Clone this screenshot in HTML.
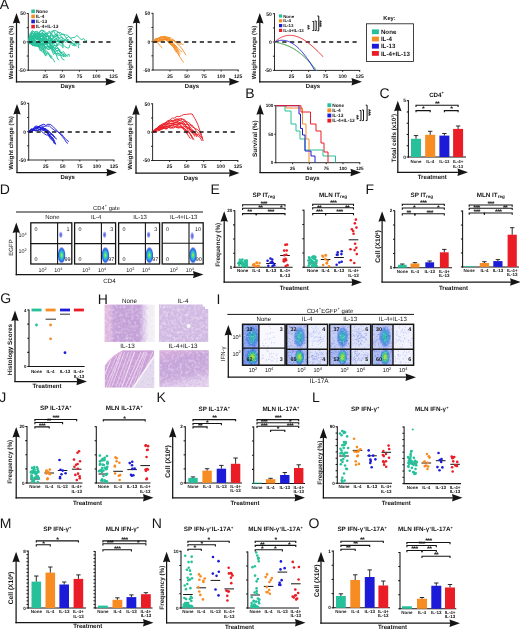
<!DOCTYPE html>
<html><head><meta charset="utf-8"><style>
html,body{margin:0;padding:0;background:#fff;width:520px;height:631px;overflow:hidden}
svg{display:block;will-change:transform}
text{font-family:"Liberation Sans",sans-serif;text-rendering:geometricPrecision}
</style></head><body>
<svg width="520" height="631" viewBox="0 0 520 631">
<defs><radialGradient id="gd0" cx="50%" cy="50%" r="50%"><stop offset="0" stop-color="#b0f040" stop-opacity="1"/><stop offset="0.28" stop-color="#40d890" stop-opacity="1"/><stop offset="0.5" stop-color="#28a8e8" stop-opacity="1"/><stop offset="0.75" stop-color="#2456e0" stop-opacity="0.95"/><stop offset="1" stop-color="#6a7af0" stop-opacity="0"/></radialGradient>
<radialGradient id="gu0" cx="50%" cy="50%" r="50%"><stop offset="0" stop-color="#4a54e0" stop-opacity="1"/><stop offset="0.55" stop-color="#7a84ec" stop-opacity="0.85"/><stop offset="1" stop-color="#b0b8f8" stop-opacity="0"/></radialGradient>
<radialGradient id="gd1" cx="50%" cy="50%" r="50%"><stop offset="0" stop-color="#b0f040" stop-opacity="1"/><stop offset="0.28" stop-color="#40d890" stop-opacity="1"/><stop offset="0.5" stop-color="#28a8e8" stop-opacity="1"/><stop offset="0.75" stop-color="#2456e0" stop-opacity="0.95"/><stop offset="1" stop-color="#6a7af0" stop-opacity="0"/></radialGradient>
<radialGradient id="gu1" cx="50%" cy="50%" r="50%"><stop offset="0" stop-color="#4a54e0" stop-opacity="1"/><stop offset="0.55" stop-color="#7a84ec" stop-opacity="0.85"/><stop offset="1" stop-color="#b0b8f8" stop-opacity="0"/></radialGradient>
<radialGradient id="gd2" cx="50%" cy="50%" r="50%"><stop offset="0" stop-color="#b0f040" stop-opacity="1"/><stop offset="0.28" stop-color="#40d890" stop-opacity="1"/><stop offset="0.5" stop-color="#28a8e8" stop-opacity="1"/><stop offset="0.75" stop-color="#2456e0" stop-opacity="0.95"/><stop offset="1" stop-color="#6a7af0" stop-opacity="0"/></radialGradient>
<radialGradient id="gu2" cx="50%" cy="50%" r="50%"><stop offset="0" stop-color="#4a54e0" stop-opacity="1"/><stop offset="0.55" stop-color="#7a84ec" stop-opacity="0.85"/><stop offset="1" stop-color="#b0b8f8" stop-opacity="0"/></radialGradient>
<radialGradient id="gd3" cx="50%" cy="50%" r="50%"><stop offset="0" stop-color="#b0f040" stop-opacity="1"/><stop offset="0.28" stop-color="#40d890" stop-opacity="1"/><stop offset="0.5" stop-color="#28a8e8" stop-opacity="1"/><stop offset="0.75" stop-color="#2456e0" stop-opacity="0.95"/><stop offset="1" stop-color="#6a7af0" stop-opacity="0"/></radialGradient>
<radialGradient id="gu3" cx="50%" cy="50%" r="50%"><stop offset="0" stop-color="#4a54e0" stop-opacity="1"/><stop offset="0.55" stop-color="#7a84ec" stop-opacity="0.85"/><stop offset="1" stop-color="#b0b8f8" stop-opacity="0"/></radialGradient>
<filter id="tex" x="0" y="0" width="100%" height="100%"><feTurbulence type="fractalNoise" baseFrequency="0.35" numOctaves="2" seed="3"/><feColorMatrix type="matrix" values="0 0 0 0 1  0 0 0 0 1  0 0 0 0 1  0 0 0 -2.2 1.25"/><feComposite in2="SourceGraphic" operator="in"/></filter>
<filter id="tex2" x="0" y="0" width="100%" height="100%"><feTurbulence type="fractalNoise" baseFrequency="0.5" numOctaves="2" seed="8"/><feColorMatrix type="matrix" values="0 0 0 0 0.45  0 0 0 0 0.25  0 0 0 0 0.6  0 0 0 -2.4 1.2"/><feComposite in2="SourceGraphic" operator="in"/></filter>
<linearGradient id="hTL" x1="0" y1="0" x2="1" y2="0"><stop offset="0" stop-color="#e4bce0"/><stop offset="0.12" stop-color="#dcb6e0"/><stop offset="0.18" stop-color="#c6a2d8"/><stop offset="0.7" stop-color="#c4a2d8"/><stop offset="0.78" stop-color="#dccaea"/><stop offset="0.86" stop-color="#f0eaf4"/><stop offset="1" stop-color="#f4f0f6"/></linearGradient>
<clipPath id="cBL"><path d="M104.6,366 Q110,358 118,353 L123,350.2 L154.2,350.2 L154.2,387.7 L104.6,387.7 Z"/></clipPath>
<linearGradient id="hBR" x1="0" y1="0" x2="0.3" y2="1"><stop offset="0" stop-color="#dcb0dc"/><stop offset="0.35" stop-color="#c6a4da"/><stop offset="0.75" stop-color="#caaadc"/><stop offset="1" stop-color="#e0cceb"/></linearGradient>
<radialGradient id="it0" cx="50%" cy="50%" r="50%"><stop offset="0" stop-color="#38c49a" stop-opacity="1"/><stop offset="0.35" stop-color="#36b0c8" stop-opacity="0.95"/><stop offset="0.7" stop-color="#4a7ee0" stop-opacity="0.75"/><stop offset="1" stop-color="#7a90ec" stop-opacity="0"/></radialGradient>
<radialGradient id="ib0" cx="50%" cy="50%" r="50%"><stop offset="0" stop-color="#c8e030" stop-opacity="1"/><stop offset="0.25" stop-color="#88dc48" stop-opacity="1"/><stop offset="0.5" stop-color="#38c890" stop-opacity="0.95"/><stop offset="0.78" stop-color="#3a88e0" stop-opacity="0.85"/><stop offset="1" stop-color="#4a70e0" stop-opacity="0"/></radialGradient>
<radialGradient id="it1" cx="50%" cy="50%" r="50%"><stop offset="0" stop-color="#38c49a" stop-opacity="1"/><stop offset="0.35" stop-color="#36b0c8" stop-opacity="0.95"/><stop offset="0.7" stop-color="#4a7ee0" stop-opacity="0.75"/><stop offset="1" stop-color="#7a90ec" stop-opacity="0"/></radialGradient>
<radialGradient id="ib1" cx="50%" cy="50%" r="50%"><stop offset="0" stop-color="#c8e030" stop-opacity="1"/><stop offset="0.25" stop-color="#88dc48" stop-opacity="1"/><stop offset="0.5" stop-color="#38c890" stop-opacity="0.95"/><stop offset="0.78" stop-color="#3a88e0" stop-opacity="0.85"/><stop offset="1" stop-color="#4a70e0" stop-opacity="0"/></radialGradient>
<radialGradient id="it2" cx="50%" cy="50%" r="50%"><stop offset="0" stop-color="#38c49a" stop-opacity="1"/><stop offset="0.35" stop-color="#36b0c8" stop-opacity="0.95"/><stop offset="0.7" stop-color="#4a7ee0" stop-opacity="0.75"/><stop offset="1" stop-color="#7a90ec" stop-opacity="0"/></radialGradient>
<radialGradient id="ib2" cx="50%" cy="50%" r="50%"><stop offset="0" stop-color="#c8e030" stop-opacity="1"/><stop offset="0.25" stop-color="#88dc48" stop-opacity="1"/><stop offset="0.5" stop-color="#38c890" stop-opacity="0.95"/><stop offset="0.78" stop-color="#3a88e0" stop-opacity="0.85"/><stop offset="1" stop-color="#4a70e0" stop-opacity="0"/></radialGradient>
<radialGradient id="it3" cx="50%" cy="50%" r="50%"><stop offset="0" stop-color="#38c49a" stop-opacity="1"/><stop offset="0.35" stop-color="#36b0c8" stop-opacity="0.95"/><stop offset="0.7" stop-color="#4a7ee0" stop-opacity="0.75"/><stop offset="1" stop-color="#7a90ec" stop-opacity="0"/></radialGradient>
<radialGradient id="ib3" cx="50%" cy="50%" r="50%"><stop offset="0" stop-color="#c8e030" stop-opacity="1"/><stop offset="0.25" stop-color="#88dc48" stop-opacity="1"/><stop offset="0.5" stop-color="#38c890" stop-opacity="0.95"/><stop offset="0.78" stop-color="#3a88e0" stop-opacity="0.85"/><stop offset="1" stop-color="#4a70e0" stop-opacity="0"/></radialGradient></defs>
<rect width="520" height="631" fill="#fff"/>
<text x="-0.20" y="8.90" font-size="14.0" text-anchor="start" font-weight="normal" fill="#151515">A</text>
<line x1="16.50" y1="82.42" x2="16.50" y2="21.40" stroke="#151515" stroke-width="1.25"/>
<line x1="15.88" y1="81.80" x2="107.60" y2="81.80" stroke="#151515" stroke-width="1.25"/>
<path d="M16.50,13.00 L20.20,23.50 Q16.50,22.03 12.80,23.50 Z" fill="#151515"/>
<path d="M116.00,81.80 L105.50,78.10 Q106.97,81.80 105.50,85.50 Z" fill="#151515"/>
<line x1="28.30" y1="13.10" x2="28.30" y2="70.60" stroke="#151515" stroke-width="0.9"/>
<line x1="26.70" y1="13.50" x2="28.30" y2="13.50" stroke="#151515" stroke-width="0.9"/>
<line x1="26.70" y1="27.68" x2="28.30" y2="27.68" stroke="#151515" stroke-width="0.9"/>
<line x1="26.70" y1="41.85" x2="28.30" y2="41.85" stroke="#151515" stroke-width="0.9"/>
<line x1="26.70" y1="56.03" x2="28.30" y2="56.03" stroke="#151515" stroke-width="0.9"/>
<line x1="26.70" y1="70.20" x2="28.30" y2="70.20" stroke="#151515" stroke-width="0.9"/>
<line x1="27.90" y1="70.20" x2="114.00" y2="70.20" stroke="#151515" stroke-width="0.9"/>
<line x1="45.34" y1="70.20" x2="45.34" y2="71.70" stroke="#151515" stroke-width="0.9"/>
<text x="45.34" y="77.80" font-size="5.0" text-anchor="middle" font-weight="bold" fill="#151515">25</text>
<line x1="62.38" y1="70.20" x2="62.38" y2="71.70" stroke="#151515" stroke-width="0.9"/>
<text x="62.38" y="77.80" font-size="5.0" text-anchor="middle" font-weight="bold" fill="#151515">50</text>
<line x1="79.42" y1="70.20" x2="79.42" y2="71.70" stroke="#151515" stroke-width="0.9"/>
<text x="79.42" y="77.80" font-size="5.0" text-anchor="middle" font-weight="bold" fill="#151515">75</text>
<line x1="96.46" y1="70.20" x2="96.46" y2="71.70" stroke="#151515" stroke-width="0.9"/>
<text x="96.46" y="77.80" font-size="5.0" text-anchor="middle" font-weight="bold" fill="#151515">100</text>
<line x1="113.50" y1="70.20" x2="113.50" y2="71.70" stroke="#151515" stroke-width="0.9"/>
<text x="113.50" y="77.80" font-size="5.0" text-anchor="middle" font-weight="bold" fill="#151515">125</text>
<text x="25.70" y="15.30" font-size="5.0" text-anchor="end" font-weight="bold" fill="#151515">50</text>
<text x="25.70" y="43.80" font-size="5.0" text-anchor="end" font-weight="bold" fill="#151515">0</text>
<text x="25.70" y="72.00" font-size="5.0" text-anchor="end" font-weight="bold" fill="#151515">-50</text>
<path d="M28.30,42.00 L30.70,39.62 L32.65,39.07 L35.21,36.97 L37.05,39.85 L38.87,37.25 L41.52,41.99 L44.57,37.39 L47.16,39.88 L49.08,43.67 L51.51,43.97 L53.47,43.42 L55.21,42.61 L55.63,40.60" stroke="#26c19a" stroke-width="0.95" fill="none" stroke-linejoin="round"/>
<path d="M28.30,42.00 L30.63,41.29 L33.69,35.52 L36.54,36.33 L38.67,39.09 L40.77,40.90 L43.52,40.61 L46.38,42.60 L49.39,42.25 L51.09,47.17 L54.04,48.16 L57.08,51.24 L57.45,50.28" stroke="#26c19a" stroke-width="0.95" fill="none" stroke-linejoin="round"/>
<path d="M28.30,42.00 L31.32,41.15 L33.18,44.24 L35.02,45.40 L37.82,45.17 L40.28,44.58 L42.25,43.87 L44.13,45.29 L45.99,47.52 L47.99,49.48 L51.01,48.29 L53.13,49.17 L55.12,53.21 L57.99,53.77 L59.83,53.11 L61.83,58.63 L64.52,60.21" stroke="#26c19a" stroke-width="0.95" fill="none" stroke-linejoin="round"/>
<path d="M28.30,42.00 L30.34,43.37 L32.55,45.55 L35.56,46.05 L38.04,45.18 L40.00,50.52 L42.94,49.17 L44.98,54.51 L47.70,52.92 L49.67,54.87 L51.37,58.62" stroke="#26c19a" stroke-width="0.95" fill="none" stroke-linejoin="round"/>
<path d="M28.30,42.00 L30.33,41.96 L32.38,42.19 L34.90,45.96 L36.84,43.97 L38.64,46.92 L41.11,44.05 L43.65,49.15 L46.60,52.36 L48.33,53.81 L50.64,57.59 L52.59,58.19 L54.79,62.29" stroke="#26c19a" stroke-width="0.95" fill="none" stroke-linejoin="round"/>
<path d="M28.30,42.00 L30.95,37.00 L32.84,37.91 L34.57,31.80 L37.23,31.18 L38.96,33.52 L41.32,33.89 L43.46,33.33 L45.27,36.74 L47.98,36.17 L50.69,38.78 L53.17,39.07" stroke="#26c19a" stroke-width="0.95" fill="none" stroke-linejoin="round"/>
<path d="M28.30,42.00 L30.57,38.24 L33.45,37.54 L36.01,37.65 L38.51,36.15 L40.32,36.43 L43.38,36.20 L46.08,40.12 L48.78,40.35 L51.09,40.11 L52.89,41.58" stroke="#26c19a" stroke-width="0.95" fill="none" stroke-linejoin="round"/>
<path d="M28.30,42.00 L30.96,38.02 L33.50,37.08 L35.55,44.01 L37.66,42.46 L39.64,47.57 L42.58,48.47 L44.11,49.19" stroke="#26c19a" stroke-width="0.95" fill="none" stroke-linejoin="round"/>
<path d="M28.30,42.00 L31.10,36.11 L34.01,37.67 L36.51,39.36 L38.40,39.97 L41.24,40.90 L43.91,43.41 L46.00,50.37 L48.31,52.82 L50.31,54.80 L52.21,57.06" stroke="#26c19a" stroke-width="0.95" fill="none" stroke-linejoin="round"/>
<path d="M28.30,42.00 L30.11,40.79 L33.00,37.38 L35.67,34.25 L37.79,33.61 L39.52,37.86 L41.85,39.37 L44.68,39.37 L46.58,41.29 L49.14,40.27 L51.70,40.39 L51.89,38.79" stroke="#26c19a" stroke-width="0.95" fill="none" stroke-linejoin="round"/>
<path d="M28.30,42.00 L30.02,43.22 L32.70,45.73 L34.77,44.97 L37.43,44.42 L39.97,43.62 L42.21,43.94 L45.15,48.62 L48.12,45.88 L50.00,47.92 L52.56,46.13 L54.78,48.73 L57.68,48.39 L60.67,51.26 L61.96,53.15" stroke="#26c19a" stroke-width="0.95" fill="none" stroke-linejoin="round"/>
<path d="M28.30,42.00 L30.29,37.57 L33.34,34.55 L35.77,34.18 L37.91,32.75 L40.78,35.62 L42.60,35.68 L45.05,34.92 L47.42,40.28 L50.23,41.70 L53.02,42.85 L55.18,40.85 L57.08,45.75 L59.49,44.27 L62.34,46.61 L62.98,48.21" stroke="#26c19a" stroke-width="0.95" fill="none" stroke-linejoin="round"/>
<path d="M28.30,42.00 L30.40,41.94 L32.97,44.26 L35.83,44.91 L37.96,46.27 L40.81,43.58 L42.80,44.28 L45.83,46.93 L48.31,49.53 L50.75,48.67 L53.27,52.27 L56.30,50.73 L58.55,50.07 L61.02,52.86 L63.67,56.42 L66.11,55.60 L69.11,54.17 L69.17,56.72" stroke="#26c19a" stroke-width="0.95" fill="none" stroke-linejoin="round"/>
<path d="M28.30,42.00 L30.65,42.24 L32.62,40.12 L35.58,42.57 L38.35,43.76 L40.32,43.31 L42.96,43.88 L45.15,43.22 L46.76,43.39" stroke="#26c19a" stroke-width="0.95" fill="none" stroke-linejoin="round"/>
<path d="M28.30,42.00 L30.73,39.82 L32.94,40.67 L35.37,44.14 L37.35,43.51 L39.93,47.00 L42.79,50.11 L45.66,56.11 L46.64,54.25" stroke="#26c19a" stroke-width="0.95" fill="none" stroke-linejoin="round"/>
<path d="M28.30,42.00 L30.30,39.27 L33.22,44.18 L35.25,40.90 L37.30,44.46 L40.14,42.68 L42.92,44.35 L45.18,41.24 L46.90,44.41 L49.54,41.46 L52.56,47.34 L54.96,45.01 L57.34,46.78 L59.31,51.40 L61.16,52.74 L63.61,51.67 L66.09,55.41 L67.91,56.36" stroke="#26c19a" stroke-width="0.95" fill="none" stroke-linejoin="round"/>
<path d="M28.30,42.00 L30.09,33.73 L32.42,31.00 L34.57,32.47 L36.98,33.12 L39.50,36.04 L42.16,32.08 L44.11,34.82 L46.82,35.91 L48.79,37.89 L51.20,39.53 L54.12,36.14 L56.78,36.77 L59.35,40.29 L61.87,40.70 L64.91,40.23 L66.20,40.16" stroke="#26c19a" stroke-width="0.95" fill="none" stroke-linejoin="round"/>
<path d="M28.30,42.00 L31.23,36.09 L33.88,34.64 L36.62,35.86 L39.31,38.16 L41.48,36.47 L43.20,37.59 L45.78,36.89 L47.80,35.78 L50.41,40.12 L53.01,39.81 L55.44,41.80 L58.51,41.66 L61.17,42.15 L63.59,47.38" stroke="#26c19a" stroke-width="0.95" fill="none" stroke-linejoin="round"/>
<path d="M28.30,42.00 L30.07,41.21 L32.29,39.56 L34.33,33.92 L36.79,36.13 L39.81,37.38 L42.87,39.08 L45.68,44.42 L48.20,42.73 L49.96,43.36 L51.89,47.72 L53.82,49.45 L56.36,54.44 L59.35,55.54 L60.07,55.32" stroke="#26c19a" stroke-width="0.95" fill="none" stroke-linejoin="round"/>
<path d="M28.30,42.00 L30.39,41.13 L32.50,45.30 L34.54,45.26 L36.45,41.38 L38.69,41.01 L41.41,46.44 L44.47,42.33 L46.27,43.12 L48.56,46.30 L51.59,48.70 L53.26,45.45" stroke="#26c19a" stroke-width="0.95" fill="none" stroke-linejoin="round"/>
<path d="M28.30,42.00 L30.83,43.46 L33.38,41.00 L35.36,42.94 L37.79,42.25 L40.10,39.06 L42.42,41.32 L44.92,40.55 L47.68,40.08 L50.75,37.92 L53.45,42.11 L55.31,38.59 L58.08,40.31 L60.28,42.47 L62.92,41.05 L63.00,40.68" stroke="#26c19a" stroke-width="0.95" fill="none" stroke-linejoin="round"/>
<path d="M28.30,42.00 L31.25,40.61 L33.01,45.56 L35.08,43.87 L37.64,46.02 L40.08,46.41 L41.90,43.13 L44.36,43.47 L46.57,45.09 L48.56,46.77 L51.28,45.47 L53.08,50.57 L55.89,49.55 L58.64,53.75 L60.93,55.16 L63.73,56.68 L63.83,53.28" stroke="#26c19a" stroke-width="0.95" fill="none" stroke-linejoin="round"/>
<path d="M28.30,42.00 L30.59,41.43 L32.42,37.80 L34.23,41.65 L36.71,38.94 L39.35,40.13 L42.11,42.48 L44.10,40.19 L45.92,43.20 L48.61,42.64 L50.70,47.08 L52.17,44.81" stroke="#26c19a" stroke-width="0.95" fill="none" stroke-linejoin="round"/>
<path d="M28.30,42.00 L31.26,41.59 L34.21,45.44 L37.00,46.38 L39.14,45.99 L42.12,43.45 L44.16,46.62 L46.36,46.82 L48.61,46.92 L50.58,46.15 L53.28,46.59" stroke="#26c19a" stroke-width="0.95" fill="none" stroke-linejoin="round"/>
<path d="M28.30,42.00 L31.20,41.93 L32.94,39.99 L35.38,39.00 L38.41,37.96 L41.21,41.01 L43.66,37.48 L45.47,42.37 L48.18,39.49 L50.00,42.26 L51.90,43.08 L54.49,47.98 L56.50,46.80 L58.91,48.98 L61.15,53.47 L64.18,54.56 L66.10,57.26" stroke="#26c19a" stroke-width="0.95" fill="none" stroke-linejoin="round"/>
<path d="M28.30,42.00 L31.13,37.93 L34.00,35.26 L36.84,34.21 L39.85,35.99 L42.27,36.04 L45.06,38.24 L47.34,40.31 L50.06,36.25 L52.27,41.44 L54.25,40.54 L56.36,38.08 L58.14,42.31 L60.00,40.96 L62.76,44.44 L62.95,42.93" stroke="#26c19a" stroke-width="0.95" fill="none" stroke-linejoin="round"/>
<path d="M28.30,42.00 L30.26,37.48 L32.28,32.18 L34.80,35.97 L36.75,37.01 L38.69,35.90 L40.82,38.95 L43.64,42.06 L45.70,41.91 L48.65,48.20 L51.10,47.58 L53.46,54.53 L55.23,52.65 L58.03,59.36 L59.22,60.18" stroke="#26c19a" stroke-width="0.95" fill="none" stroke-linejoin="round"/>
<path d="M28.30,42.00 L30.02,35.64 L32.23,30.50 L34.91,32.72 L36.82,36.52 L38.97,37.60 L41.86,38.67 L44.43,38.43 L46.50,43.07 L48.40,43.75 L50.11,45.31 L50.78,46.05" stroke="#26c19a" stroke-width="0.95" fill="none" stroke-linejoin="round"/>
<path d="M28.30,42.00 L30.66,43.13 L33.67,42.94 L36.54,45.17 L39.32,45.26 L42.27,47.94 L45.10,48.16 L45.54,46.53" stroke="#26c19a" stroke-width="0.95" fill="none" stroke-linejoin="round"/>
<path d="M28.30,42.00 L30.11,37.88 L32.45,33.35 L34.64,35.22 L36.49,38.85 L38.82,38.58 L41.66,44.34 L43.38,48.52 L46.05,53.63 L47.59,55.01" stroke="#26c19a" stroke-width="0.95" fill="none" stroke-linejoin="round"/>
<path d="M28.30,42.00 L30.84,33.31 L33.06,33.17 L35.17,36.15 L37.41,36.59 L39.46,41.53 L42.16,44.12 L43.58,44.66" stroke="#26c19a" stroke-width="0.95" fill="none" stroke-linejoin="round"/>
<path d="M28.30,42.00 L30.20,44.29 L32.82,40.86 L34.77,42.64 L37.62,41.72 L39.44,43.89 L41.36,44.60 L43.62,45.05 L46.58,43.31 L48.98,42.28 L51.73,41.55 L53.96,44.50 L56.23,46.49 L58.48,42.88 L61.52,42.68 L63.03,43.85" stroke="#26c19a" stroke-width="0.95" fill="none" stroke-linejoin="round"/>
<path d="M28.30,42.00 L30.15,42.71 L32.55,40.42 L35.38,42.82 L37.30,43.94 L40.23,48.79 L42.42,52.10 L43.80,52.96" stroke="#26c19a" stroke-width="0.95" fill="none" stroke-linejoin="round"/>
<path d="M28.30,42.00 L30.27,38.89 L32.83,42.39 L34.65,41.72 L37.14,38.74 L39.29,37.16 L41.49,39.57 L43.36,36.63 L45.25,37.04 L47.69,39.37 L50.16,41.57 L53.11,38.25 L55.92,41.24 L57.80,40.56 L59.89,40.82 L61.93,43.31 L64.76,46.46 L67.21,47.95 L68.96,48.02 L70.20,44.23" stroke="#26c19a" stroke-width="0.95" fill="none" stroke-linejoin="round"/>
<path d="M28.30,42.00 L30.02,40.36 L32.10,35.54 L34.74,34.40 L37.21,32.65 L39.11,33.27 L41.03,30.47 L42.82,31.21 L44.62,32.30 L46.79,34.38 L49.64,37.29 L51.43,32.78 L53.82,38.12 L56.87,34.32 L58.73,37.88 L60.62,39.16 L63.17,40.91 L65.82,42.54 L67.76,39.00 L70.01,42.11 L72.53,42.80 L74.76,46.22 L77.45,42.11 L80.40,45.09" stroke="#26c19a" stroke-width="0.95" fill="none" stroke-linejoin="round"/>
<path d="M28.30,42.00 L30.16,42.27 L32.36,39.44 L35.17,38.11 L36.91,35.57 L39.20,36.46 L41.21,36.41 L43.44,34.01 L45.28,34.99 L47.23,34.03 L48.98,36.39 L51.16,34.77 L52.93,36.18 L54.92,37.71 L57.27,34.63 L59.63,35.41 L61.57,36.25 L63.77,41.16 L66.49,38.14 L68.20,42.42 L70.96,43.13 L72.99,45.85 L74.75,43.19 L77.80,42.41 L78.63,48.24" stroke="#26c19a" stroke-width="0.95" fill="none" stroke-linejoin="round"/>
<path d="M28.30,42.00 L30.32,39.83 L32.67,37.19 L34.73,33.83 L37.66,36.38 L39.76,31.37 L41.84,30.18 L44.25,30.95 L46.91,33.32 L49.00,33.24 L51.64,31.38 L53.52,30.83 L55.80,35.15 L58.10,31.79 L60.57,34.68 L63.52,33.93 L66.26,38.10 L68.77,36.46 L71.55,39.49 L73.73,41.68 L76.44,41.86 L78.12,41.85" stroke="#26c19a" stroke-width="0.95" fill="none" stroke-linejoin="round"/>
<path d="M28.30,42.00 L30.73,38.64 L32.95,41.05 L35.14,38.56 L38.12,34.89 L40.56,34.16 L42.43,33.92 L45.09,33.82 L47.13,33.20 L49.28,31.19 L51.17,34.23 L53.30,30.62 L56.04,30.73 L59.02,32.87 L60.77,32.59 L63.08,34.92 L65.69,34.78 L67.72,35.49 L70.71,38.28 L72.90,37.53 L74.88,37.40 L76.89,35.44 L79.27,37.60 L81.20,39.68 L83.73,38.61 L85.77,41.62 L86.84,39.99" stroke="#26c19a" stroke-width="0.95" fill="none" stroke-linejoin="round"/>
<path d="M28.30,42.00 L30.92,38.50 L33.95,36.73 L36.58,36.31 L39.29,35.38 L41.67,34.62 L43.79,35.74 L45.81,33.74 L47.85,36.95 L50.65,36.29 L53.63,35.36 L55.87,34.50 L58.79,38.53 L60.67,37.37 L63.52,38.55 L66.30,40.66 L68.84,42.46 L71.10,42.69 L73.33,43.47 L76.13,45.91 L76.70,45.67" stroke="#26c19a" stroke-width="0.95" fill="none" stroke-linejoin="round"/>
<line x1="28.30" y1="41.90" x2="111.80" y2="41.90" stroke="#151515" stroke-width="1.5" stroke-dasharray="4.2,3.6"/>
<rect x="31.30" y="9.50" width="3.60" height="3.60" fill="#26c19a"/>
<text x="35.90" y="13.03" font-size="4.8" text-anchor="start" font-weight="bold" fill="#151515">None</text>
<rect x="31.30" y="14.60" width="3.60" height="3.60" fill="#f68c22"/>
<text x="35.90" y="18.13" font-size="4.8" text-anchor="start" font-weight="bold" fill="#151515">IL-4</text>
<rect x="31.30" y="19.70" width="3.60" height="3.60" fill="#1c1cd8"/>
<text x="35.90" y="23.23" font-size="4.8" text-anchor="start" font-weight="bold" fill="#151515">IL-13</text>
<rect x="31.30" y="24.80" width="3.60" height="3.60" fill="#ea1d26"/>
<text x="35.90" y="28.33" font-size="4.8" text-anchor="start" font-weight="bold" fill="#151515">IL-4+IL-13</text>
<text x="13.00" y="52.50" font-size="6.0" text-anchor="middle" font-weight="bold" fill="#151515" transform="rotate(-90 13.00 52.50)">Weight change (%)</text>
<text x="67.70" y="88.20" font-size="6.0" text-anchor="middle" font-weight="bold" fill="#151515">Days</text>
<line x1="136.50" y1="82.42" x2="136.50" y2="21.40" stroke="#151515" stroke-width="1.25"/>
<line x1="135.88" y1="81.80" x2="231.10" y2="81.80" stroke="#151515" stroke-width="1.25"/>
<path d="M136.50,13.00 L140.20,23.50 Q136.50,22.03 132.80,23.50 Z" fill="#151515"/>
<path d="M239.50,81.80 L229.00,78.10 Q230.47,81.80 229.00,85.50 Z" fill="#151515"/>
<line x1="153.00" y1="12.90" x2="153.00" y2="70.40" stroke="#151515" stroke-width="0.9"/>
<line x1="151.40" y1="13.30" x2="153.00" y2="13.30" stroke="#151515" stroke-width="0.9"/>
<line x1="151.40" y1="27.47" x2="153.00" y2="27.47" stroke="#151515" stroke-width="0.9"/>
<line x1="151.40" y1="41.65" x2="153.00" y2="41.65" stroke="#151515" stroke-width="0.9"/>
<line x1="151.40" y1="55.83" x2="153.00" y2="55.83" stroke="#151515" stroke-width="0.9"/>
<line x1="151.40" y1="70.00" x2="153.00" y2="70.00" stroke="#151515" stroke-width="0.9"/>
<line x1="152.60" y1="70.00" x2="238.70" y2="70.00" stroke="#151515" stroke-width="0.9"/>
<line x1="170.04" y1="70.00" x2="170.04" y2="71.50" stroke="#151515" stroke-width="0.9"/>
<text x="170.04" y="77.60" font-size="5.0" text-anchor="middle" font-weight="bold" fill="#151515">25</text>
<line x1="187.08" y1="70.00" x2="187.08" y2="71.50" stroke="#151515" stroke-width="0.9"/>
<text x="187.08" y="77.60" font-size="5.0" text-anchor="middle" font-weight="bold" fill="#151515">50</text>
<line x1="204.12" y1="70.00" x2="204.12" y2="71.50" stroke="#151515" stroke-width="0.9"/>
<text x="204.12" y="77.60" font-size="5.0" text-anchor="middle" font-weight="bold" fill="#151515">75</text>
<line x1="221.16" y1="70.00" x2="221.16" y2="71.50" stroke="#151515" stroke-width="0.9"/>
<text x="221.16" y="77.60" font-size="5.0" text-anchor="middle" font-weight="bold" fill="#151515">100</text>
<line x1="238.20" y1="70.00" x2="238.20" y2="71.50" stroke="#151515" stroke-width="0.9"/>
<text x="238.20" y="77.60" font-size="5.0" text-anchor="middle" font-weight="bold" fill="#151515">125</text>
<text x="150.40" y="15.10" font-size="5.0" text-anchor="end" font-weight="bold" fill="#151515">50</text>
<text x="150.40" y="43.60" font-size="5.0" text-anchor="end" font-weight="bold" fill="#151515">0</text>
<text x="150.40" y="71.80" font-size="5.0" text-anchor="end" font-weight="bold" fill="#151515">-50</text>
<path d="M153.00,41.80 L154.96,42.26 L157.55,41.19 L160.46,40.96 L163.48,40.35 L166.00,38.63 L168.64,38.47 L171.31,40.48 L174.21,40.02 L176.34,42.99 L179.20,45.42 L182.18,48.99 L185.20,53.99 L186.07,55.25" stroke="#f68c22" stroke-width="0.9" fill="none" stroke-linejoin="round"/>
<path d="M153.00,41.80 L156.01,39.60 L157.90,38.25 L160.52,38.78 L162.29,37.45 L164.04,36.16 L166.43,36.91 L168.69,37.48 L171.65,41.49 L173.86,43.71 L175.97,46.72 L178.41,50.93 L179.20,51.98" stroke="#f68c22" stroke-width="0.9" fill="none" stroke-linejoin="round"/>
<path d="M153.00,41.80 L155.25,38.90 L158.26,38.08 L160.51,38.23 L163.43,37.60 L165.88,38.62 L168.03,40.73 L170.00,43.77 L172.43,45.07 L175.02,50.11 L176.46,52.61" stroke="#f68c22" stroke-width="0.9" fill="none" stroke-linejoin="round"/>
<path d="M153.00,41.80 L155.86,40.05 L158.28,38.70 L161.33,37.32 L163.68,36.92 L166.26,37.70 L169.03,37.46 L171.57,38.28 L173.30,40.21 L175.87,41.99 L177.80,42.27 L180.10,44.70 L181.04,43.63" stroke="#f68c22" stroke-width="0.9" fill="none" stroke-linejoin="round"/>
<path d="M153.00,41.80 L155.88,41.52 L157.97,41.15 L160.31,40.44 L162.48,38.94 L165.45,39.08 L167.20,41.21 L170.07,44.18 L172.05,44.79 L174.27,46.23 L176.96,49.61 L179.00,52.34 L180.37,54.25" stroke="#f68c22" stroke-width="0.9" fill="none" stroke-linejoin="round"/>
<path d="M153.00,41.80 L154.78,41.27 L157.31,41.72 L159.68,41.27 L162.42,40.91 L164.99,38.30 L167.85,39.97 L170.28,40.52 L172.45,39.43 L175.27,42.52 L177.49,41.92 L179.43,42.40 L182.36,44.39 L183.59,44.29" stroke="#f68c22" stroke-width="0.9" fill="none" stroke-linejoin="round"/>
<path d="M153.00,41.80 L155.85,40.65 L158.50,39.15 L161.53,40.14 L163.79,38.34 L166.53,40.37 L169.13,42.37 L171.05,44.04 L173.28,45.27 L175.69,45.48 L177.60,48.13 L180.48,50.66 L182.12,51.82" stroke="#f68c22" stroke-width="0.9" fill="none" stroke-linejoin="round"/>
<path d="M153.00,41.80 L155.83,40.75 L157.62,39.56 L160.02,36.74 L162.96,37.31 L165.51,36.61 L167.67,37.79 L170.66,41.63 L173.59,45.23 L174.75,47.99" stroke="#f68c22" stroke-width="0.9" fill="none" stroke-linejoin="round"/>
<path d="M153.00,41.80 L155.11,42.25 L157.25,41.46 L159.56,40.38 L161.50,39.69 L163.77,39.68 L166.58,39.59 L169.02,38.55 L172.04,43.13 L173.79,44.27 L176.20,49.89 L178.08,53.12 L179.50,55.98" stroke="#f68c22" stroke-width="0.9" fill="none" stroke-linejoin="round"/>
<path d="M153.00,41.80 L155.36,38.70 L157.75,38.83 L159.92,37.28 L162.87,37.05 L165.20,38.10 L166.97,39.03 L169.77,40.98 L171.97,43.55 L173.69,45.40 L175.57,46.07" stroke="#f68c22" stroke-width="0.9" fill="none" stroke-linejoin="round"/>
<path d="M153.00,41.80 L155.51,40.88 L157.94,40.66 L159.90,39.54 L161.91,39.17 L163.65,39.74 L166.32,39.52 L168.72,41.03 L170.91,44.84 L173.69,47.33 L176.29,50.94 L179.31,56.08 L182.05,60.52 L183.62,62.59" stroke="#f68c22" stroke-width="0.9" fill="none" stroke-linejoin="round"/>
<path d="M153.00,41.80 L154.97,41.22 L156.80,42.07 L158.71,43.97 L161.40,47.11 L162.35,48.25" stroke="#f68c22" stroke-width="0.9" fill="none" stroke-linejoin="round"/>
<line x1="153.00" y1="41.90" x2="238.00" y2="41.90" stroke="#151515" stroke-width="1.5" stroke-dasharray="4.2,3.6"/>
<text x="132.40" y="52.50" font-size="6.0" text-anchor="middle" font-weight="bold" fill="#151515" transform="rotate(-90 132.40 52.50)">Weight change (%)</text>
<text x="192.00" y="88.20" font-size="6.0" text-anchor="middle" font-weight="bold" fill="#151515">Days</text>
<line x1="259.80" y1="82.42" x2="259.80" y2="21.40" stroke="#151515" stroke-width="1.25"/>
<line x1="259.18" y1="81.80" x2="353.60" y2="81.80" stroke="#151515" stroke-width="1.25"/>
<path d="M259.80,13.00 L263.50,23.50 Q259.80,22.03 256.10,23.50 Z" fill="#151515"/>
<path d="M362.00,81.80 L351.50,78.10 Q352.97,81.80 351.50,85.50 Z" fill="#151515"/>
<line x1="274.50" y1="13.30" x2="274.50" y2="70.80" stroke="#151515" stroke-width="0.9"/>
<line x1="272.90" y1="13.70" x2="274.50" y2="13.70" stroke="#151515" stroke-width="0.9"/>
<line x1="272.90" y1="27.88" x2="274.50" y2="27.88" stroke="#151515" stroke-width="0.9"/>
<line x1="272.90" y1="42.05" x2="274.50" y2="42.05" stroke="#151515" stroke-width="0.9"/>
<line x1="272.90" y1="56.23" x2="274.50" y2="56.23" stroke="#151515" stroke-width="0.9"/>
<line x1="272.90" y1="70.40" x2="274.50" y2="70.40" stroke="#151515" stroke-width="0.9"/>
<line x1="274.10" y1="70.40" x2="360.20" y2="70.40" stroke="#151515" stroke-width="0.9"/>
<line x1="291.54" y1="70.40" x2="291.54" y2="71.90" stroke="#151515" stroke-width="0.9"/>
<text x="291.54" y="78.00" font-size="5.0" text-anchor="middle" font-weight="bold" fill="#151515">25</text>
<line x1="308.58" y1="70.40" x2="308.58" y2="71.90" stroke="#151515" stroke-width="0.9"/>
<text x="308.58" y="78.00" font-size="5.0" text-anchor="middle" font-weight="bold" fill="#151515">50</text>
<line x1="325.62" y1="70.40" x2="325.62" y2="71.90" stroke="#151515" stroke-width="0.9"/>
<text x="325.62" y="78.00" font-size="5.0" text-anchor="middle" font-weight="bold" fill="#151515">75</text>
<line x1="342.66" y1="70.40" x2="342.66" y2="71.90" stroke="#151515" stroke-width="0.9"/>
<text x="342.66" y="78.00" font-size="5.0" text-anchor="middle" font-weight="bold" fill="#151515">100</text>
<line x1="359.70" y1="70.40" x2="359.70" y2="71.90" stroke="#151515" stroke-width="0.9"/>
<text x="359.70" y="78.00" font-size="5.0" text-anchor="middle" font-weight="bold" fill="#151515">125</text>
<text x="271.90" y="15.50" font-size="5.0" text-anchor="end" font-weight="bold" fill="#151515">50</text>
<text x="271.90" y="44.00" font-size="5.0" text-anchor="end" font-weight="bold" fill="#151515">0</text>
<text x="271.90" y="72.20" font-size="5.0" text-anchor="end" font-weight="bold" fill="#151515">-50</text>
<line x1="274.50" y1="41.90" x2="358.00" y2="41.90" stroke="#151515" stroke-width="1.5" stroke-dasharray="4.2,3.6"/>
<path d="M274.50,42.20 L275.37,42.32 L276.23,42.45 L277.10,42.60 L277.96,42.76 L278.83,42.94 L279.70,43.13 L280.56,43.35 L281.43,43.58 L282.30,43.82 L283.16,44.09 L284.03,44.37 L284.89,44.67 L285.76,44.99 L286.63,45.33 L287.49,45.69 L288.36,46.07 L289.23,46.46 L290.09,46.88 L290.96,47.32 L291.82,47.77 L292.69,48.25 L293.56,48.75 L294.42,49.27 L295.29,49.81 L296.15,50.38 L297.02,50.96 L297.89,51.57 L298.75,52.20 L299.62,52.86 L300.49,53.54 L301.35,54.24 L302.22,54.97 L303.08,55.72 L303.95,56.49 L304.82,57.29 L305.68,58.12 L306.55,58.97 L307.42,59.84 L308.28,60.74 L309.15,61.67 L310.01,62.63 L310.88,63.61 L311.75,64.62 L312.61,65.65 L313.48,66.72 L314.35,67.81 L315.21,68.93 L316.08,70.08" stroke="#f68c22" stroke-width="0.9" fill="none"/>
<path d="M274.50,42.20 L275.38,42.32 L276.25,42.45 L277.13,42.60 L278.00,42.77 L278.88,42.95 L279.76,43.15 L280.63,43.37 L281.51,43.60 L282.39,43.85 L283.26,44.12 L284.14,44.41 L285.01,44.72 L285.89,45.04 L286.77,45.39 L287.64,45.75 L288.52,46.14 L289.39,46.54 L290.27,46.97 L291.15,47.41 L292.02,47.88 L292.90,48.37 L293.78,48.88 L294.65,49.41 L295.53,49.97 L296.40,50.54 L297.28,51.14 L298.16,51.77 L299.03,52.41 L299.91,53.08 L300.78,53.78 L301.66,54.49 L302.54,55.24 L303.41,56.01 L304.29,56.80 L305.16,57.62 L306.04,58.46 L306.92,59.33 L307.79,60.23 L308.67,61.16 L309.55,62.11 L310.42,63.09 L311.30,64.09 L312.17,65.13 L313.05,66.19 L313.93,67.28 L314.80,68.40 L315.68,69.55 L316.55,70.72" stroke="#26c19a" stroke-width="0.9" fill="none"/>
<path d="M274.50,42.20 L275.34,41.80 L276.18,41.45 L277.02,41.15 L277.86,40.89 L278.70,40.68 L279.54,40.51 L280.38,40.39 L281.23,40.31 L282.07,40.28 L282.91,40.29 L283.75,40.35 L284.59,40.45 L285.43,40.59 L286.27,40.78 L287.11,41.00 L287.95,41.28 L288.79,41.59 L289.63,41.94 L290.47,42.34 L291.31,42.78 L292.15,43.26 L292.99,43.78 L293.83,44.34 L294.68,44.94 L295.52,45.58 L296.36,46.26 L297.20,46.98 L298.04,47.74 L298.88,48.54 L299.72,49.38 L300.56,50.25 L301.40,51.16 L302.24,52.11 L303.08,53.10 L303.92,54.12 L304.76,55.18 L305.60,56.28 L306.44,57.42 L307.28,58.59 L308.13,59.79 L308.97,61.03 L309.81,62.31 L310.65,63.62 L311.49,64.96 L312.33,66.34 L313.17,67.76 L314.01,69.20 L314.85,70.68" stroke="#1c1cd8" stroke-width="0.9" fill="none"/>
<path d="M274.50,42.20 L275.51,41.28 L276.52,40.44 L277.53,39.66 L278.54,38.96 L279.56,38.32 L280.57,37.74 L281.58,37.23 L282.59,36.79 L283.60,36.40 L284.61,36.08 L285.62,35.82 L286.63,35.61 L287.64,35.46 L288.65,35.37 L289.67,35.33 L290.68,35.35 L291.69,35.42 L292.70,35.54 L293.71,35.71 L294.72,35.92 L295.73,36.19 L296.74,36.50 L297.75,36.86 L298.76,37.26 L299.78,37.70 L300.79,38.18 L301.80,38.71 L302.81,39.27 L303.82,39.87 L304.83,40.51 L305.84,41.18 L306.85,41.88 L307.86,42.62 L308.88,43.39 L309.89,44.19 L310.90,45.02 L311.91,45.88 L312.92,46.76 L313.93,47.67 L314.94,48.60 L315.95,49.56 L316.96,50.54 L317.97,51.53 L318.99,52.55 L320.00,53.59 L321.01,54.64 L322.02,55.70 L323.03,56.79" stroke="#ea1d26" stroke-width="0.9" fill="none"/>
<rect x="279.00" y="14.40" width="3.20" height="3.20" fill="#26c19a"/>
<text x="283.20" y="17.58" font-size="4.4" text-anchor="start" font-weight="bold" fill="#151515">None</text>
<rect x="279.00" y="19.20" width="3.20" height="3.20" fill="#f68c22"/>
<text x="283.20" y="22.38" font-size="4.4" text-anchor="start" font-weight="bold" fill="#151515">IL-4</text>
<rect x="279.00" y="24.00" width="3.20" height="3.20" fill="#1c1cd8"/>
<text x="283.20" y="27.18" font-size="4.4" text-anchor="start" font-weight="bold" fill="#151515">IL-13</text>
<rect x="279.00" y="28.80" width="3.20" height="3.20" fill="#ea1d26"/>
<text x="283.20" y="31.98" font-size="4.4" text-anchor="start" font-weight="bold" fill="#151515">IL-4+IL-13</text>
<path d="M312.40,21.50 L313.80,21.50 L313.80,30.50 L312.40,30.50" stroke="#151515" stroke-width="1.0" fill="none"/>
<path d="M314.80,21.00 L316.20,21.00 L316.20,30.50 L314.80,30.50" stroke="#151515" stroke-width="1.0" fill="none"/>
<path d="M317.35,16.00 L318.75,16.00 L318.75,30.80 L317.35,30.80" stroke="#151515" stroke-width="1.0" fill="none"/>
<text x="304.65" y="27.00" font-size="7.0" text-anchor="middle" font-weight="bold" fill="#151515" transform="rotate(90 304.65 27.00)" letter-spacing="-0.6">**</text>
<text x="317.25" y="23.50" font-size="7.0" text-anchor="middle" font-weight="bold" fill="#151515" transform="rotate(90 317.25 23.50)" letter-spacing="-0.6">***</text>
<text x="255.60" y="52.50" font-size="6.0" text-anchor="middle" font-weight="bold" fill="#151515" transform="rotate(-90 255.60 52.50)">Weight change (%)</text>
<text x="313.00" y="88.20" font-size="6.0" text-anchor="middle" font-weight="bold" fill="#151515">Days</text>
<rect x="366.50" y="23.80" width="47.00" height="37.70" fill="none" stroke="#151515" stroke-width="0.8"/>
<text x="389.50" y="19.50" font-size="5.7" text-anchor="middle" font-weight="bold" fill="#151515">Key:</text>
<rect x="371.90" y="29.40" width="7.00" height="4.80" fill="#26c19a"/>
<text x="380.90" y="34.03" font-size="6.2" text-anchor="start" font-weight="bold" fill="#151515">None</text>
<rect x="371.90" y="36.60" width="7.00" height="4.80" fill="#f68c22"/>
<text x="380.90" y="41.23" font-size="6.2" text-anchor="start" font-weight="bold" fill="#151515">IL-4</text>
<rect x="371.90" y="43.80" width="7.00" height="4.80" fill="#1c1cd8"/>
<text x="380.90" y="48.43" font-size="6.2" text-anchor="start" font-weight="bold" fill="#151515">IL-13</text>
<rect x="371.90" y="51.00" width="7.00" height="4.80" fill="#ea1d26"/>
<text x="380.90" y="55.63" font-size="6.2" text-anchor="start" font-weight="bold" fill="#151515">IL-4+IL-13</text>
<line x1="17.00" y1="173.12" x2="17.00" y2="112.40" stroke="#151515" stroke-width="1.25"/>
<line x1="16.38" y1="172.50" x2="108.60" y2="172.50" stroke="#151515" stroke-width="1.25"/>
<path d="M17.00,104.00 L20.70,114.50 Q17.00,113.03 13.30,114.50 Z" fill="#151515"/>
<path d="M117.00,172.50 L106.50,168.80 Q107.97,172.50 106.50,176.20 Z" fill="#151515"/>
<line x1="28.70" y1="102.90" x2="28.70" y2="160.40" stroke="#151515" stroke-width="0.9"/>
<line x1="27.10" y1="103.30" x2="28.70" y2="103.30" stroke="#151515" stroke-width="0.9"/>
<line x1="27.10" y1="117.48" x2="28.70" y2="117.48" stroke="#151515" stroke-width="0.9"/>
<line x1="27.10" y1="131.65" x2="28.70" y2="131.65" stroke="#151515" stroke-width="0.9"/>
<line x1="27.10" y1="145.82" x2="28.70" y2="145.82" stroke="#151515" stroke-width="0.9"/>
<line x1="27.10" y1="160.00" x2="28.70" y2="160.00" stroke="#151515" stroke-width="0.9"/>
<line x1="28.30" y1="160.00" x2="114.40" y2="160.00" stroke="#151515" stroke-width="0.9"/>
<line x1="45.74" y1="160.00" x2="45.74" y2="161.50" stroke="#151515" stroke-width="0.9"/>
<text x="45.74" y="167.60" font-size="5.0" text-anchor="middle" font-weight="bold" fill="#151515">25</text>
<line x1="62.78" y1="160.00" x2="62.78" y2="161.50" stroke="#151515" stroke-width="0.9"/>
<text x="62.78" y="167.60" font-size="5.0" text-anchor="middle" font-weight="bold" fill="#151515">50</text>
<line x1="79.82" y1="160.00" x2="79.82" y2="161.50" stroke="#151515" stroke-width="0.9"/>
<text x="79.82" y="167.60" font-size="5.0" text-anchor="middle" font-weight="bold" fill="#151515">75</text>
<line x1="96.86" y1="160.00" x2="96.86" y2="161.50" stroke="#151515" stroke-width="0.9"/>
<text x="96.86" y="167.60" font-size="5.0" text-anchor="middle" font-weight="bold" fill="#151515">100</text>
<line x1="113.90" y1="160.00" x2="113.90" y2="161.50" stroke="#151515" stroke-width="0.9"/>
<text x="113.90" y="167.60" font-size="5.0" text-anchor="middle" font-weight="bold" fill="#151515">125</text>
<text x="26.10" y="105.10" font-size="5.0" text-anchor="end" font-weight="bold" fill="#151515">50</text>
<text x="26.10" y="133.60" font-size="5.0" text-anchor="end" font-weight="bold" fill="#151515">0</text>
<text x="26.10" y="161.80" font-size="5.0" text-anchor="end" font-weight="bold" fill="#151515">-50</text>
<path d="M28.70,131.80 L31.29,128.75 L34.24,129.40 L36.83,127.40 L39.22,126.27 L41.64,128.83 L44.63,129.95 L46.75,132.31 L49.13,134.78 L51.66,134.67 L53.94,136.19 L55.18,138.10" stroke="#1c1cd8" stroke-width="0.9" fill="none" stroke-linejoin="round"/>
<path d="M28.70,131.80 L30.79,132.08 L33.72,129.79 L35.59,130.73 L37.62,130.56 L39.34,129.60 L41.46,129.82 L43.41,130.58 L45.16,128.35 L47.88,131.84 L49.76,135.45 L51.62,137.62 L53.41,140.52 L55.39,144.07 L56.08,144.48" stroke="#1c1cd8" stroke-width="0.9" fill="none" stroke-linejoin="round"/>
<path d="M28.70,131.80 L30.82,132.16 L33.18,130.39 L35.95,130.44 L38.85,130.23 L41.29,128.74 L43.42,127.84 L46.08,132.10 L48.46,133.10 L50.21,136.61 L52.74,137.70 L54.38,140.72" stroke="#1c1cd8" stroke-width="0.9" fill="none" stroke-linejoin="round"/>
<path d="M28.70,131.80 L31.06,132.41 L33.31,129.40 L35.45,130.98 L37.41,128.79 L39.96,129.73 L42.52,128.13 L45.54,128.62 L47.83,130.33 L50.80,132.75 L53.52,136.32 L54.66,136.74" stroke="#1c1cd8" stroke-width="0.9" fill="none" stroke-linejoin="round"/>
<path d="M28.70,131.80 L30.77,129.67 L33.26,129.24 L35.22,126.23 L37.02,126.01 L39.78,128.10 L42.84,129.93 L44.55,130.55 L46.82,132.63 L49.63,137.67 L51.39,139.82 L54.16,140.47 L55.62,144.14" stroke="#1c1cd8" stroke-width="0.9" fill="none" stroke-linejoin="round"/>
<path d="M28.70,131.80 L31.72,129.18 L34.57,130.05 L36.28,126.91 L38.83,127.87 L40.71,127.59 L42.87,127.11 L45.19,129.73 L47.01,131.55 L48.88,134.00 L51.15,136.77 L53.51,138.74" stroke="#1c1cd8" stroke-width="0.9" fill="none" stroke-linejoin="round"/>
<path d="M28.70,131.80 L30.51,130.56 L32.71,129.32 L34.83,126.77 L36.55,127.72 L38.77,129.25 L41.46,131.29 L43.22,132.90 L46.26,135.05 L48.13,134.98 L50.71,137.66 L52.87,140.42 L54.27,143.71" stroke="#1c1cd8" stroke-width="0.9" fill="none" stroke-linejoin="round"/>
<path d="M28.70,131.80 L31.60,131.42 L34.15,130.02 L36.13,127.36 L38.42,127.17 L40.51,127.31 L43.45,128.74 L45.47,129.71 L48.47,131.17 L50.78,133.97 L52.62,134.22 L54.54,137.34 L56.29,138.90 L57.01,138.55" stroke="#1c1cd8" stroke-width="0.9" fill="none" stroke-linejoin="round"/>
<path d="M28.70,131.80 L31.61,130.09 L34.60,128.19 L36.73,127.94 L39.13,126.83 L41.20,125.08 L43.97,124.11 L45.79,125.52 L47.84,124.22 L50.69,124.61 L53.67,127.13 L56.24,129.90 L58.37,131.98 L60.80,133.31 L63.29,136.31 L65.57,139.05 L68.39,141.35 L69.03,141.52" stroke="#1c1cd8" stroke-width="0.9" fill="none" stroke-linejoin="round"/>
<path d="M28.70,131.80 L31.48,130.34 L34.25,129.08 L37.13,128.49 L39.84,125.48 L42.12,126.18 L44.00,126.32 L46.03,126.06 L47.82,125.99 L49.67,126.18 L51.93,128.38 L54.92,130.60 L57.35,131.41 L60.08,133.96 L62.62,136.88 L64.41,139.19 L66.57,142.67 L68.02,143.37" stroke="#1c1cd8" stroke-width="0.9" fill="none" stroke-linejoin="round"/>
<line x1="28.70" y1="131.90" x2="111.80" y2="131.90" stroke="#151515" stroke-width="1.5" stroke-dasharray="4.2,3.6"/>
<text x="12.90" y="143.00" font-size="6.0" text-anchor="middle" font-weight="bold" fill="#151515" transform="rotate(-90 12.90 143.00)">Weight change (%)</text>
<text x="67.70" y="179.00" font-size="6.0" text-anchor="middle" font-weight="bold" fill="#151515">Days</text>
<line x1="136.00" y1="173.62" x2="136.00" y2="112.90" stroke="#151515" stroke-width="1.25"/>
<line x1="135.38" y1="173.00" x2="231.10" y2="173.00" stroke="#151515" stroke-width="1.25"/>
<path d="M136.00,104.50 L139.70,115.00 Q136.00,113.53 132.30,115.00 Z" fill="#151515"/>
<path d="M239.50,173.00 L229.00,169.30 Q230.47,173.00 229.00,176.70 Z" fill="#151515"/>
<line x1="152.60" y1="103.40" x2="152.60" y2="160.90" stroke="#151515" stroke-width="0.9"/>
<line x1="151.00" y1="103.80" x2="152.60" y2="103.80" stroke="#151515" stroke-width="0.9"/>
<line x1="151.00" y1="117.98" x2="152.60" y2="117.98" stroke="#151515" stroke-width="0.9"/>
<line x1="151.00" y1="132.15" x2="152.60" y2="132.15" stroke="#151515" stroke-width="0.9"/>
<line x1="151.00" y1="146.32" x2="152.60" y2="146.32" stroke="#151515" stroke-width="0.9"/>
<line x1="151.00" y1="160.50" x2="152.60" y2="160.50" stroke="#151515" stroke-width="0.9"/>
<line x1="152.20" y1="160.50" x2="238.30" y2="160.50" stroke="#151515" stroke-width="0.9"/>
<line x1="169.64" y1="160.50" x2="169.64" y2="162.00" stroke="#151515" stroke-width="0.9"/>
<text x="169.64" y="168.10" font-size="5.0" text-anchor="middle" font-weight="bold" fill="#151515">25</text>
<line x1="186.68" y1="160.50" x2="186.68" y2="162.00" stroke="#151515" stroke-width="0.9"/>
<text x="186.68" y="168.10" font-size="5.0" text-anchor="middle" font-weight="bold" fill="#151515">50</text>
<line x1="203.72" y1="160.50" x2="203.72" y2="162.00" stroke="#151515" stroke-width="0.9"/>
<text x="203.72" y="168.10" font-size="5.0" text-anchor="middle" font-weight="bold" fill="#151515">75</text>
<line x1="220.76" y1="160.50" x2="220.76" y2="162.00" stroke="#151515" stroke-width="0.9"/>
<text x="220.76" y="168.10" font-size="5.0" text-anchor="middle" font-weight="bold" fill="#151515">100</text>
<line x1="237.80" y1="160.50" x2="237.80" y2="162.00" stroke="#151515" stroke-width="0.9"/>
<text x="237.80" y="168.10" font-size="5.0" text-anchor="middle" font-weight="bold" fill="#151515">125</text>
<text x="150.00" y="105.60" font-size="5.0" text-anchor="end" font-weight="bold" fill="#151515">50</text>
<text x="150.00" y="134.10" font-size="5.0" text-anchor="end" font-weight="bold" fill="#151515">0</text>
<text x="150.00" y="162.30" font-size="5.0" text-anchor="end" font-weight="bold" fill="#151515">-50</text>
<path d="M152.60,131.90 L154.61,131.33 L156.47,130.08 L158.39,127.86 L161.44,125.80 L163.66,125.33 L166.31,124.43 L168.11,122.81 L170.66,123.60 L172.46,123.28 L175.47,122.89 L178.03,121.12 L179.78,123.00 L182.13,123.30 L184.09,125.95 L186.14,127.90 L188.76,128.49 L191.06,132.06 L193.73,133.13 L195.34,135.48" stroke="#ea1d26" stroke-width="0.9" fill="none" stroke-linejoin="round"/>
<path d="M152.60,131.90 L154.62,130.73 L157.41,128.67 L159.58,127.25 L162.43,127.44 L164.35,126.25 L166.07,124.50 L168.66,124.00 L171.72,123.44 L173.70,123.43 L175.86,121.52 L178.39,122.65 L180.69,122.39 L183.24,122.05 L185.19,120.94 L188.03,122.19 L190.14,123.84 L192.21,127.09 L194.29,127.90 L196.85,131.80 L199.70,134.01 L201.78,136.44 L201.95,138.46" stroke="#ea1d26" stroke-width="0.9" fill="none" stroke-linejoin="round"/>
<path d="M152.60,131.90 L154.97,130.39 L157.08,128.56 L159.53,125.79 L161.33,126.04 L164.32,123.55 L166.13,123.09 L168.72,121.04 L170.54,120.38 L173.29,120.80 L175.73,119.14 L177.76,119.05 L180.23,120.05 L182.30,119.29 L184.20,119.25 L186.24,122.68 L188.76,125.10 L190.90,128.38 L193.28,130.69 L195.09,133.49 L197.06,137.14" stroke="#ea1d26" stroke-width="0.9" fill="none" stroke-linejoin="round"/>
<path d="M152.60,131.90 L155.24,130.79 L157.24,129.44 L159.95,129.74 L162.08,127.90 L164.07,128.04 L166.03,127.67 L167.90,126.38 L170.29,125.28 L172.41,125.83 L175.37,124.26 L178.00,123.74 L180.14,123.68 L182.28,123.37 L185.10,124.48 L187.89,124.23 L189.62,125.05 L192.09,125.08 L195.05,128.81 L197.34,129.26 L200.25,132.28 L201.54,134.69" stroke="#ea1d26" stroke-width="0.9" fill="none" stroke-linejoin="round"/>
<path d="M152.60,131.90 L155.20,131.24 L157.15,129.78 L160.07,128.53 L162.85,127.09 L165.75,126.59 L167.97,126.09 L170.77,125.86 L172.73,124.42 L175.09,124.52 L177.03,125.56 L179.04,124.69 L180.79,125.18 L183.78,128.17 L185.49,129.92 L187.61,134.62 L190.18,138.25 L190.54,138.84" stroke="#ea1d26" stroke-width="0.9" fill="none" stroke-linejoin="round"/>
<path d="M152.60,131.90 L155.11,130.92 L157.70,128.68 L159.87,127.88 L162.86,127.68 L165.65,126.12 L168.64,126.11 L170.87,125.44 L172.93,123.62 L175.35,124.37 L178.37,124.77 L180.10,123.31 L182.56,123.97 L184.94,124.90 L187.10,127.55 L190.01,128.77 L191.75,130.99 L193.48,130.78 L196.05,133.92 L198.84,134.77 L201.41,137.26 L202.61,138.04" stroke="#ea1d26" stroke-width="0.9" fill="none" stroke-linejoin="round"/>
<path d="M152.60,131.90 L155.57,128.42 L158.00,128.29 L160.42,125.00 L162.40,125.07 L164.48,123.93 L167.29,121.93 L169.11,121.21 L171.77,121.22 L173.74,120.67 L176.39,119.31 L178.11,119.35 L180.08,118.51 L182.37,118.72 L184.52,121.27 L186.67,122.87 L189.11,126.69 L191.03,131.05 L193.77,134.76 L195.00,136.66" stroke="#ea1d26" stroke-width="0.9" fill="none" stroke-linejoin="round"/>
<path d="M152.60,131.90 L155.54,129.70 L158.08,126.85 L160.45,126.86 L163.46,124.34 L165.61,124.12 L167.34,123.77 L170.38,121.77 L173.15,121.68 L176.00,120.23 L178.89,120.39 L181.85,120.98 L183.75,122.50 L185.86,125.50 L188.32,130.58 L190.73,135.01 L192.54,139.16 L193.56,139.50" stroke="#ea1d26" stroke-width="0.9" fill="none" stroke-linejoin="round"/>
<path d="M152.60,131.90 L155.17,130.19 L157.35,129.43 L159.07,130.52 L161.44,128.92 L163.72,128.11 L166.16,129.17 L168.40,127.49 L170.46,128.10 L173.04,127.23 L176.09,125.98 L178.21,127.70 L180.16,126.84 L182.44,127.19 L184.26,128.73 L186.52,129.85 L188.39,131.99 L190.61,134.19 L193.24,138.55 L194.31,139.55" stroke="#ea1d26" stroke-width="0.9" fill="none" stroke-linejoin="round"/>
<path d="M152.60,131.90 L154.70,131.48 L157.19,131.08 L160.07,130.25 L162.72,128.29 L164.56,128.07 L166.50,128.55 L168.36,127.28 L170.49,127.78 L173.52,128.12 L175.33,126.83 L177.10,127.81 L179.15,127.89 L181.32,127.69 L184.29,126.70 L186.04,126.32 L188.07,127.07 L189.82,129.74 L192.03,130.01 L195.01,132.26 L196.99,135.29 L199.86,137.24 L201.99,140.92" stroke="#ea1d26" stroke-width="0.9" fill="none" stroke-linejoin="round"/>
<path d="M152.60,131.90 L154.87,130.04 L157.18,128.37 L159.28,127.42 L161.19,126.83 L163.32,126.43 L165.39,126.29 L167.22,124.44 L169.83,123.81 L172.12,123.52 L174.91,122.42 L177.15,122.79 L179.96,124.30 L182.57,128.41 L185.39,131.42 L187.98,134.82" stroke="#ea1d26" stroke-width="0.9" fill="none" stroke-linejoin="round"/>
<path d="M152.60,131.90 L154.33,132.12 L156.61,130.07 L158.48,129.36 L160.65,128.78 L162.73,129.04 L164.63,127.67 L167.19,128.36 L169.04,126.50 L171.10,126.00 L174.14,125.90 L176.03,127.17 L178.87,126.43 L180.61,127.21 L182.71,128.13 L184.46,128.51 L186.24,130.88 L188.90,132.46 L191.68,136.37 L191.71,135.63" stroke="#ea1d26" stroke-width="0.9" fill="none" stroke-linejoin="round"/>
<path d="M152.60,131.90 L154.40,130.92 L156.49,129.06 L158.62,126.65 L160.37,125.50 L162.26,123.98 L164.97,122.94 L167.83,120.66 L169.64,120.08 L172.30,118.18 L174.23,118.16 L177.00,116.27 L178.83,116.72 L181.56,115.70 L183.79,114.54 L186.51,114.36 L189.39,113.98 L192.20,113.98 L194.72,118.23 L197.66,124.06 L199.84,130.36 L201.57,135.63 L203.22,141.07" stroke="#ea1d26" stroke-width="0.9" fill="none" stroke-linejoin="round"/>
<line x1="152.60" y1="131.90" x2="238.00" y2="131.90" stroke="#151515" stroke-width="1.5" stroke-dasharray="4.2,3.6"/>
<text x="131.90" y="143.00" font-size="6.0" text-anchor="middle" font-weight="bold" fill="#151515" transform="rotate(-90 131.90 143.00)">Weight change (%)</text>
<text x="191.00" y="179.50" font-size="6.0" text-anchor="middle" font-weight="bold" fill="#151515">Days</text>
<text x="245.20" y="97.80" font-size="14.0" text-anchor="start" font-weight="normal" fill="#151515">B</text>
<line x1="260.10" y1="173.12" x2="260.10" y2="112.60" stroke="#151515" stroke-width="1.25"/>
<line x1="259.48" y1="172.50" x2="352.60" y2="172.50" stroke="#151515" stroke-width="1.25"/>
<path d="M260.10,104.20 L263.80,114.70 Q260.10,113.23 256.40,114.70 Z" fill="#151515"/>
<path d="M361.00,172.50 L350.50,168.80 Q351.97,172.50 350.50,176.20 Z" fill="#151515"/>
<line x1="275.80" y1="105.30" x2="275.80" y2="163.10" stroke="#151515" stroke-width="0.9"/>
<line x1="274.20" y1="105.70" x2="275.80" y2="105.70" stroke="#151515" stroke-width="0.9"/>
<line x1="274.20" y1="134.20" x2="275.80" y2="134.20" stroke="#151515" stroke-width="0.9"/>
<line x1="274.20" y1="162.70" x2="275.80" y2="162.70" stroke="#151515" stroke-width="0.9"/>
<text x="273.40" y="107.40" font-size="4.6" text-anchor="end" font-weight="bold" fill="#151515">100</text>
<text x="273.40" y="135.90" font-size="4.6" text-anchor="end" font-weight="bold" fill="#151515">50</text>
<text x="273.40" y="164.40" font-size="4.6" text-anchor="end" font-weight="bold" fill="#151515">0</text>
<line x1="275.40" y1="162.70" x2="360.20" y2="162.70" stroke="#151515" stroke-width="0.9"/>
<line x1="292.60" y1="162.70" x2="292.60" y2="164.20" stroke="#151515" stroke-width="0.9"/>
<text x="292.60" y="170.10" font-size="4.6" text-anchor="middle" font-weight="bold" fill="#151515">25</text>
<line x1="309.40" y1="162.70" x2="309.40" y2="164.20" stroke="#151515" stroke-width="0.9"/>
<text x="309.40" y="170.10" font-size="4.6" text-anchor="middle" font-weight="bold" fill="#151515">50</text>
<line x1="326.20" y1="162.70" x2="326.20" y2="164.20" stroke="#151515" stroke-width="0.9"/>
<text x="326.20" y="170.10" font-size="4.6" text-anchor="middle" font-weight="bold" fill="#151515">75</text>
<line x1="343.00" y1="162.70" x2="343.00" y2="164.20" stroke="#151515" stroke-width="0.9"/>
<text x="343.00" y="170.10" font-size="4.6" text-anchor="middle" font-weight="bold" fill="#151515">100</text>
<line x1="359.80" y1="162.70" x2="359.80" y2="164.20" stroke="#151515" stroke-width="0.9"/>
<text x="359.80" y="170.10" font-size="4.6" text-anchor="middle" font-weight="bold" fill="#151515">125</text>
<path d="M275.80,105.70 H285.00 V111.00 H291.00 V124.00 H296.00 V131.00 H300.00 V139.00 H305.00 V150.00 H323.00 V156.00 H335.50 V162.50" stroke="#26c19a" stroke-width="1.0" fill="none"/>
<path d="M275.80,105.70 H286.00 V108.00 H302.50 V124.00 H306.00 V139.00 H309.00 V162.50" stroke="#f68c22" stroke-width="1.0" fill="none"/>
<path d="M275.80,105.70 H299.00 V114.00 H300.50 V128.50 H302.50 V135.00 H305.00 V151.00 H311.00 V156.00 H315.00 V162.50" stroke="#1c1cd8" stroke-width="1.0" fill="none"/>
<path d="M275.80,105.70 H301.00 V112.00 H310.50 V124.00 H316.00 V131.00 H321.00 V143.00 H324.00 V152.00 H328.00 V162.50" stroke="#ea1d26" stroke-width="1.0" fill="none"/>
<rect x="327.40" y="103.30" width="3.80" height="3.80" fill="#26c19a"/>
<text x="332.20" y="106.93" font-size="4.8" text-anchor="start" font-weight="bold" fill="#151515">None</text>
<rect x="327.40" y="108.45" width="3.80" height="3.80" fill="#f68c22"/>
<text x="332.20" y="112.08" font-size="4.8" text-anchor="start" font-weight="bold" fill="#151515">IL-4</text>
<rect x="327.40" y="113.60" width="3.80" height="3.80" fill="#1c1cd8"/>
<text x="332.20" y="117.23" font-size="4.8" text-anchor="start" font-weight="bold" fill="#151515">IL-13</text>
<rect x="327.40" y="118.75" width="3.80" height="3.80" fill="#ea1d26"/>
<text x="332.20" y="122.38" font-size="4.8" text-anchor="start" font-weight="bold" fill="#151515">IL-4+IL-13</text>
<path d="M359.60,110.50 L361.00,110.50 L361.00,120.60 L359.60,120.60" stroke="#151515" stroke-width="1.0" fill="none"/>
<path d="M362.10,110.00 L363.50,110.00 L363.50,120.60 L362.10,120.60" stroke="#151515" stroke-width="1.0" fill="none"/>
<path d="M365.70,105.20 L367.10,105.20 L367.10,120.60 L365.70,120.60" stroke="#151515" stroke-width="1.0" fill="none"/>
<text x="354.15" y="117.00" font-size="7.0" text-anchor="middle" font-weight="bold" fill="#151515" transform="rotate(90 354.15 117.00)" letter-spacing="-0.6">**</text>
<text x="365.85" y="112.20" font-size="7.0" text-anchor="middle" font-weight="bold" fill="#151515" transform="rotate(90 365.85 112.20)" letter-spacing="-0.6">***</text>
<text x="257.20" y="138.60" font-size="6.4" text-anchor="middle" font-weight="bold" fill="#151515" transform="rotate(-90 257.20 138.60)">Survival (%)</text>
<text x="312.50" y="179.50" font-size="6.0" text-anchor="middle" font-weight="bold" fill="#151515">Days</text>
<text x="379.50" y="97.80" font-size="14.0" text-anchor="start" font-weight="normal" fill="#151515">C</text>
<line x1="397.80" y1="172.93" x2="397.80" y2="109.10" stroke="#151515" stroke-width="1.25"/>
<line x1="397.18" y1="172.30" x2="459.60" y2="172.30" stroke="#151515" stroke-width="1.25"/>
<path d="M397.80,100.70 L401.50,111.20 Q397.80,109.73 394.10,111.20 Z" fill="#151515"/>
<path d="M468.00,172.30 L457.50,168.60 Q458.97,172.30 457.50,176.00 Z" fill="#151515"/>
<line x1="408.40" y1="100.17" x2="408.40" y2="157.53" stroke="#151515" stroke-width="1.05"/>
<line x1="406.70" y1="100.70" x2="408.40" y2="100.70" stroke="#151515" stroke-width="1.05"/>
<line x1="406.70" y1="111.96" x2="408.40" y2="111.96" stroke="#151515" stroke-width="1.05"/>
<line x1="406.70" y1="123.22" x2="408.40" y2="123.22" stroke="#151515" stroke-width="1.05"/>
<line x1="406.70" y1="134.48" x2="408.40" y2="134.48" stroke="#151515" stroke-width="1.05"/>
<line x1="406.70" y1="145.74" x2="408.40" y2="145.74" stroke="#151515" stroke-width="1.05"/>
<line x1="406.70" y1="157.00" x2="408.40" y2="157.00" stroke="#151515" stroke-width="1.05"/>
<text x="405.90" y="102.43" font-size="4.8" text-anchor="end" font-weight="bold" fill="#151515">5</text>
<text x="405.90" y="158.73" font-size="4.8" text-anchor="end" font-weight="bold" fill="#151515">0</text>
<line x1="407.88" y1="157.00" x2="466.00" y2="157.00" stroke="#151515" stroke-width="1.05"/>
<rect x="411.00" y="138.80" width="10.00" height="18.20" fill="#26c19a"/>
<line x1="416.00" y1="138.80" x2="416.00" y2="135.60" stroke="#151515" stroke-width="0.9"/>
<line x1="413.80" y1="135.60" x2="418.20" y2="135.60" stroke="#151515" stroke-width="0.9"/>
<rect x="425.20" y="134.80" width="10.00" height="22.20" fill="#f68c22"/>
<line x1="430.20" y1="134.80" x2="430.20" y2="131.30" stroke="#151515" stroke-width="0.9"/>
<line x1="428.00" y1="131.30" x2="432.40" y2="131.30" stroke="#151515" stroke-width="0.9"/>
<rect x="439.40" y="135.60" width="10.00" height="21.40" fill="#1c1cd8"/>
<line x1="444.40" y1="135.60" x2="444.40" y2="133.50" stroke="#151515" stroke-width="0.9"/>
<line x1="442.20" y1="133.50" x2="446.60" y2="133.50" stroke="#151515" stroke-width="0.9"/>
<rect x="453.10" y="128.90" width="10.00" height="28.10" fill="#ea1d26"/>
<line x1="458.10" y1="128.90" x2="458.10" y2="126.00" stroke="#151515" stroke-width="0.9"/>
<line x1="455.90" y1="126.00" x2="460.30" y2="126.00" stroke="#151515" stroke-width="0.9"/>
<text x="416.00" y="163.30" font-size="4.4" text-anchor="middle" font-weight="bold" fill="#151515">None</text>
<text x="430.20" y="163.30" font-size="4.4" text-anchor="middle" font-weight="bold" fill="#151515">IL-4</text>
<text x="444.40" y="163.30" font-size="4.4" text-anchor="middle" font-weight="bold" fill="#151515">IL-13</text>
<text x="458.10" y="163.30" font-size="4.4" text-anchor="middle" font-weight="bold" fill="#151515">IL-4+</text>
<text x="458.10" y="167.70" font-size="4.4" text-anchor="middle" font-weight="bold" fill="#151515">IL-13</text>
<text x="436.50" y="96.60" font-size="6.2" text-anchor="middle" font-weight="bold" fill="#151515">CD4<tspan font-size="4.0" dy="-2.4">+</tspan></text>
<path d="M416.00,106.90 L416.00,105.20 L458.10,105.20 L458.10,106.90" stroke="#151515" stroke-width="1.1" fill="none"/>
<text x="437.05" y="106.09" font-size="7.0" text-anchor="middle" font-weight="bold" fill="#151515" letter-spacing="-0.6">**</text>
<path d="M416.00,112.30 L416.00,110.60 L430.20,110.60 L430.20,112.30" stroke="#151515" stroke-width="1.1" fill="none"/>
<text x="423.10" y="111.49" font-size="7.0" text-anchor="middle" font-weight="bold" fill="#151515" letter-spacing="-0.6">*</text>
<path d="M444.40,112.30 L444.40,110.60 L458.10,110.60 L458.10,112.30" stroke="#151515" stroke-width="1.1" fill="none"/>
<text x="451.25" y="111.49" font-size="7.0" text-anchor="middle" font-weight="bold" fill="#151515" letter-spacing="-0.6">*</text>
<text x="395.50" y="138.00" font-size="6.25" text-anchor="middle" font-weight="bold" fill="#151515" transform="rotate(-90 395.50 138.00)">Total cells (x10<tspan font-size="3.4" dy="-2">7</tspan><tspan dy="2">)</tspan></text>
<text x="432.30" y="178.50" font-size="6.1" text-anchor="middle" font-weight="bold" fill="#151515">Treatment</text>
<text x="-0.20" y="193.80" font-size="14.0" text-anchor="start" font-weight="normal" fill="#151515">D</text>
<line x1="16.00" y1="212.00" x2="203.00" y2="212.00" stroke="#151515" stroke-width="1.0"/>
<text x="106.50" y="209.60" font-size="5.8" text-anchor="middle" font-weight="normal" fill="#151515">CD4<tspan font-size="4.06" dy="-2.32">+</tspan><tspan dy="2.32"> gate</tspan></text>
<text x="52.30" y="219.20" font-size="6.0" text-anchor="middle" font-weight="normal" fill="#151515">None</text>
<ellipse cx="61.60" cy="255.20" rx="4.20" ry="8.80" fill="url(#gd0)"/>
<ellipse cx="60.80" cy="234.80" rx="2.20" ry="3.80" fill="url(#gu0)"/>
<rect x="30.80" y="222.80" width="41.00" height="41.20" fill="none" stroke="#151515" stroke-width="1.3"/>
<line x1="57.60" y1="222.80" x2="57.60" y2="264.00" stroke="#151515" stroke-width="1.1"/>
<line x1="30.80" y1="243.60" x2="71.80" y2="243.60" stroke="#151515" stroke-width="1.1"/>
<text x="36.10" y="230.60" font-size="5.4" text-anchor="middle" font-weight="normal" fill="#151515">0</text>
<text x="69.50" y="230.60" font-size="5.4" text-anchor="end" font-weight="normal" fill="#151515">1</text>
<text x="36.10" y="260.60" font-size="5.4" text-anchor="middle" font-weight="normal" fill="#151515">0</text>
<text x="70.40" y="260.60" font-size="5.4" text-anchor="end" font-weight="normal" fill="#151515">99</text>
<text x="42.50" y="271.80" font-size="5.4" text-anchor="middle" font-weight="normal" fill="#151515">10<tspan font-size="3.78" dy="-2.16">2</tspan><tspan dy="2.16"></tspan></text>
<text x="58.30" y="271.80" font-size="5.4" text-anchor="middle" font-weight="normal" fill="#151515">10<tspan font-size="3.78" dy="-2.16">4</tspan><tspan dy="2.16"></tspan></text>
<text x="96.10" y="219.20" font-size="6.0" text-anchor="middle" font-weight="normal" fill="#151515">IL-4</text>
<ellipse cx="105.40" cy="255.20" rx="4.20" ry="8.80" fill="url(#gd1)"/>
<ellipse cx="104.60" cy="234.80" rx="2.20" ry="3.80" fill="url(#gu1)"/>
<rect x="74.60" y="222.80" width="41.00" height="41.20" fill="none" stroke="#151515" stroke-width="1.3"/>
<line x1="101.40" y1="222.80" x2="101.40" y2="264.00" stroke="#151515" stroke-width="1.1"/>
<line x1="74.60" y1="243.60" x2="115.60" y2="243.60" stroke="#151515" stroke-width="1.1"/>
<text x="79.90" y="230.60" font-size="5.4" text-anchor="middle" font-weight="normal" fill="#151515">0</text>
<text x="113.30" y="230.60" font-size="5.4" text-anchor="end" font-weight="normal" fill="#151515">3</text>
<text x="79.90" y="260.60" font-size="5.4" text-anchor="middle" font-weight="normal" fill="#151515">0</text>
<text x="114.20" y="260.60" font-size="5.4" text-anchor="end" font-weight="normal" fill="#151515">97</text>
<text x="86.30" y="271.80" font-size="5.4" text-anchor="middle" font-weight="normal" fill="#151515">10<tspan font-size="3.78" dy="-2.16">2</tspan><tspan dy="2.16"></tspan></text>
<text x="102.10" y="271.80" font-size="5.4" text-anchor="middle" font-weight="normal" fill="#151515">10<tspan font-size="3.78" dy="-2.16">4</tspan><tspan dy="2.16"></tspan></text>
<text x="140.10" y="219.20" font-size="6.0" text-anchor="middle" font-weight="normal" fill="#151515">IL-13</text>
<ellipse cx="149.40" cy="255.20" rx="4.20" ry="8.80" fill="url(#gd2)"/>
<ellipse cx="148.60" cy="234.80" rx="2.20" ry="3.80" fill="url(#gu2)"/>
<rect x="118.60" y="222.80" width="41.00" height="41.20" fill="none" stroke="#151515" stroke-width="1.3"/>
<line x1="145.40" y1="222.80" x2="145.40" y2="264.00" stroke="#151515" stroke-width="1.1"/>
<line x1="118.60" y1="243.60" x2="159.60" y2="243.60" stroke="#151515" stroke-width="1.1"/>
<text x="123.90" y="230.60" font-size="5.4" text-anchor="middle" font-weight="normal" fill="#151515">0</text>
<text x="157.30" y="230.60" font-size="5.4" text-anchor="end" font-weight="normal" fill="#151515">3</text>
<text x="123.90" y="260.60" font-size="5.4" text-anchor="middle" font-weight="normal" fill="#151515">0</text>
<text x="158.20" y="260.60" font-size="5.4" text-anchor="end" font-weight="normal" fill="#151515">97</text>
<text x="130.30" y="271.80" font-size="5.4" text-anchor="middle" font-weight="normal" fill="#151515">10<tspan font-size="3.78" dy="-2.16">2</tspan><tspan dy="2.16"></tspan></text>
<text x="146.10" y="271.80" font-size="5.4" text-anchor="middle" font-weight="normal" fill="#151515">10<tspan font-size="3.78" dy="-2.16">4</tspan><tspan dy="2.16"></tspan></text>
<text x="183.70" y="219.20" font-size="6.0" text-anchor="middle" font-weight="normal" fill="#151515">IL-4+IL-13</text>
<ellipse cx="193.00" cy="255.20" rx="4.20" ry="8.80" fill="url(#gd3)"/>
<ellipse cx="192.20" cy="236.00" rx="2.20" ry="4.60" fill="url(#gu3)"/>
<rect x="162.20" y="222.80" width="41.00" height="41.20" fill="none" stroke="#151515" stroke-width="1.3"/>
<line x1="189.00" y1="222.80" x2="189.00" y2="264.00" stroke="#151515" stroke-width="1.1"/>
<line x1="162.20" y1="243.20" x2="203.20" y2="243.20" stroke="#151515" stroke-width="1.1"/>
<text x="167.50" y="230.60" font-size="5.4" text-anchor="middle" font-weight="normal" fill="#151515">0</text>
<text x="200.90" y="230.60" font-size="5.4" text-anchor="end" font-weight="normal" fill="#151515">10</text>
<text x="167.50" y="260.60" font-size="5.4" text-anchor="middle" font-weight="normal" fill="#151515">0</text>
<text x="201.80" y="260.60" font-size="5.4" text-anchor="end" font-weight="normal" fill="#151515">90</text>
<text x="173.90" y="271.80" font-size="5.4" text-anchor="middle" font-weight="normal" fill="#151515">10<tspan font-size="3.78" dy="-2.16">2</tspan><tspan dy="2.16"></tspan></text>
<text x="189.70" y="271.80" font-size="5.4" text-anchor="middle" font-weight="normal" fill="#151515">10<tspan font-size="3.78" dy="-2.16">4</tspan><tspan dy="2.16"></tspan></text>
<text x="26.50" y="237.00" font-size="5.4" text-anchor="end" font-weight="normal" fill="#151515">10<tspan font-size="3.78" dy="-2.16">4</tspan><tspan dy="2.16"></tspan></text>
<text x="26.50" y="253.00" font-size="5.4" text-anchor="end" font-weight="normal" fill="#151515">10<tspan font-size="3.78" dy="-2.16">2</tspan><tspan dy="2.16"></tspan></text>
<line x1="16.30" y1="275.23" x2="16.30" y2="230.90" stroke="#151515" stroke-width="1.25"/>
<line x1="15.68" y1="274.60" x2="195.10" y2="274.60" stroke="#151515" stroke-width="1.25"/>
<path d="M16.30,222.50 L20.00,233.00 Q16.30,231.53 12.60,233.00 Z" fill="#151515"/>
<path d="M203.50,274.60 L193.00,270.90 Q194.47,274.60 193.00,278.30 Z" fill="#151515"/>
<text x="13.20" y="247.50" font-size="6.0" text-anchor="middle" font-weight="normal" fill="#151515" transform="rotate(-90 13.20 247.50)">EGFP</text>
<text x="109.50" y="282.60" font-size="6.2" text-anchor="middle" font-weight="normal" fill="#151515">CD4</text>
<text x="210.60" y="194.40" font-size="14.0" text-anchor="start" font-weight="normal" fill="#151515">E</text>
<line x1="224.20" y1="282.82" x2="224.20" y2="219.70" stroke="#151515" stroke-width="1.25"/>
<line x1="223.57" y1="282.20" x2="353.60" y2="282.20" stroke="#151515" stroke-width="1.25"/>
<path d="M224.20,211.30 L227.90,221.80 Q224.20,220.33 220.50,221.80 Z" fill="#151515"/>
<path d="M362.00,282.20 L351.50,278.50 Q352.97,282.20 351.50,285.90 Z" fill="#151515"/>
<text x="220.50" y="244.80" font-size="6.4" text-anchor="middle" font-weight="bold" fill="#151515" transform="rotate(-90 220.50 244.80)">Frequency (%)</text>
<text x="294.20" y="289.60" font-size="6.1" text-anchor="middle" font-weight="bold" fill="#151515">Treatment</text>
<line x1="234.80" y1="210.17" x2="234.80" y2="267.82" stroke="#151515" stroke-width="1.05"/>
<line x1="233.10" y1="210.70" x2="234.80" y2="210.70" stroke="#151515" stroke-width="1.05"/>
<line x1="233.10" y1="224.85" x2="234.80" y2="224.85" stroke="#151515" stroke-width="1.05"/>
<line x1="233.10" y1="239.00" x2="234.80" y2="239.00" stroke="#151515" stroke-width="1.05"/>
<line x1="233.10" y1="253.15" x2="234.80" y2="253.15" stroke="#151515" stroke-width="1.05"/>
<line x1="233.10" y1="267.30" x2="234.80" y2="267.30" stroke="#151515" stroke-width="1.05"/>
<text x="232.30" y="212.36" font-size="4.6" text-anchor="end" font-weight="bold" fill="#151515">20</text>
<text x="232.30" y="268.96" font-size="4.6" text-anchor="end" font-weight="bold" fill="#151515">0</text>
<line x1="234.28" y1="267.30" x2="292.60" y2="267.30" stroke="#151515" stroke-width="1.05"/>
<text x="242.60" y="272.30" font-size="4.5" text-anchor="middle" font-weight="bold" fill="#151515">None</text>
<text x="256.20" y="272.30" font-size="4.5" text-anchor="middle" font-weight="bold" fill="#151515">IL-4</text>
<text x="271.00" y="272.30" font-size="4.5" text-anchor="middle" font-weight="bold" fill="#151515">IL-13</text>
<text x="285.00" y="272.30" font-size="4.5" text-anchor="middle" font-weight="bold" fill="#151515">IL-4+</text>
<text x="285.00" y="276.80" font-size="4.5" text-anchor="middle" font-weight="bold" fill="#151515">IL-13</text>
<text x="263.80" y="196.60" font-size="6.3" text-anchor="middle" font-weight="bold" fill="#151515">SP IT<tspan font-size="4.54" dy="1.8">reg</tspan></text>
<line x1="237.80" y1="263.50" x2="247.40" y2="263.50" stroke="#151515" stroke-width="1.0"/>
<circle cx="242.34" cy="259.50" r="1.30" fill="#26c19a"/>
<circle cx="246.10" cy="262.97" r="1.30" fill="#26c19a"/>
<circle cx="246.78" cy="260.62" r="1.30" fill="#26c19a"/>
<circle cx="245.39" cy="265.17" r="1.30" fill="#26c19a"/>
<circle cx="245.40" cy="261.10" r="1.30" fill="#26c19a"/>
<circle cx="245.34" cy="263.31" r="1.30" fill="#26c19a"/>
<circle cx="243.39" cy="265.89" r="1.30" fill="#26c19a"/>
<circle cx="239.80" cy="262.24" r="1.30" fill="#26c19a"/>
<circle cx="246.78" cy="266.18" r="1.30" fill="#26c19a"/>
<circle cx="242.29" cy="264.55" r="1.30" fill="#26c19a"/>
<circle cx="238.44" cy="263.28" r="1.30" fill="#26c19a"/>
<circle cx="242.04" cy="263.84" r="1.30" fill="#26c19a"/>
<circle cx="241.87" cy="263.54" r="1.30" fill="#26c19a"/>
<circle cx="240.03" cy="261.99" r="1.30" fill="#26c19a"/>
<circle cx="246.56" cy="266.38" r="1.30" fill="#26c19a"/>
<circle cx="239.26" cy="262.29" r="1.30" fill="#26c19a"/>
<circle cx="246.08" cy="266.29" r="1.30" fill="#26c19a"/>
<circle cx="243.03" cy="265.38" r="1.30" fill="#26c19a"/>
<circle cx="239.84" cy="259.70" r="1.30" fill="#26c19a"/>
<circle cx="241.38" cy="261.28" r="1.30" fill="#26c19a"/>
<circle cx="242.17" cy="262.80" r="1.30" fill="#26c19a"/>
<circle cx="239.31" cy="265.12" r="1.30" fill="#26c19a"/>
<circle cx="244.86" cy="260.73" r="1.30" fill="#26c19a"/>
<circle cx="243.90" cy="263.75" r="1.30" fill="#26c19a"/>
<circle cx="246.75" cy="262.03" r="1.30" fill="#26c19a"/>
<circle cx="245.44" cy="264.92" r="1.30" fill="#26c19a"/>
<circle cx="245.06" cy="265.89" r="1.30" fill="#26c19a"/>
<circle cx="246.87" cy="264.76" r="1.30" fill="#26c19a"/>
<circle cx="246.31" cy="260.83" r="1.30" fill="#26c19a"/>
<circle cx="243.84" cy="264.75" r="1.30" fill="#26c19a"/>
<circle cx="242.94" cy="262.52" r="1.30" fill="#26c19a"/>
<circle cx="242.80" cy="266.40" r="1.30" fill="#26c19a"/>
<circle cx="256.63" cy="262.80" r="1.30" fill="#f68c22"/>
<circle cx="258.71" cy="266.13" r="1.30" fill="#f68c22"/>
<circle cx="254.27" cy="265.79" r="1.30" fill="#f68c22"/>
<circle cx="257.80" cy="265.82" r="1.30" fill="#f68c22"/>
<circle cx="256.80" cy="262.90" r="1.30" fill="#f68c22"/>
<circle cx="254.19" cy="264.31" r="1.30" fill="#f68c22"/>
<circle cx="259.55" cy="263.11" r="1.30" fill="#f68c22"/>
<circle cx="253.07" cy="264.91" r="1.30" fill="#f68c22"/>
<circle cx="255.95" cy="266.40" r="1.30" fill="#f68c22"/>
<line x1="266.20" y1="263.50" x2="275.80" y2="263.50" stroke="#151515" stroke-width="1.0"/>
<circle cx="270.46" cy="258.50" r="1.30" fill="#1c1cd8"/>
<circle cx="272.99" cy="262.97" r="1.30" fill="#1c1cd8"/>
<circle cx="268.29" cy="265.87" r="1.30" fill="#1c1cd8"/>
<circle cx="270.75" cy="262.64" r="1.30" fill="#1c1cd8"/>
<circle cx="274.21" cy="265.15" r="1.30" fill="#1c1cd8"/>
<circle cx="267.58" cy="260.71" r="1.30" fill="#1c1cd8"/>
<circle cx="272.12" cy="262.11" r="1.30" fill="#1c1cd8"/>
<circle cx="272.24" cy="259.60" r="1.30" fill="#1c1cd8"/>
<circle cx="272.58" cy="266.00" r="1.30" fill="#1c1cd8"/>
<line x1="280.20" y1="255.50" x2="289.80" y2="255.50" stroke="#151515" stroke-width="1.0"/>
<circle cx="286.94" cy="244.50" r="1.30" fill="#ea1d26"/>
<circle cx="284.32" cy="255.27" r="1.30" fill="#ea1d26"/>
<circle cx="287.50" cy="265.13" r="1.30" fill="#ea1d26"/>
<circle cx="284.20" cy="250.59" r="1.30" fill="#ea1d26"/>
<circle cx="283.74" cy="259.63" r="1.30" fill="#ea1d26"/>
<circle cx="285.50" cy="258.87" r="1.30" fill="#ea1d26"/>
<circle cx="286.07" cy="260.16" r="1.30" fill="#ea1d26"/>
<circle cx="286.30" cy="254.77" r="1.30" fill="#ea1d26"/>
<circle cx="285.37" cy="244.86" r="1.30" fill="#ea1d26"/>
<circle cx="284.36" cy="261.17" r="1.30" fill="#ea1d26"/>
<circle cx="286.70" cy="250.50" r="1.30" fill="#ea1d26"/>
<circle cx="283.77" cy="261.32" r="1.30" fill="#ea1d26"/>
<circle cx="285.74" cy="266.00" r="1.30" fill="#ea1d26"/>
<path d="M242.60,206.50 L242.60,204.80 L285.00,204.80 L285.00,206.50" stroke="#151515" stroke-width="1.1" fill="none"/>
<text x="263.80" y="205.69" font-size="7.0" text-anchor="middle" font-weight="bold" fill="#151515" letter-spacing="-0.6">***</text>
<path d="M242.60,209.90 L242.60,208.20 L285.00,208.20 L285.00,209.90" stroke="#151515" stroke-width="1.1" fill="none"/>
<path d="M242.60,215.30 L242.60,213.60 L256.20,213.60 L256.20,215.30" stroke="#151515" stroke-width="1.1" fill="none"/>
<text x="249.40" y="214.49" font-size="7.0" text-anchor="middle" font-weight="bold" fill="#151515" letter-spacing="-0.6">**</text>
<path d="M256.20,215.30 L256.20,213.60 L285.00,213.60 L285.00,215.30" stroke="#151515" stroke-width="1.1" fill="none"/>
<text x="270.60" y="214.49" font-size="7.0" text-anchor="middle" font-weight="bold" fill="#151515" letter-spacing="-0.6">***</text>
<text x="260.30" y="210.09" font-size="7.0" text-anchor="middle" font-weight="bold" fill="#151515" letter-spacing="-0.6">**</text>
<text x="281.00" y="210.09" font-size="7.0" text-anchor="middle" font-weight="bold" fill="#151515" letter-spacing="-0.6">*</text>
<line x1="304.00" y1="209.67" x2="304.00" y2="267.82" stroke="#151515" stroke-width="1.05"/>
<line x1="302.30" y1="210.20" x2="304.00" y2="210.20" stroke="#151515" stroke-width="1.05"/>
<line x1="302.30" y1="224.47" x2="304.00" y2="224.47" stroke="#151515" stroke-width="1.05"/>
<line x1="302.30" y1="238.75" x2="304.00" y2="238.75" stroke="#151515" stroke-width="1.05"/>
<line x1="302.30" y1="253.03" x2="304.00" y2="253.03" stroke="#151515" stroke-width="1.05"/>
<line x1="302.30" y1="267.30" x2="304.00" y2="267.30" stroke="#151515" stroke-width="1.05"/>
<line x1="303.48" y1="267.30" x2="361.00" y2="267.30" stroke="#151515" stroke-width="1.05"/>
<text x="312.70" y="272.30" font-size="4.5" text-anchor="middle" font-weight="bold" fill="#151515">None</text>
<text x="325.60" y="272.30" font-size="4.5" text-anchor="middle" font-weight="bold" fill="#151515">IL-4</text>
<text x="339.00" y="272.30" font-size="4.5" text-anchor="middle" font-weight="bold" fill="#151515">IL-13</text>
<text x="353.50" y="272.30" font-size="4.5" text-anchor="middle" font-weight="bold" fill="#151515">IL-4+</text>
<text x="353.50" y="276.80" font-size="4.5" text-anchor="middle" font-weight="bold" fill="#151515">IL-13</text>
<text x="333.10" y="196.60" font-size="6.3" text-anchor="middle" font-weight="bold" fill="#151515">MLN IT<tspan font-size="4.54" dy="1.8">reg</tspan></text>
<line x1="307.90" y1="263.00" x2="317.50" y2="263.00" stroke="#151515" stroke-width="1.0"/>
<circle cx="314.40" cy="256.50" r="1.30" fill="#26c19a"/>
<circle cx="315.39" cy="257.04" r="1.30" fill="#26c19a"/>
<circle cx="314.05" cy="263.68" r="1.30" fill="#26c19a"/>
<circle cx="312.07" cy="261.29" r="1.30" fill="#26c19a"/>
<circle cx="308.64" cy="265.82" r="1.30" fill="#26c19a"/>
<circle cx="308.44" cy="260.53" r="1.30" fill="#26c19a"/>
<circle cx="314.03" cy="265.60" r="1.30" fill="#26c19a"/>
<circle cx="312.95" cy="258.08" r="1.30" fill="#26c19a"/>
<circle cx="312.33" cy="266.35" r="1.30" fill="#26c19a"/>
<circle cx="309.88" cy="260.59" r="1.30" fill="#26c19a"/>
<circle cx="309.46" cy="258.31" r="1.30" fill="#26c19a"/>
<circle cx="309.95" cy="259.93" r="1.30" fill="#26c19a"/>
<circle cx="309.51" cy="262.74" r="1.30" fill="#26c19a"/>
<circle cx="313.55" cy="256.84" r="1.30" fill="#26c19a"/>
<circle cx="311.04" cy="260.33" r="1.30" fill="#26c19a"/>
<circle cx="313.17" cy="256.61" r="1.30" fill="#26c19a"/>
<circle cx="312.09" cy="257.19" r="1.30" fill="#26c19a"/>
<circle cx="313.11" cy="258.19" r="1.30" fill="#26c19a"/>
<circle cx="314.80" cy="258.78" r="1.30" fill="#26c19a"/>
<circle cx="315.11" cy="259.22" r="1.30" fill="#26c19a"/>
<circle cx="309.69" cy="264.20" r="1.30" fill="#26c19a"/>
<circle cx="316.65" cy="260.62" r="1.30" fill="#26c19a"/>
<circle cx="315.74" cy="264.99" r="1.30" fill="#26c19a"/>
<circle cx="315.45" cy="265.40" r="1.30" fill="#26c19a"/>
<circle cx="312.30" cy="265.36" r="1.30" fill="#26c19a"/>
<circle cx="316.59" cy="265.88" r="1.30" fill="#26c19a"/>
<circle cx="315.39" cy="262.20" r="1.30" fill="#26c19a"/>
<circle cx="310.46" cy="263.14" r="1.30" fill="#26c19a"/>
<circle cx="314.31" cy="265.23" r="1.30" fill="#26c19a"/>
<circle cx="315.70" cy="261.88" r="1.30" fill="#26c19a"/>
<circle cx="314.87" cy="257.91" r="1.30" fill="#26c19a"/>
<circle cx="316.14" cy="261.65" r="1.30" fill="#26c19a"/>
<circle cx="312.95" cy="261.75" r="1.30" fill="#26c19a"/>
<circle cx="314.17" cy="258.28" r="1.30" fill="#26c19a"/>
<circle cx="309.05" cy="257.42" r="1.30" fill="#26c19a"/>
<circle cx="314.11" cy="266.40" r="1.30" fill="#26c19a"/>
<line x1="320.80" y1="259.50" x2="330.40" y2="259.50" stroke="#151515" stroke-width="1.0"/>
<circle cx="325.60" cy="255.00" r="1.30" fill="#f68c22"/>
<circle cx="326.80" cy="263.11" r="1.30" fill="#f68c22"/>
<circle cx="323.16" cy="265.11" r="1.30" fill="#f68c22"/>
<circle cx="325.31" cy="259.16" r="1.30" fill="#f68c22"/>
<circle cx="322.42" cy="255.79" r="1.30" fill="#f68c22"/>
<circle cx="325.93" cy="255.49" r="1.30" fill="#f68c22"/>
<circle cx="327.65" cy="260.79" r="1.30" fill="#f68c22"/>
<circle cx="323.18" cy="256.75" r="1.30" fill="#f68c22"/>
<circle cx="326.92" cy="263.28" r="1.30" fill="#f68c22"/>
<circle cx="329.06" cy="266.20" r="1.30" fill="#f68c22"/>
<line x1="334.20" y1="257.50" x2="343.80" y2="257.50" stroke="#151515" stroke-width="1.0"/>
<circle cx="341.71" cy="251.30" r="1.30" fill="#1c1cd8"/>
<circle cx="341.43" cy="254.11" r="1.30" fill="#1c1cd8"/>
<circle cx="336.84" cy="254.71" r="1.30" fill="#1c1cd8"/>
<circle cx="339.34" cy="262.55" r="1.30" fill="#1c1cd8"/>
<circle cx="337.72" cy="252.39" r="1.30" fill="#1c1cd8"/>
<circle cx="341.63" cy="261.78" r="1.30" fill="#1c1cd8"/>
<circle cx="337.57" cy="254.83" r="1.30" fill="#1c1cd8"/>
<circle cx="336.68" cy="264.80" r="1.30" fill="#1c1cd8"/>
<line x1="348.70" y1="239.80" x2="358.30" y2="239.80" stroke="#151515" stroke-width="1.0"/>
<circle cx="355.89" cy="219.60" r="1.30" fill="#ea1d26"/>
<circle cx="354.86" cy="223.35" r="1.30" fill="#ea1d26"/>
<circle cx="351.88" cy="229.27" r="1.30" fill="#ea1d26"/>
<circle cx="354.59" cy="250.11" r="1.30" fill="#ea1d26"/>
<circle cx="353.55" cy="233.78" r="1.30" fill="#ea1d26"/>
<circle cx="356.46" cy="227.61" r="1.30" fill="#ea1d26"/>
<circle cx="350.81" cy="260.18" r="1.30" fill="#ea1d26"/>
<circle cx="353.16" cy="230.93" r="1.30" fill="#ea1d26"/>
<circle cx="356.77" cy="254.12" r="1.30" fill="#ea1d26"/>
<circle cx="350.47" cy="249.29" r="1.30" fill="#ea1d26"/>
<circle cx="355.09" cy="243.74" r="1.30" fill="#ea1d26"/>
<circle cx="356.30" cy="247.75" r="1.30" fill="#ea1d26"/>
<circle cx="354.26" cy="263.00" r="1.30" fill="#ea1d26"/>
<path d="M312.70,205.90 L312.70,204.20 L353.50,204.20 L353.50,205.90" stroke="#151515" stroke-width="1.1" fill="none"/>
<text x="333.10" y="205.09" font-size="7.0" text-anchor="middle" font-weight="bold" fill="#151515" letter-spacing="-0.6">***</text>
<path d="M312.70,209.40 L312.70,207.70 L353.50,207.70 L353.50,209.40" stroke="#151515" stroke-width="1.1" fill="none"/>
<path d="M312.70,215.20 L312.70,213.50 L325.60,213.50 L325.60,215.20" stroke="#151515" stroke-width="1.1" fill="none"/>
<text x="319.15" y="214.39" font-size="7.0" text-anchor="middle" font-weight="bold" fill="#151515" letter-spacing="-0.6">***</text>
<path d="M325.60,215.20 L325.60,213.50 L353.50,213.50 L353.50,215.20" stroke="#151515" stroke-width="1.1" fill="none"/>
<text x="339.55" y="214.39" font-size="7.0" text-anchor="middle" font-weight="bold" fill="#151515" letter-spacing="-0.6">***</text>
<text x="319.00" y="209.59" font-size="7.0" text-anchor="middle" font-weight="bold" fill="#151515" letter-spacing="-0.6">**</text>
<text x="347.00" y="209.59" font-size="7.0" text-anchor="middle" font-weight="bold" fill="#151515" letter-spacing="-0.6">**</text>
<text x="365.50" y="194.40" font-size="14.0" text-anchor="start" font-weight="normal" fill="#151515">F</text>
<line x1="382.10" y1="282.62" x2="382.10" y2="219.70" stroke="#151515" stroke-width="1.25"/>
<line x1="381.48" y1="282.00" x2="512.10" y2="282.00" stroke="#151515" stroke-width="1.25"/>
<path d="M382.10,211.30 L385.80,221.80 Q382.10,220.33 378.40,221.80 Z" fill="#151515"/>
<path d="M520.50,282.00 L510.00,278.30 Q511.47,282.00 510.00,285.70 Z" fill="#151515"/>
<text x="379.80" y="246.50" font-size="6.7" text-anchor="middle" font-weight="bold" fill="#151515" transform="rotate(-90 379.80 246.50)">Cell (X10<tspan font-size="3.6" dy="-2">6</tspan><tspan dy="2">)</tspan></text>
<text x="453.50" y="289.60" font-size="6.1" text-anchor="middle" font-weight="bold" fill="#151515">Treatment</text>
<line x1="394.70" y1="210.28" x2="394.70" y2="268.22" stroke="#151515" stroke-width="1.05"/>
<line x1="393.00" y1="210.80" x2="394.70" y2="210.80" stroke="#151515" stroke-width="1.05"/>
<line x1="393.00" y1="225.03" x2="394.70" y2="225.03" stroke="#151515" stroke-width="1.05"/>
<line x1="393.00" y1="239.25" x2="394.70" y2="239.25" stroke="#151515" stroke-width="1.05"/>
<line x1="393.00" y1="253.47" x2="394.70" y2="253.47" stroke="#151515" stroke-width="1.05"/>
<line x1="393.00" y1="267.70" x2="394.70" y2="267.70" stroke="#151515" stroke-width="1.05"/>
<text x="392.20" y="212.46" font-size="4.6" text-anchor="end" font-weight="bold" fill="#151515">2</text>
<text x="392.20" y="269.36" font-size="4.6" text-anchor="end" font-weight="bold" fill="#151515">0</text>
<line x1="394.18" y1="267.70" x2="452.00" y2="267.70" stroke="#151515" stroke-width="1.05"/>
<text x="402.30" y="272.70" font-size="4.5" text-anchor="middle" font-weight="bold" fill="#151515">None</text>
<text x="414.90" y="272.70" font-size="4.5" text-anchor="middle" font-weight="bold" fill="#151515">IL-4</text>
<text x="429.70" y="272.70" font-size="4.5" text-anchor="middle" font-weight="bold" fill="#151515">IL-13</text>
<text x="444.30" y="272.70" font-size="4.5" text-anchor="middle" font-weight="bold" fill="#151515">IL-4+</text>
<text x="444.30" y="277.20" font-size="4.5" text-anchor="middle" font-weight="bold" fill="#151515">IL-13</text>
<text x="421.80" y="196.60" font-size="6.3" text-anchor="middle" font-weight="bold" fill="#151515">SP IT<tspan font-size="4.54" dy="1.8">reg</tspan></text>
<rect x="397.90" y="264.80" width="8.80" height="2.90" fill="#26c19a"/>
<line x1="402.30" y1="264.80" x2="402.30" y2="264.00" stroke="#151515" stroke-width="0.9"/>
<line x1="400.10" y1="264.00" x2="404.50" y2="264.00" stroke="#151515" stroke-width="0.9"/>
<rect x="410.50" y="263.50" width="8.80" height="4.20" fill="#f68c22"/>
<line x1="414.90" y1="263.50" x2="414.90" y2="262.60" stroke="#151515" stroke-width="0.9"/>
<line x1="412.70" y1="262.60" x2="417.10" y2="262.60" stroke="#151515" stroke-width="0.9"/>
<rect x="425.30" y="262.30" width="8.80" height="5.40" fill="#1c1cd8"/>
<line x1="429.70" y1="262.30" x2="429.70" y2="261.00" stroke="#151515" stroke-width="0.9"/>
<line x1="427.50" y1="261.00" x2="431.90" y2="261.00" stroke="#151515" stroke-width="0.9"/>
<rect x="439.90" y="252.30" width="8.80" height="15.40" fill="#ea1d26"/>
<line x1="444.30" y1="252.30" x2="444.30" y2="249.40" stroke="#151515" stroke-width="0.9"/>
<line x1="442.10" y1="249.40" x2="446.50" y2="249.40" stroke="#151515" stroke-width="0.9"/>
<path d="M402.30,205.90 L402.30,204.20 L444.30,204.20 L444.30,205.90" stroke="#151515" stroke-width="1.1" fill="none"/>
<text x="423.30" y="205.09" font-size="7.0" text-anchor="middle" font-weight="bold" fill="#151515" letter-spacing="-0.6">***</text>
<path d="M402.30,209.70 L402.30,208.00 L444.30,208.00 L444.30,209.70" stroke="#151515" stroke-width="1.1" fill="none"/>
<path d="M402.30,215.50 L402.30,213.80 L414.90,213.80 L414.90,215.50" stroke="#151515" stroke-width="1.1" fill="none"/>
<text x="408.60" y="214.69" font-size="7.0" text-anchor="middle" font-weight="bold" fill="#151515" letter-spacing="-0.6">**</text>
<path d="M414.90,215.50 L414.90,213.80 L444.30,213.80 L444.30,215.50" stroke="#151515" stroke-width="1.1" fill="none"/>
<text x="429.60" y="214.69" font-size="7.0" text-anchor="middle" font-weight="bold" fill="#151515" letter-spacing="-0.6">***</text>
<text x="414.00" y="209.89" font-size="7.0" text-anchor="middle" font-weight="bold" fill="#151515" letter-spacing="-0.6">*</text>
<text x="438.00" y="209.89" font-size="7.0" text-anchor="middle" font-weight="bold" fill="#151515" letter-spacing="-0.6">*</text>
<line x1="462.60" y1="210.57" x2="462.60" y2="267.42" stroke="#151515" stroke-width="1.05"/>
<line x1="460.90" y1="211.10" x2="462.60" y2="211.10" stroke="#151515" stroke-width="1.05"/>
<line x1="460.90" y1="225.05" x2="462.60" y2="225.05" stroke="#151515" stroke-width="1.05"/>
<line x1="460.90" y1="239.00" x2="462.60" y2="239.00" stroke="#151515" stroke-width="1.05"/>
<line x1="460.90" y1="252.95" x2="462.60" y2="252.95" stroke="#151515" stroke-width="1.05"/>
<line x1="460.90" y1="266.90" x2="462.60" y2="266.90" stroke="#151515" stroke-width="1.05"/>
<line x1="462.08" y1="266.90" x2="519.00" y2="266.90" stroke="#151515" stroke-width="1.05"/>
<text x="469.20" y="271.90" font-size="4.5" text-anchor="middle" font-weight="bold" fill="#151515">None</text>
<text x="484.40" y="271.90" font-size="4.5" text-anchor="middle" font-weight="bold" fill="#151515">IL-4</text>
<text x="497.90" y="271.90" font-size="4.5" text-anchor="middle" font-weight="bold" fill="#151515">IL-13</text>
<text x="512.20" y="271.90" font-size="4.5" text-anchor="middle" font-weight="bold" fill="#151515">IL-4+</text>
<text x="512.20" y="276.40" font-size="4.5" text-anchor="middle" font-weight="bold" fill="#151515">IL-13</text>
<text x="490.70" y="196.60" font-size="6.3" text-anchor="middle" font-weight="bold" fill="#151515">MLN IT<tspan font-size="4.54" dy="1.8">reg</tspan></text>
<rect x="464.60" y="266.00" width="9.20" height="0.90" fill="#26c19a"/>
<rect x="479.80" y="263.00" width="9.20" height="3.90" fill="#f68c22"/>
<line x1="484.40" y1="263.00" x2="484.40" y2="261.70" stroke="#151515" stroke-width="0.9"/>
<line x1="482.20" y1="261.70" x2="486.60" y2="261.70" stroke="#151515" stroke-width="0.9"/>
<rect x="493.30" y="261.10" width="9.20" height="5.80" fill="#1c1cd8"/>
<line x1="497.90" y1="261.10" x2="497.90" y2="259.60" stroke="#151515" stroke-width="0.9"/>
<line x1="495.70" y1="259.60" x2="500.10" y2="259.60" stroke="#151515" stroke-width="0.9"/>
<rect x="507.60" y="234.70" width="9.20" height="32.20" fill="#ea1d26"/>
<line x1="512.20" y1="234.70" x2="512.20" y2="227.70" stroke="#151515" stroke-width="0.9"/>
<line x1="510.00" y1="227.70" x2="514.40" y2="227.70" stroke="#151515" stroke-width="0.9"/>
<path d="M469.20,206.70 L469.20,205.00 L512.20,205.00 L512.20,206.70" stroke="#151515" stroke-width="1.1" fill="none"/>
<text x="490.70" y="205.89" font-size="7.0" text-anchor="middle" font-weight="bold" fill="#151515" letter-spacing="-0.6">***</text>
<path d="M469.20,209.90 L469.20,208.20 L512.20,208.20 L512.20,209.90" stroke="#151515" stroke-width="1.1" fill="none"/>
<path d="M469.20,214.70 L469.20,213.00 L484.40,213.00 L484.40,214.70" stroke="#151515" stroke-width="1.1" fill="none"/>
<text x="476.80" y="213.89" font-size="7.0" text-anchor="middle" font-weight="bold" fill="#151515" letter-spacing="-0.6">***</text>
<path d="M484.40,214.70 L484.40,213.00 L512.20,213.00 L512.20,214.70" stroke="#151515" stroke-width="1.1" fill="none"/>
<text x="498.30" y="213.89" font-size="7.0" text-anchor="middle" font-weight="bold" fill="#151515" letter-spacing="-0.6">***</text>
<text x="476.50" y="210.09" font-size="7.0" text-anchor="middle" font-weight="bold" fill="#151515" letter-spacing="-0.6">***</text>
<text x="505.00" y="210.09" font-size="7.0" text-anchor="middle" font-weight="bold" fill="#151515" letter-spacing="-0.6">**</text>
<text x="0.20" y="303.40" font-size="14.0" text-anchor="start" font-weight="normal" fill="#151515">G</text>
<line x1="15.00" y1="382.12" x2="15.00" y2="318.90" stroke="#151515" stroke-width="1.25"/>
<line x1="14.38" y1="381.50" x2="78.60" y2="381.50" stroke="#151515" stroke-width="1.25"/>
<path d="M15.00,310.50 L18.70,321.00 Q15.00,319.53 11.30,321.00 Z" fill="#151515"/>
<path d="M87.00,381.50 L76.50,377.80 Q77.97,381.50 76.50,385.20 Z" fill="#151515"/>
<text x="12.20" y="349.60" font-size="6.3" text-anchor="middle" font-weight="bold" fill="#151515" transform="rotate(-90 12.20 349.60)">Histology Scores</text>
<text x="47.00" y="388.30" font-size="6.1" text-anchor="middle" font-weight="bold" fill="#151515">Treatment</text>
<line x1="29.00" y1="309.48" x2="29.00" y2="367.02" stroke="#151515" stroke-width="1.05"/>
<line x1="27.30" y1="310.00" x2="29.00" y2="310.00" stroke="#151515" stroke-width="1.05"/>
<line x1="27.30" y1="324.12" x2="29.00" y2="324.12" stroke="#151515" stroke-width="1.05"/>
<line x1="27.30" y1="338.25" x2="29.00" y2="338.25" stroke="#151515" stroke-width="1.05"/>
<line x1="27.30" y1="352.38" x2="29.00" y2="352.38" stroke="#151515" stroke-width="1.05"/>
<line x1="27.30" y1="366.50" x2="29.00" y2="366.50" stroke="#151515" stroke-width="1.05"/>
<text x="26.50" y="311.58" font-size="4.4" text-anchor="end" font-weight="bold" fill="#151515">4</text>
<text x="26.50" y="368.08" font-size="4.4" text-anchor="end" font-weight="bold" fill="#151515">0</text>
<line x1="28.48" y1="366.50" x2="84.60" y2="366.50" stroke="#151515" stroke-width="1.05"/>
<text x="36.50" y="373.00" font-size="4.5" text-anchor="middle" font-weight="bold" fill="#151515">None</text>
<text x="50.60" y="373.00" font-size="4.5" text-anchor="middle" font-weight="bold" fill="#151515">IL-4</text>
<text x="65.00" y="373.00" font-size="4.5" text-anchor="middle" font-weight="bold" fill="#151515">IL-13</text>
<text x="78.90" y="373.00" font-size="4.5" text-anchor="middle" font-weight="bold" fill="#151515">IL-4+</text>
<text x="78.90" y="377.50" font-size="4.5" text-anchor="middle" font-weight="bold" fill="#151515">IL-13</text>
<line x1="31.50" y1="310.00" x2="41.50" y2="310.00" stroke="#26c19a" stroke-width="2.8"/>
<line x1="45.60" y1="310.00" x2="55.60" y2="310.00" stroke="#f68c22" stroke-width="2.8"/>
<line x1="60.00" y1="310.00" x2="70.00" y2="310.00" stroke="#1c1cd8" stroke-width="2.8"/>
<line x1="73.90" y1="310.00" x2="83.90" y2="310.00" stroke="#ea1d26" stroke-width="2.8"/>
<line x1="45.60" y1="319.20" x2="56.00" y2="319.20" stroke="#151515" stroke-width="0.9"/>
<line x1="60.00" y1="314.20" x2="70.00" y2="314.20" stroke="#151515" stroke-width="0.9"/>
<circle cx="36.50" cy="325.00" r="1.40" fill="#26c19a"/>
<circle cx="50.60" cy="325.00" r="1.40" fill="#f68c22"/>
<circle cx="50.60" cy="338.80" r="1.40" fill="#f68c22"/>
<circle cx="65.00" cy="352.70" r="1.40" fill="#1c1cd8"/>
<text x="97.80" y="303.60" font-size="14.0" text-anchor="start" font-weight="normal" fill="#151515">H</text>
<text x="129.50" y="302.60" font-size="6.3" text-anchor="middle" font-weight="normal" fill="#151515">None</text>
<text x="183.00" y="302.60" font-size="6.3" text-anchor="middle" font-weight="normal" fill="#151515">IL-4</text>
<text x="127.50" y="348.40" font-size="6.3" text-anchor="middle" font-weight="normal" fill="#151515">IL-13</text>
<text x="183.00" y="348.40" font-size="6.3" text-anchor="middle" font-weight="normal" fill="#151515">IL-4+IL-13</text>
<rect x="104.60" y="304.60" width="50.20" height="37.30" fill="url(#hTL)"/>
<rect x="104.60" y="304.60" width="50.20" height="37.30" fill="#fff" filter="url(#tex)" opacity="0.45"/>
<rect x="104.60" y="304.60" width="44.00" height="37.30" fill="#fff" filter="url(#tex2)" opacity="0.35"/>
<path d="M159,304.6 H202.5 V306.5 H205 V309 H208.2 V342 H159 Z" fill="#d2bce4"/>
<path d="M159,304.6 H202.5 V306.5 H205 V309 H208.2 V342 H159 Z" fill="#fff" filter="url(#tex)" opacity="0.5"/>
<path d="M159,304.6 H202.5 V306.5 H205 V309 H208.2 V342 H159 Z" fill="#fff" filter="url(#tex2)" opacity="0.3"/>
<circle cx="188.60" cy="326.00" r="2.00" fill="#fbf8fc"/>
<g clip-path="url(#cBL)">
<rect x="104.60" y="350.20" width="49.60" height="37.50" fill="#cca0d8"/>
<rect x="104.60" y="350.20" width="49.60" height="37.50" fill="#fff" filter="url(#tex)" opacity="0.3"/>
<line x1="98.15" y1="390.00" x2="114.11" y2="352.00" stroke="#f6eaf6" stroke-width="0.9975967827828485" opacity="0.93"/>
<line x1="101.59" y1="390.00" x2="118.28" y2="352.00" stroke="#f6eaf6" stroke-width="0.6145026141418074" opacity="0.76"/>
<line x1="105.13" y1="390.00" x2="120.73" y2="352.00" stroke="#f6eaf6" stroke-width="1.0504502458753113" opacity="0.64"/>
<line x1="107.86" y1="390.00" x2="121.85" y2="352.00" stroke="#f6eaf6" stroke-width="0.8718804296179652" opacity="0.80"/>
<line x1="110.62" y1="390.00" x2="124.48" y2="352.00" stroke="#f6eaf6" stroke-width="0.7397411830055551" opacity="0.92"/>
<line x1="114.82" y1="390.00" x2="128.46" y2="352.00" stroke="#f6eaf6" stroke-width="0.9985734957156023" opacity="0.65"/>
<line x1="117.94" y1="390.00" x2="131.45" y2="352.00" stroke="#f6eaf6" stroke-width="0.6008874311012673" opacity="0.90"/>
<line x1="120.75" y1="390.00" x2="134.61" y2="352.00" stroke="#f6eaf6" stroke-width="1.0912105544129627" opacity="0.91"/>
<line x1="124.15" y1="390.00" x2="140.99" y2="352.00" stroke="#f6eaf6" stroke-width="0.8696117344354053" opacity="0.84"/>
<line x1="127.35" y1="390.00" x2="144.11" y2="352.00" stroke="#f6eaf6" stroke-width="0.9453209705534542" opacity="0.94"/>
<line x1="131.47" y1="390.00" x2="145.67" y2="352.00" stroke="#f6eaf6" stroke-width="0.780594967361192" opacity="0.66"/>
<line x1="133.87" y1="390.00" x2="147.14" y2="352.00" stroke="#f6eaf6" stroke-width="0.7506795503847312" opacity="0.81"/>
<line x1="137.00" y1="390.00" x2="152.72" y2="352.00" stroke="#f6eaf6" stroke-width="0.7689484308139326" opacity="0.71"/>
<line x1="141.28" y1="390.00" x2="156.21" y2="352.00" stroke="#f6eaf6" stroke-width="0.757896552923222" opacity="0.77"/>
<line x1="144.45" y1="390.00" x2="157.67" y2="352.00" stroke="#f6eaf6" stroke-width="1.0875497815721178" opacity="0.61"/>
<line x1="147.80" y1="390.00" x2="164.18" y2="352.00" stroke="#f6eaf6" stroke-width="0.6090337676892651" opacity="0.88"/>
<rect x="104.60" y="350.20" width="49.60" height="37.50" fill="#fff" filter="url(#tex2)" opacity="0.3"/>
<path d="M133,388 L155,355 L155,388 Z" fill="#e4dcee"/>
<path d="M133,388 L155,355 L155,388 Z" fill="#fff" filter="url(#tex2)" opacity="0.35"/>
<line x1="133.00" y1="388.00" x2="155.00" y2="355.00" stroke="#fbf7fb" stroke-width="1.4"/>
<path d="M104.6,366 Q110,358 118,353 L123,350.2" stroke="#e4b0dc" stroke-width="2.2" fill="none"/>
</g>
<rect x="159.40" y="350.20" width="49.30" height="36.90" fill="url(#hBR)"/>
<rect x="159.40" y="350.20" width="49.30" height="36.90" fill="#fff" filter="url(#tex)" opacity="0.45"/>
<rect x="159.40" y="350.20" width="49.30" height="36.90" fill="#fff" filter="url(#tex2)" opacity="0.3"/>
<text x="216.40" y="303.60" font-size="14.0" text-anchor="start" font-weight="normal" fill="#151515">I</text>
<line x1="227.30" y1="314.40" x2="414.00" y2="314.40" stroke="#151515" stroke-width="1.0"/>
<text x="330.00" y="312.60" font-size="6.0" text-anchor="middle" font-weight="normal" fill="#151515">CD4<tspan font-size="4.20" dy="-2.40">+</tspan><tspan dy="2.40">EGFP</tspan><tspan font-size="4.20" dy="-2.40">+</tspan><tspan dy="2.40"> gate</tspan></text>
<text x="263.85" y="320.80" font-size="6.1" text-anchor="middle" font-weight="normal" fill="#151515">None</text>
<rect x="242.60" y="324.30" width="16.30" height="23.80" fill="#90aaf0"/>
<rect x="242.60" y="348.10" width="16.30" height="17.10" fill="#7c9cec"/>
<ellipse cx="252.38" cy="337.00" rx="7.50" ry="12.00" fill="url(#it0)"/>
<ellipse cx="252.38" cy="357.00" rx="6.50" ry="8.50" fill="url(#ib0)"/>
<circle cx="245.33" cy="342.95" r="0.50" fill="#2438c8" fill-opacity="0.3"/>
<circle cx="254.89" cy="352.95" r="0.50" fill="#2438c8" fill-opacity="0.3"/>
<circle cx="254.30" cy="342.10" r="0.50" fill="#2438c8" fill-opacity="0.3"/>
<circle cx="255.34" cy="346.06" r="0.50" fill="#2438c8" fill-opacity="0.3"/>
<circle cx="244.33" cy="342.99" r="0.50" fill="#2438c8" fill-opacity="0.3"/>
<circle cx="243.83" cy="362.03" r="0.50" fill="#2438c8" fill-opacity="0.3"/>
<circle cx="257.59" cy="338.18" r="0.50" fill="#2438c8" fill-opacity="0.3"/>
<circle cx="247.83" cy="355.44" r="0.50" fill="#2438c8" fill-opacity="0.3"/>
<circle cx="246.22" cy="331.92" r="0.50" fill="#2438c8" fill-opacity="0.3"/>
<circle cx="245.99" cy="338.65" r="0.50" fill="#2438c8" fill-opacity="0.3"/>
<circle cx="252.68" cy="363.24" r="0.50" fill="#2438c8" fill-opacity="0.3"/>
<circle cx="246.33" cy="362.95" r="0.50" fill="#2438c8" fill-opacity="0.3"/>
<circle cx="251.60" cy="360.76" r="0.50" fill="#2438c8" fill-opacity="0.3"/>
<circle cx="255.62" cy="331.20" r="0.50" fill="#2438c8" fill-opacity="0.3"/>
<circle cx="253.02" cy="329.75" r="0.50" fill="#2438c8" fill-opacity="0.3"/>
<circle cx="243.19" cy="340.58" r="0.50" fill="#2438c8" fill-opacity="0.3"/>
<circle cx="254.93" cy="347.39" r="0.50" fill="#2438c8" fill-opacity="0.3"/>
<circle cx="246.05" cy="358.36" r="0.50" fill="#2438c8" fill-opacity="0.3"/>
<circle cx="257.08" cy="334.27" r="0.50" fill="#2438c8" fill-opacity="0.3"/>
<circle cx="249.96" cy="350.25" r="0.50" fill="#2438c8" fill-opacity="0.3"/>
<circle cx="256.91" cy="329.85" r="0.50" fill="#2438c8" fill-opacity="0.3"/>
<circle cx="251.58" cy="363.44" r="0.50" fill="#2438c8" fill-opacity="0.3"/>
<circle cx="252.42" cy="353.42" r="0.50" fill="#2438c8" fill-opacity="0.3"/>
<circle cx="254.96" cy="345.03" r="0.50" fill="#2438c8" fill-opacity="0.3"/>
<circle cx="247.53" cy="348.36" r="0.50" fill="#2438c8" fill-opacity="0.3"/>
<circle cx="251.18" cy="338.50" r="0.50" fill="#2438c8" fill-opacity="0.3"/>
<circle cx="256.17" cy="339.28" r="0.50" fill="#2438c8" fill-opacity="0.3"/>
<circle cx="250.50" cy="355.18" r="0.50" fill="#2438c8" fill-opacity="0.3"/>
<circle cx="255.55" cy="360.33" r="0.50" fill="#2438c8" fill-opacity="0.3"/>
<circle cx="253.07" cy="334.88" r="0.50" fill="#2438c8" fill-opacity="0.3"/>
<circle cx="256.06" cy="361.08" r="0.50" fill="#2438c8" fill-opacity="0.3"/>
<circle cx="254.04" cy="355.40" r="0.50" fill="#2438c8" fill-opacity="0.3"/>
<circle cx="250.96" cy="344.49" r="0.50" fill="#2438c8" fill-opacity="0.3"/>
<circle cx="252.02" cy="330.67" r="0.50" fill="#2438c8" fill-opacity="0.3"/>
<circle cx="253.44" cy="359.17" r="0.50" fill="#2438c8" fill-opacity="0.3"/>
<circle cx="245.62" cy="354.88" r="0.50" fill="#2438c8" fill-opacity="0.3"/>
<circle cx="253.90" cy="329.63" r="0.50" fill="#2438c8" fill-opacity="0.3"/>
<circle cx="243.88" cy="348.56" r="0.50" fill="#2438c8" fill-opacity="0.3"/>
<circle cx="246.45" cy="337.16" r="0.50" fill="#2438c8" fill-opacity="0.3"/>
<circle cx="252.60" cy="350.77" r="0.50" fill="#2438c8" fill-opacity="0.3"/>
<circle cx="254.56" cy="347.47" r="0.50" fill="#2438c8" fill-opacity="0.3"/>
<circle cx="248.21" cy="325.30" r="0.50" fill="#2438c8" fill-opacity="0.3"/>
<circle cx="244.84" cy="332.49" r="0.50" fill="#2438c8" fill-opacity="0.3"/>
<circle cx="251.14" cy="353.53" r="0.50" fill="#2438c8" fill-opacity="0.3"/>
<circle cx="246.30" cy="340.35" r="0.50" fill="#2438c8" fill-opacity="0.3"/>
<circle cx="257.43" cy="340.78" r="0.50" fill="#2438c8" fill-opacity="0.3"/>
<circle cx="254.01" cy="349.48" r="0.50" fill="#2438c8" fill-opacity="0.3"/>
<circle cx="253.19" cy="343.82" r="0.50" fill="#2438c8" fill-opacity="0.3"/>
<circle cx="251.44" cy="352.76" r="0.50" fill="#2438c8" fill-opacity="0.3"/>
<circle cx="245.57" cy="356.67" r="0.50" fill="#2438c8" fill-opacity="0.3"/>
<circle cx="256.46" cy="326.68" r="0.50" fill="#2438c8" fill-opacity="0.3"/>
<circle cx="246.13" cy="334.73" r="0.50" fill="#2438c8" fill-opacity="0.3"/>
<circle cx="244.54" cy="330.39" r="0.50" fill="#2438c8" fill-opacity="0.3"/>
<circle cx="252.91" cy="329.71" r="0.50" fill="#2438c8" fill-opacity="0.3"/>
<circle cx="244.12" cy="362.54" r="0.50" fill="#2438c8" fill-opacity="0.3"/>
<circle cx="249.25" cy="346.37" r="0.50" fill="#2438c8" fill-opacity="0.3"/>
<circle cx="250.35" cy="338.51" r="0.50" fill="#2438c8" fill-opacity="0.3"/>
<circle cx="250.05" cy="332.55" r="0.50" fill="#2438c8" fill-opacity="0.3"/>
<circle cx="251.97" cy="334.82" r="0.50" fill="#2438c8" fill-opacity="0.3"/>
<circle cx="245.32" cy="333.13" r="0.50" fill="#2438c8" fill-opacity="0.3"/>
<circle cx="249.41" cy="361.92" r="0.50" fill="#2438c8" fill-opacity="0.3"/>
<circle cx="252.25" cy="363.93" r="0.50" fill="#2438c8" fill-opacity="0.3"/>
<circle cx="249.23" cy="335.19" r="0.50" fill="#2438c8" fill-opacity="0.3"/>
<circle cx="253.97" cy="332.40" r="0.50" fill="#2438c8" fill-opacity="0.3"/>
<circle cx="258.37" cy="340.38" r="0.50" fill="#2438c8" fill-opacity="0.3"/>
<circle cx="247.25" cy="335.62" r="0.50" fill="#2438c8" fill-opacity="0.3"/>
<circle cx="247.76" cy="362.17" r="0.50" fill="#2438c8" fill-opacity="0.3"/>
<circle cx="258.28" cy="347.08" r="0.50" fill="#2438c8" fill-opacity="0.3"/>
<circle cx="246.65" cy="325.19" r="0.50" fill="#2438c8" fill-opacity="0.3"/>
<circle cx="244.32" cy="336.69" r="0.50" fill="#2438c8" fill-opacity="0.3"/>
<circle cx="252.93" cy="349.79" r="0.50" fill="#2438c8" fill-opacity="0.3"/>
<circle cx="256.16" cy="357.56" r="0.50" fill="#2438c8" fill-opacity="0.3"/>
<circle cx="248.49" cy="351.69" r="0.50" fill="#2438c8" fill-opacity="0.3"/>
<circle cx="249.90" cy="353.86" r="0.50" fill="#2438c8" fill-opacity="0.3"/>
<circle cx="245.92" cy="363.76" r="0.50" fill="#2438c8" fill-opacity="0.3"/>
<circle cx="243.45" cy="349.44" r="0.50" fill="#2438c8" fill-opacity="0.3"/>
<circle cx="248.49" cy="356.75" r="0.50" fill="#2438c8" fill-opacity="0.3"/>
<circle cx="245.30" cy="360.35" r="0.50" fill="#2438c8" fill-opacity="0.3"/>
<circle cx="243.15" cy="354.13" r="0.50" fill="#2438c8" fill-opacity="0.3"/>
<circle cx="253.86" cy="345.04" r="0.50" fill="#2438c8" fill-opacity="0.3"/>
<circle cx="245.77" cy="340.05" r="0.50" fill="#2438c8" fill-opacity="0.3"/>
<circle cx="249.93" cy="333.28" r="0.50" fill="#2438c8" fill-opacity="0.3"/>
<circle cx="245.56" cy="358.41" r="0.50" fill="#2438c8" fill-opacity="0.3"/>
<circle cx="251.51" cy="335.60" r="0.50" fill="#2438c8" fill-opacity="0.3"/>
<circle cx="252.67" cy="350.05" r="0.50" fill="#2438c8" fill-opacity="0.3"/>
<circle cx="245.18" cy="348.13" r="0.50" fill="#2438c8" fill-opacity="0.3"/>
<circle cx="252.04" cy="329.23" r="0.50" fill="#2438c8" fill-opacity="0.3"/>
<circle cx="247.70" cy="359.24" r="0.50" fill="#2438c8" fill-opacity="0.3"/>
<circle cx="251.96" cy="333.70" r="0.50" fill="#2438c8" fill-opacity="0.3"/>
<circle cx="249.12" cy="343.09" r="0.50" fill="#2438c8" fill-opacity="0.3"/>
<circle cx="253.94" cy="359.14" r="0.50" fill="#2438c8" fill-opacity="0.3"/>
<circle cx="244.44" cy="326.66" r="0.50" fill="#2438c8" fill-opacity="0.3"/>
<circle cx="249.86" cy="325.60" r="0.50" fill="#2438c8" fill-opacity="0.3"/>
<circle cx="245.46" cy="329.04" r="0.50" fill="#2438c8" fill-opacity="0.3"/>
<circle cx="244.45" cy="349.75" r="0.50" fill="#2438c8" fill-opacity="0.3"/>
<circle cx="244.56" cy="347.41" r="0.50" fill="#2438c8" fill-opacity="0.3"/>
<circle cx="257.88" cy="330.40" r="0.50" fill="#2438c8" fill-opacity="0.3"/>
<circle cx="254.71" cy="348.11" r="0.50" fill="#2438c8" fill-opacity="0.3"/>
<circle cx="245.70" cy="362.70" r="0.50" fill="#2438c8" fill-opacity="0.3"/>
<circle cx="254.37" cy="339.94" r="0.50" fill="#2438c8" fill-opacity="0.3"/>
<circle cx="256.69" cy="328.96" r="0.50" fill="#2438c8" fill-opacity="0.3"/>
<circle cx="255.86" cy="358.41" r="0.50" fill="#2438c8" fill-opacity="0.3"/>
<circle cx="244.87" cy="361.32" r="0.50" fill="#2438c8" fill-opacity="0.3"/>
<circle cx="255.10" cy="361.29" r="0.50" fill="#2438c8" fill-opacity="0.3"/>
<circle cx="247.41" cy="354.26" r="0.50" fill="#2438c8" fill-opacity="0.3"/>
<circle cx="255.03" cy="338.70" r="0.50" fill="#2438c8" fill-opacity="0.3"/>
<circle cx="243.64" cy="325.37" r="0.50" fill="#2438c8" fill-opacity="0.3"/>
<circle cx="250.85" cy="346.67" r="0.50" fill="#2438c8" fill-opacity="0.3"/>
<circle cx="245.01" cy="349.97" r="0.50" fill="#2438c8" fill-opacity="0.3"/>
<circle cx="243.90" cy="343.88" r="0.50" fill="#2438c8" fill-opacity="0.3"/>
<circle cx="250.91" cy="332.92" r="0.50" fill="#2438c8" fill-opacity="0.3"/>
<circle cx="243.83" cy="360.83" r="0.50" fill="#2438c8" fill-opacity="0.3"/>
<circle cx="256.14" cy="348.27" r="0.50" fill="#2438c8" fill-opacity="0.3"/>
<circle cx="243.55" cy="345.76" r="0.50" fill="#2438c8" fill-opacity="0.3"/>
<circle cx="257.83" cy="355.41" r="0.50" fill="#2438c8" fill-opacity="0.3"/>
<circle cx="253.63" cy="326.38" r="0.50" fill="#2438c8" fill-opacity="0.3"/>
<circle cx="251.95" cy="334.08" r="0.50" fill="#2438c8" fill-opacity="0.3"/>
<circle cx="258.19" cy="325.24" r="0.50" fill="#2438c8" fill-opacity="0.3"/>
<circle cx="246.51" cy="359.91" r="0.50" fill="#2438c8" fill-opacity="0.3"/>
<circle cx="244.94" cy="336.77" r="0.50" fill="#2438c8" fill-opacity="0.3"/>
<circle cx="247.79" cy="359.98" r="0.50" fill="#2438c8" fill-opacity="0.3"/>
<circle cx="253.75" cy="362.06" r="0.50" fill="#2438c8" fill-opacity="0.3"/>
<circle cx="246.04" cy="328.32" r="0.50" fill="#2438c8" fill-opacity="0.3"/>
<circle cx="248.35" cy="355.37" r="0.50" fill="#2438c8" fill-opacity="0.3"/>
<circle cx="252.57" cy="362.11" r="0.50" fill="#2438c8" fill-opacity="0.3"/>
<circle cx="254.01" cy="328.07" r="0.50" fill="#2438c8" fill-opacity="0.3"/>
<circle cx="247.92" cy="332.93" r="0.50" fill="#2438c8" fill-opacity="0.3"/>
<circle cx="247.20" cy="351.39" r="0.50" fill="#2438c8" fill-opacity="0.3"/>
<circle cx="249.89" cy="354.99" r="0.50" fill="#2438c8" fill-opacity="0.3"/>
<circle cx="243.34" cy="361.06" r="0.50" fill="#2438c8" fill-opacity="0.3"/>
<circle cx="245.58" cy="354.43" r="0.50" fill="#2438c8" fill-opacity="0.3"/>
<circle cx="256.02" cy="326.48" r="0.50" fill="#2438c8" fill-opacity="0.3"/>
<circle cx="251.40" cy="363.70" r="0.50" fill="#2438c8" fill-opacity="0.3"/>
<circle cx="243.21" cy="344.64" r="0.50" fill="#2438c8" fill-opacity="0.3"/>
<circle cx="249.61" cy="340.02" r="0.50" fill="#2438c8" fill-opacity="0.3"/>
<circle cx="246.07" cy="332.00" r="0.50" fill="#2438c8" fill-opacity="0.3"/>
<circle cx="247.17" cy="333.48" r="0.50" fill="#2438c8" fill-opacity="0.3"/>
<circle cx="247.60" cy="360.78" r="0.50" fill="#2438c8" fill-opacity="0.3"/>
<circle cx="257.62" cy="335.17" r="0.50" fill="#2438c8" fill-opacity="0.3"/>
<circle cx="243.52" cy="335.42" r="0.50" fill="#2438c8" fill-opacity="0.3"/>
<circle cx="256.21" cy="331.82" r="0.50" fill="#2438c8" fill-opacity="0.3"/>
<circle cx="253.23" cy="328.50" r="0.50" fill="#2438c8" fill-opacity="0.3"/>
<circle cx="248.49" cy="331.56" r="0.50" fill="#2438c8" fill-opacity="0.3"/>
<circle cx="252.53" cy="339.57" r="0.50" fill="#2438c8" fill-opacity="0.3"/>
<circle cx="254.94" cy="345.48" r="0.50" fill="#2438c8" fill-opacity="0.3"/>
<circle cx="249.28" cy="325.66" r="0.50" fill="#2438c8" fill-opacity="0.3"/>
<circle cx="255.93" cy="326.36" r="0.50" fill="#2438c8" fill-opacity="0.3"/>
<circle cx="250.73" cy="364.22" r="0.50" fill="#2438c8" fill-opacity="0.3"/>
<circle cx="255.20" cy="338.99" r="0.50" fill="#2438c8" fill-opacity="0.3"/>
<circle cx="257.33" cy="335.10" r="0.50" fill="#2438c8" fill-opacity="0.3"/>
<circle cx="252.00" cy="347.76" r="0.50" fill="#2438c8" fill-opacity="0.3"/>
<circle cx="254.13" cy="336.31" r="0.50" fill="#2438c8" fill-opacity="0.3"/>
<circle cx="249.18" cy="337.75" r="0.50" fill="#2438c8" fill-opacity="0.3"/>
<circle cx="257.16" cy="354.24" r="0.50" fill="#2438c8" fill-opacity="0.3"/>
<circle cx="248.30" cy="355.68" r="0.50" fill="#2438c8" fill-opacity="0.3"/>
<circle cx="252.55" cy="334.65" r="0.50" fill="#2438c8" fill-opacity="0.3"/>
<circle cx="250.74" cy="328.69" r="0.50" fill="#2438c8" fill-opacity="0.3"/>
<circle cx="246.33" cy="327.87" r="0.50" fill="#2438c8" fill-opacity="0.3"/>
<circle cx="244.34" cy="349.36" r="0.50" fill="#2438c8" fill-opacity="0.3"/>
<circle cx="255.80" cy="358.10" r="0.50" fill="#2438c8" fill-opacity="0.3"/>
<circle cx="255.70" cy="360.52" r="0.50" fill="#ffffff" fill-opacity="0.35"/>
<circle cx="245.97" cy="336.92" r="0.50" fill="#ffffff" fill-opacity="0.35"/>
<circle cx="250.42" cy="331.30" r="0.50" fill="#ffffff" fill-opacity="0.35"/>
<circle cx="244.50" cy="354.49" r="0.50" fill="#ffffff" fill-opacity="0.35"/>
<circle cx="248.19" cy="354.34" r="0.50" fill="#ffffff" fill-opacity="0.35"/>
<circle cx="257.33" cy="342.48" r="0.50" fill="#ffffff" fill-opacity="0.35"/>
<circle cx="254.58" cy="326.84" r="0.50" fill="#ffffff" fill-opacity="0.35"/>
<circle cx="255.73" cy="330.36" r="0.50" fill="#ffffff" fill-opacity="0.35"/>
<circle cx="255.81" cy="344.37" r="0.50" fill="#ffffff" fill-opacity="0.35"/>
<circle cx="257.61" cy="351.93" r="0.50" fill="#ffffff" fill-opacity="0.35"/>
<circle cx="250.46" cy="329.91" r="0.50" fill="#ffffff" fill-opacity="0.35"/>
<circle cx="243.96" cy="356.75" r="0.50" fill="#ffffff" fill-opacity="0.35"/>
<circle cx="251.80" cy="333.00" r="0.50" fill="#ffffff" fill-opacity="0.35"/>
<circle cx="247.26" cy="349.67" r="0.50" fill="#ffffff" fill-opacity="0.35"/>
<circle cx="250.66" cy="346.27" r="0.50" fill="#ffffff" fill-opacity="0.35"/>
<circle cx="251.55" cy="358.91" r="0.50" fill="#ffffff" fill-opacity="0.35"/>
<circle cx="243.54" cy="359.27" r="0.50" fill="#ffffff" fill-opacity="0.35"/>
<circle cx="252.95" cy="363.24" r="0.50" fill="#ffffff" fill-opacity="0.35"/>
<circle cx="245.71" cy="326.18" r="0.50" fill="#ffffff" fill-opacity="0.35"/>
<circle cx="247.67" cy="332.73" r="0.50" fill="#ffffff" fill-opacity="0.35"/>
<circle cx="251.63" cy="336.33" r="0.50" fill="#ffffff" fill-opacity="0.35"/>
<circle cx="243.37" cy="335.61" r="0.50" fill="#ffffff" fill-opacity="0.35"/>
<circle cx="257.53" cy="362.54" r="0.50" fill="#ffffff" fill-opacity="0.35"/>
<circle cx="253.31" cy="336.50" r="0.50" fill="#ffffff" fill-opacity="0.35"/>
<circle cx="245.11" cy="357.92" r="0.50" fill="#ffffff" fill-opacity="0.35"/>
<circle cx="245.01" cy="335.53" r="0.50" fill="#ffffff" fill-opacity="0.35"/>
<circle cx="251.91" cy="331.58" r="0.50" fill="#ffffff" fill-opacity="0.35"/>
<circle cx="250.04" cy="327.44" r="0.50" fill="#ffffff" fill-opacity="0.35"/>
<circle cx="248.52" cy="355.96" r="0.50" fill="#ffffff" fill-opacity="0.35"/>
<circle cx="256.22" cy="357.69" r="0.50" fill="#ffffff" fill-opacity="0.35"/>
<circle cx="253.23" cy="363.86" r="0.50" fill="#ffffff" fill-opacity="0.35"/>
<circle cx="244.57" cy="331.94" r="0.50" fill="#ffffff" fill-opacity="0.35"/>
<circle cx="247.25" cy="357.86" r="0.50" fill="#ffffff" fill-opacity="0.35"/>
<circle cx="255.70" cy="347.81" r="0.50" fill="#ffffff" fill-opacity="0.35"/>
<circle cx="248.86" cy="339.43" r="0.50" fill="#ffffff" fill-opacity="0.35"/>
<circle cx="257.23" cy="348.82" r="0.50" fill="#ffffff" fill-opacity="0.35"/>
<circle cx="246.21" cy="325.49" r="0.50" fill="#ffffff" fill-opacity="0.35"/>
<circle cx="244.41" cy="326.72" r="0.50" fill="#ffffff" fill-opacity="0.35"/>
<circle cx="249.18" cy="336.31" r="0.50" fill="#ffffff" fill-opacity="0.35"/>
<circle cx="253.28" cy="325.79" r="0.50" fill="#ffffff" fill-opacity="0.35"/>
<circle cx="248.51" cy="332.02" r="0.50" fill="#ffffff" fill-opacity="0.35"/>
<circle cx="257.11" cy="356.30" r="0.50" fill="#ffffff" fill-opacity="0.35"/>
<circle cx="251.91" cy="364.49" r="0.50" fill="#ffffff" fill-opacity="0.35"/>
<circle cx="247.65" cy="358.14" r="0.50" fill="#ffffff" fill-opacity="0.35"/>
<circle cx="246.92" cy="363.34" r="0.50" fill="#ffffff" fill-opacity="0.35"/>
<circle cx="250.40" cy="360.59" r="0.50" fill="#ffffff" fill-opacity="0.35"/>
<circle cx="252.58" cy="330.74" r="0.50" fill="#ffffff" fill-opacity="0.35"/>
<circle cx="255.22" cy="335.64" r="0.50" fill="#ffffff" fill-opacity="0.35"/>
<circle cx="249.47" cy="350.46" r="0.50" fill="#ffffff" fill-opacity="0.35"/>
<circle cx="257.20" cy="332.62" r="0.50" fill="#ffffff" fill-opacity="0.35"/>
<circle cx="248.51" cy="331.29" r="0.50" fill="#ffffff" fill-opacity="0.35"/>
<circle cx="257.78" cy="351.37" r="0.50" fill="#ffffff" fill-opacity="0.35"/>
<circle cx="243.31" cy="335.73" r="0.50" fill="#ffffff" fill-opacity="0.35"/>
<circle cx="256.66" cy="325.99" r="0.50" fill="#ffffff" fill-opacity="0.35"/>
<circle cx="251.57" cy="343.48" r="0.50" fill="#ffffff" fill-opacity="0.35"/>
<circle cx="246.70" cy="359.40" r="0.50" fill="#ffffff" fill-opacity="0.35"/>
<circle cx="245.56" cy="329.34" r="0.50" fill="#ffffff" fill-opacity="0.35"/>
<circle cx="245.87" cy="350.63" r="0.50" fill="#ffffff" fill-opacity="0.35"/>
<circle cx="247.26" cy="336.43" r="0.50" fill="#ffffff" fill-opacity="0.35"/>
<circle cx="256.69" cy="352.68" r="0.50" fill="#ffffff" fill-opacity="0.35"/>
<circle cx="255.73" cy="331.17" r="0.50" fill="#ffffff" fill-opacity="0.35"/>
<circle cx="244.65" cy="327.73" r="0.50" fill="#ffffff" fill-opacity="0.35"/>
<circle cx="250.01" cy="338.16" r="0.50" fill="#ffffff" fill-opacity="0.35"/>
<circle cx="250.54" cy="343.14" r="0.50" fill="#ffffff" fill-opacity="0.35"/>
<circle cx="253.70" cy="339.78" r="0.50" fill="#ffffff" fill-opacity="0.35"/>
<circle cx="247.00" cy="328.03" r="0.50" fill="#ffffff" fill-opacity="0.35"/>
<circle cx="255.70" cy="360.56" r="0.50" fill="#ffffff" fill-opacity="0.35"/>
<circle cx="247.99" cy="328.44" r="0.50" fill="#ffffff" fill-opacity="0.35"/>
<circle cx="249.63" cy="341.74" r="0.50" fill="#ffffff" fill-opacity="0.35"/>
<circle cx="252.81" cy="329.43" r="0.50" fill="#ffffff" fill-opacity="0.35"/>
<circle cx="246.18" cy="333.47" r="0.50" fill="#ffffff" fill-opacity="0.35"/>
<circle cx="251.63" cy="332.74" r="0.50" fill="#ffffff" fill-opacity="0.35"/>
<circle cx="249.80" cy="349.74" r="0.50" fill="#ffffff" fill-opacity="0.35"/>
<circle cx="258.39" cy="330.17" r="0.50" fill="#ffffff" fill-opacity="0.35"/>
<circle cx="245.44" cy="358.19" r="0.50" fill="#ffffff" fill-opacity="0.35"/>
<circle cx="250.11" cy="346.71" r="0.50" fill="#ffffff" fill-opacity="0.35"/>
<circle cx="251.53" cy="332.76" r="0.50" fill="#ffffff" fill-opacity="0.35"/>
<circle cx="244.89" cy="335.77" r="0.50" fill="#ffffff" fill-opacity="0.35"/>
<circle cx="257.38" cy="335.20" r="0.50" fill="#ffffff" fill-opacity="0.35"/>
<circle cx="246.25" cy="332.37" r="0.50" fill="#ffffff" fill-opacity="0.35"/>
<circle cx="245.81" cy="360.85" r="0.50" fill="#ffffff" fill-opacity="0.35"/>
<circle cx="255.77" cy="353.51" r="0.50" fill="#ffffff" fill-opacity="0.35"/>
<circle cx="246.33" cy="332.82" r="0.50" fill="#ffffff" fill-opacity="0.35"/>
<circle cx="249.30" cy="325.94" r="0.50" fill="#ffffff" fill-opacity="0.35"/>
<circle cx="251.43" cy="346.85" r="0.50" fill="#ffffff" fill-opacity="0.35"/>
<circle cx="247.79" cy="336.20" r="0.50" fill="#ffffff" fill-opacity="0.35"/>
<circle cx="250.10" cy="353.44" r="0.50" fill="#ffffff" fill-opacity="0.35"/>
<circle cx="249.77" cy="357.71" r="0.50" fill="#ffffff" fill-opacity="0.35"/>
<circle cx="254.98" cy="338.30" r="0.50" fill="#ffffff" fill-opacity="0.35"/>
<circle cx="256.17" cy="352.03" r="0.50" fill="#ffffff" fill-opacity="0.35"/>
<rect x="258.90" y="324.30" width="26.20" height="23.80" fill="#f8f8fe"/>
<rect x="258.90" y="348.10" width="26.20" height="17.10" fill="#f6f6fd"/>
<circle cx="270.78" cy="338.14" r="0.50" fill="#5064e0" fill-opacity="0.3"/>
<circle cx="266.05" cy="333.78" r="0.50" fill="#5064e0" fill-opacity="0.3"/>
<circle cx="269.91" cy="333.36" r="0.50" fill="#5064e0" fill-opacity="0.3"/>
<circle cx="273.34" cy="337.47" r="0.50" fill="#5064e0" fill-opacity="0.3"/>
<circle cx="267.44" cy="337.94" r="0.50" fill="#5064e0" fill-opacity="0.3"/>
<circle cx="265.73" cy="343.55" r="0.50" fill="#5064e0" fill-opacity="0.3"/>
<circle cx="264.02" cy="345.86" r="0.50" fill="#5064e0" fill-opacity="0.3"/>
<circle cx="265.26" cy="339.23" r="0.50" fill="#5064e0" fill-opacity="0.3"/>
<circle cx="269.28" cy="339.28" r="0.50" fill="#5064e0" fill-opacity="0.3"/>
<circle cx="271.67" cy="342.09" r="0.50" fill="#5064e0" fill-opacity="0.3"/>
<circle cx="270.69" cy="332.48" r="0.50" fill="#5064e0" fill-opacity="0.3"/>
<circle cx="268.15" cy="334.37" r="0.50" fill="#5064e0" fill-opacity="0.3"/>
<circle cx="268.28" cy="345.87" r="0.50" fill="#5064e0" fill-opacity="0.3"/>
<circle cx="269.26" cy="326.61" r="0.50" fill="#5064e0" fill-opacity="0.3"/>
<circle cx="271.47" cy="342.94" r="0.50" fill="#5064e0" fill-opacity="0.3"/>
<circle cx="267.68" cy="346.95" r="0.50" fill="#5064e0" fill-opacity="0.3"/>
<circle cx="274.40" cy="342.87" r="0.50" fill="#5064e0" fill-opacity="0.3"/>
<circle cx="272.99" cy="332.39" r="0.50" fill="#5064e0" fill-opacity="0.3"/>
<circle cx="259.69" cy="345.59" r="0.50" fill="#5064e0" fill-opacity="0.3"/>
<circle cx="270.64" cy="328.27" r="0.50" fill="#5064e0" fill-opacity="0.3"/>
<circle cx="262.84" cy="342.97" r="0.50" fill="#5064e0" fill-opacity="0.3"/>
<circle cx="274.26" cy="337.09" r="0.50" fill="#5064e0" fill-opacity="0.3"/>
<circle cx="263.70" cy="345.41" r="0.50" fill="#5064e0" fill-opacity="0.3"/>
<circle cx="262.39" cy="354.88" r="0.50" fill="#5064e0" fill-opacity="0.3"/>
<circle cx="272.43" cy="357.03" r="0.50" fill="#5064e0" fill-opacity="0.3"/>
<circle cx="269.69" cy="353.24" r="0.50" fill="#5064e0" fill-opacity="0.3"/>
<circle cx="263.78" cy="355.86" r="0.50" fill="#5064e0" fill-opacity="0.3"/>
<circle cx="261.73" cy="358.68" r="0.50" fill="#5064e0" fill-opacity="0.3"/>
<circle cx="269.81" cy="359.30" r="0.50" fill="#5064e0" fill-opacity="0.3"/>
<circle cx="276.93" cy="361.50" r="0.50" fill="#5064e0" fill-opacity="0.3"/>
<circle cx="259.68" cy="356.92" r="0.50" fill="#5064e0" fill-opacity="0.3"/>
<circle cx="268.17" cy="350.93" r="0.50" fill="#5064e0" fill-opacity="0.3"/>
<circle cx="266.04" cy="360.67" r="0.50" fill="#5064e0" fill-opacity="0.3"/>
<circle cx="276.81" cy="359.93" r="0.50" fill="#5064e0" fill-opacity="0.3"/>
<circle cx="267.00" cy="349.66" r="0.50" fill="#5064e0" fill-opacity="0.3"/>
<circle cx="277.80" cy="358.60" r="0.50" fill="#5064e0" fill-opacity="0.3"/>
<circle cx="276.24" cy="355.16" r="0.50" fill="#5064e0" fill-opacity="0.3"/>
<circle cx="266.37" cy="359.62" r="0.50" fill="#5064e0" fill-opacity="0.3"/>
<circle cx="273.61" cy="353.42" r="0.50" fill="#5064e0" fill-opacity="0.3"/>
<circle cx="270.05" cy="354.93" r="0.50" fill="#5064e0" fill-opacity="0.3"/>
<circle cx="271.52" cy="360.75" r="0.50" fill="#5064e0" fill-opacity="0.3"/>
<circle cx="262.64" cy="357.84" r="0.50" fill="#5064e0" fill-opacity="0.3"/>
<circle cx="267.06" cy="351.14" r="0.50" fill="#5064e0" fill-opacity="0.3"/>
<circle cx="269.48" cy="356.75" r="0.50" fill="#5064e0" fill-opacity="0.3"/>
<circle cx="271.64" cy="356.93" r="0.50" fill="#5064e0" fill-opacity="0.3"/>
<circle cx="263.17" cy="358.15" r="0.50" fill="#5064e0" fill-opacity="0.3"/>
<circle cx="274.23" cy="358.67" r="0.50" fill="#5064e0" fill-opacity="0.3"/>
<circle cx="272.85" cy="360.66" r="0.50" fill="#5064e0" fill-opacity="0.3"/>
<circle cx="277.02" cy="354.11" r="0.50" fill="#5064e0" fill-opacity="0.3"/>
<circle cx="268.66" cy="359.35" r="0.50" fill="#5064e0" fill-opacity="0.3"/>
<circle cx="271.52" cy="353.28" r="0.50" fill="#5064e0" fill-opacity="0.3"/>
<rect x="242.60" y="324.30" width="42.50" height="40.90" fill="none" stroke="#151515" stroke-width="1.5"/>
<line x1="258.90" y1="324.30" x2="258.90" y2="365.20" stroke="#151515" stroke-width="1.4"/>
<line x1="242.60" y1="348.10" x2="285.10" y2="348.10" stroke="#151515" stroke-width="1.4"/>
<text x="249.40" y="331.20" font-size="5.4" text-anchor="middle" font-weight="bold" fill="#151515">32</text>
<text x="282.70" y="331.20" font-size="5.4" text-anchor="end" font-weight="bold" fill="#151515">3</text>
<text x="249.40" y="361.40" font-size="5.4" text-anchor="middle" font-weight="bold" fill="#151515">62</text>
<text x="282.70" y="361.40" font-size="5.4" text-anchor="end" font-weight="bold" fill="#151515">3</text>
<text x="252.90" y="372.00" font-size="5.6" text-anchor="middle" font-weight="normal" fill="#151515">10<tspan font-size="3.92" dy="-2.24">2</tspan><tspan dy="2.24"></tspan></text>
<text x="269.10" y="372.00" font-size="5.6" text-anchor="middle" font-weight="normal" fill="#151515">10<tspan font-size="3.92" dy="-2.24">4</tspan><tspan dy="2.24"></tspan></text>
<text x="307.10" y="320.80" font-size="6.1" text-anchor="middle" font-weight="normal" fill="#151515">IL-4</text>
<rect x="286.60" y="324.30" width="20.90" height="24.90" fill="#c4ccf4"/>
<rect x="286.60" y="349.20" width="20.90" height="16.00" fill="#a8b8f0"/>
<ellipse cx="299.56" cy="337.00" rx="6.50" ry="12.00" fill="url(#it1)"/>
<ellipse cx="299.56" cy="357.00" rx="5.00" ry="8.50" fill="url(#ib1)"/>
<circle cx="298.66" cy="332.57" r="0.50" fill="#2438c8" fill-opacity="0.3"/>
<circle cx="306.31" cy="361.67" r="0.50" fill="#2438c8" fill-opacity="0.3"/>
<circle cx="296.40" cy="351.27" r="0.50" fill="#2438c8" fill-opacity="0.3"/>
<circle cx="291.37" cy="333.65" r="0.50" fill="#2438c8" fill-opacity="0.3"/>
<circle cx="292.84" cy="352.43" r="0.50" fill="#2438c8" fill-opacity="0.3"/>
<circle cx="291.33" cy="363.55" r="0.50" fill="#2438c8" fill-opacity="0.3"/>
<circle cx="288.50" cy="332.51" r="0.50" fill="#2438c8" fill-opacity="0.3"/>
<circle cx="288.87" cy="355.52" r="0.50" fill="#2438c8" fill-opacity="0.3"/>
<circle cx="294.39" cy="343.62" r="0.50" fill="#2438c8" fill-opacity="0.3"/>
<circle cx="293.59" cy="350.23" r="0.50" fill="#2438c8" fill-opacity="0.3"/>
<circle cx="295.14" cy="333.11" r="0.50" fill="#2438c8" fill-opacity="0.3"/>
<circle cx="295.66" cy="336.94" r="0.50" fill="#2438c8" fill-opacity="0.3"/>
<circle cx="289.30" cy="357.65" r="0.50" fill="#2438c8" fill-opacity="0.3"/>
<circle cx="300.63" cy="351.33" r="0.50" fill="#2438c8" fill-opacity="0.3"/>
<circle cx="304.66" cy="340.55" r="0.50" fill="#2438c8" fill-opacity="0.3"/>
<circle cx="294.65" cy="341.68" r="0.50" fill="#2438c8" fill-opacity="0.3"/>
<circle cx="295.15" cy="351.49" r="0.50" fill="#2438c8" fill-opacity="0.3"/>
<circle cx="287.23" cy="343.32" r="0.50" fill="#2438c8" fill-opacity="0.3"/>
<circle cx="297.75" cy="338.59" r="0.50" fill="#2438c8" fill-opacity="0.3"/>
<circle cx="287.54" cy="352.91" r="0.50" fill="#2438c8" fill-opacity="0.3"/>
<circle cx="287.29" cy="347.32" r="0.50" fill="#2438c8" fill-opacity="0.3"/>
<circle cx="290.15" cy="326.18" r="0.50" fill="#2438c8" fill-opacity="0.3"/>
<circle cx="290.70" cy="327.42" r="0.50" fill="#2438c8" fill-opacity="0.3"/>
<circle cx="290.10" cy="352.13" r="0.50" fill="#2438c8" fill-opacity="0.3"/>
<circle cx="301.59" cy="339.28" r="0.50" fill="#2438c8" fill-opacity="0.3"/>
<circle cx="300.08" cy="343.76" r="0.50" fill="#2438c8" fill-opacity="0.3"/>
<circle cx="297.02" cy="359.75" r="0.50" fill="#2438c8" fill-opacity="0.3"/>
<circle cx="293.29" cy="359.51" r="0.50" fill="#2438c8" fill-opacity="0.3"/>
<circle cx="300.85" cy="352.07" r="0.50" fill="#2438c8" fill-opacity="0.3"/>
<circle cx="287.22" cy="328.15" r="0.50" fill="#2438c8" fill-opacity="0.3"/>
<circle cx="287.74" cy="338.60" r="0.50" fill="#2438c8" fill-opacity="0.3"/>
<circle cx="305.93" cy="359.74" r="0.50" fill="#2438c8" fill-opacity="0.3"/>
<circle cx="303.79" cy="329.54" r="0.50" fill="#2438c8" fill-opacity="0.3"/>
<circle cx="301.14" cy="355.70" r="0.50" fill="#2438c8" fill-opacity="0.3"/>
<circle cx="303.20" cy="356.41" r="0.50" fill="#2438c8" fill-opacity="0.3"/>
<circle cx="289.89" cy="331.94" r="0.50" fill="#2438c8" fill-opacity="0.3"/>
<circle cx="302.87" cy="354.25" r="0.50" fill="#2438c8" fill-opacity="0.3"/>
<circle cx="304.86" cy="342.61" r="0.50" fill="#2438c8" fill-opacity="0.3"/>
<circle cx="304.80" cy="330.36" r="0.50" fill="#2438c8" fill-opacity="0.3"/>
<circle cx="306.15" cy="360.09" r="0.50" fill="#2438c8" fill-opacity="0.3"/>
<circle cx="293.82" cy="327.50" r="0.50" fill="#2438c8" fill-opacity="0.3"/>
<circle cx="298.02" cy="352.30" r="0.50" fill="#2438c8" fill-opacity="0.3"/>
<circle cx="294.07" cy="327.09" r="0.50" fill="#2438c8" fill-opacity="0.3"/>
<circle cx="292.65" cy="357.70" r="0.50" fill="#2438c8" fill-opacity="0.3"/>
<circle cx="288.90" cy="362.20" r="0.50" fill="#2438c8" fill-opacity="0.3"/>
<circle cx="292.08" cy="332.96" r="0.50" fill="#2438c8" fill-opacity="0.3"/>
<circle cx="289.33" cy="363.94" r="0.50" fill="#2438c8" fill-opacity="0.3"/>
<circle cx="305.03" cy="337.53" r="0.50" fill="#2438c8" fill-opacity="0.3"/>
<circle cx="289.00" cy="350.87" r="0.50" fill="#2438c8" fill-opacity="0.3"/>
<circle cx="304.76" cy="325.28" r="0.50" fill="#2438c8" fill-opacity="0.3"/>
<circle cx="299.70" cy="358.98" r="0.50" fill="#2438c8" fill-opacity="0.3"/>
<circle cx="296.23" cy="347.52" r="0.50" fill="#2438c8" fill-opacity="0.3"/>
<circle cx="303.10" cy="334.32" r="0.50" fill="#2438c8" fill-opacity="0.3"/>
<circle cx="292.54" cy="351.15" r="0.50" fill="#2438c8" fill-opacity="0.3"/>
<circle cx="298.09" cy="346.16" r="0.50" fill="#2438c8" fill-opacity="0.3"/>
<circle cx="293.75" cy="362.19" r="0.50" fill="#2438c8" fill-opacity="0.3"/>
<circle cx="292.83" cy="351.89" r="0.50" fill="#2438c8" fill-opacity="0.3"/>
<circle cx="304.89" cy="340.79" r="0.50" fill="#2438c8" fill-opacity="0.3"/>
<circle cx="288.18" cy="333.59" r="0.50" fill="#2438c8" fill-opacity="0.3"/>
<circle cx="288.42" cy="330.71" r="0.50" fill="#2438c8" fill-opacity="0.3"/>
<circle cx="289.50" cy="338.47" r="0.50" fill="#2438c8" fill-opacity="0.3"/>
<circle cx="294.46" cy="342.65" r="0.50" fill="#2438c8" fill-opacity="0.3"/>
<circle cx="300.34" cy="351.80" r="0.50" fill="#2438c8" fill-opacity="0.3"/>
<circle cx="300.78" cy="339.34" r="0.50" fill="#2438c8" fill-opacity="0.3"/>
<circle cx="300.29" cy="346.74" r="0.50" fill="#2438c8" fill-opacity="0.3"/>
<circle cx="289.64" cy="346.58" r="0.50" fill="#2438c8" fill-opacity="0.3"/>
<circle cx="293.44" cy="351.77" r="0.50" fill="#2438c8" fill-opacity="0.3"/>
<circle cx="301.72" cy="334.40" r="0.50" fill="#2438c8" fill-opacity="0.3"/>
<circle cx="295.76" cy="342.95" r="0.50" fill="#2438c8" fill-opacity="0.3"/>
<circle cx="293.01" cy="326.42" r="0.50" fill="#2438c8" fill-opacity="0.3"/>
<circle cx="288.09" cy="364.41" r="0.50" fill="#2438c8" fill-opacity="0.3"/>
<circle cx="301.82" cy="342.31" r="0.50" fill="#2438c8" fill-opacity="0.3"/>
<circle cx="300.37" cy="335.53" r="0.50" fill="#2438c8" fill-opacity="0.3"/>
<circle cx="301.24" cy="362.74" r="0.50" fill="#2438c8" fill-opacity="0.3"/>
<circle cx="302.49" cy="343.36" r="0.50" fill="#2438c8" fill-opacity="0.3"/>
<circle cx="306.67" cy="361.59" r="0.50" fill="#2438c8" fill-opacity="0.3"/>
<circle cx="288.26" cy="341.23" r="0.50" fill="#2438c8" fill-opacity="0.3"/>
<circle cx="296.10" cy="335.74" r="0.50" fill="#2438c8" fill-opacity="0.3"/>
<circle cx="299.37" cy="330.52" r="0.50" fill="#2438c8" fill-opacity="0.3"/>
<circle cx="301.97" cy="359.02" r="0.50" fill="#2438c8" fill-opacity="0.3"/>
<circle cx="288.33" cy="352.42" r="0.50" fill="#2438c8" fill-opacity="0.3"/>
<circle cx="292.39" cy="350.27" r="0.50" fill="#2438c8" fill-opacity="0.3"/>
<circle cx="300.86" cy="363.77" r="0.50" fill="#2438c8" fill-opacity="0.3"/>
<circle cx="302.98" cy="338.32" r="0.50" fill="#2438c8" fill-opacity="0.3"/>
<circle cx="301.63" cy="330.66" r="0.50" fill="#2438c8" fill-opacity="0.3"/>
<circle cx="301.30" cy="341.44" r="0.50" fill="#2438c8" fill-opacity="0.3"/>
<circle cx="292.38" cy="334.32" r="0.50" fill="#2438c8" fill-opacity="0.3"/>
<circle cx="291.41" cy="356.58" r="0.50" fill="#2438c8" fill-opacity="0.3"/>
<circle cx="289.01" cy="334.07" r="0.50" fill="#2438c8" fill-opacity="0.3"/>
<circle cx="290.93" cy="331.11" r="0.50" fill="#2438c8" fill-opacity="0.3"/>
<circle cx="301.63" cy="348.23" r="0.50" fill="#2438c8" fill-opacity="0.3"/>
<circle cx="300.33" cy="360.72" r="0.50" fill="#2438c8" fill-opacity="0.3"/>
<circle cx="296.03" cy="326.31" r="0.50" fill="#2438c8" fill-opacity="0.3"/>
<circle cx="290.87" cy="345.41" r="0.50" fill="#2438c8" fill-opacity="0.3"/>
<circle cx="301.33" cy="361.45" r="0.50" fill="#2438c8" fill-opacity="0.3"/>
<circle cx="297.27" cy="333.85" r="0.50" fill="#2438c8" fill-opacity="0.3"/>
<circle cx="298.89" cy="362.10" r="0.50" fill="#2438c8" fill-opacity="0.3"/>
<circle cx="293.73" cy="361.95" r="0.50" fill="#2438c8" fill-opacity="0.3"/>
<circle cx="305.09" cy="347.82" r="0.50" fill="#2438c8" fill-opacity="0.3"/>
<circle cx="296.67" cy="329.94" r="0.50" fill="#2438c8" fill-opacity="0.3"/>
<circle cx="289.30" cy="326.43" r="0.50" fill="#2438c8" fill-opacity="0.3"/>
<circle cx="299.27" cy="353.24" r="0.50" fill="#2438c8" fill-opacity="0.3"/>
<circle cx="306.87" cy="348.84" r="0.50" fill="#2438c8" fill-opacity="0.3"/>
<circle cx="306.88" cy="340.88" r="0.50" fill="#2438c8" fill-opacity="0.3"/>
<circle cx="289.76" cy="327.18" r="0.50" fill="#2438c8" fill-opacity="0.3"/>
<circle cx="292.84" cy="345.98" r="0.50" fill="#2438c8" fill-opacity="0.3"/>
<circle cx="306.73" cy="336.66" r="0.50" fill="#2438c8" fill-opacity="0.3"/>
<circle cx="291.78" cy="353.66" r="0.50" fill="#2438c8" fill-opacity="0.3"/>
<circle cx="294.83" cy="347.08" r="0.50" fill="#2438c8" fill-opacity="0.3"/>
<circle cx="290.11" cy="358.85" r="0.50" fill="#2438c8" fill-opacity="0.3"/>
<circle cx="305.40" cy="354.93" r="0.50" fill="#2438c8" fill-opacity="0.3"/>
<circle cx="305.72" cy="338.07" r="0.50" fill="#2438c8" fill-opacity="0.3"/>
<circle cx="287.75" cy="336.97" r="0.50" fill="#2438c8" fill-opacity="0.3"/>
<circle cx="304.97" cy="343.53" r="0.50" fill="#2438c8" fill-opacity="0.3"/>
<circle cx="291.09" cy="330.83" r="0.50" fill="#2438c8" fill-opacity="0.3"/>
<circle cx="290.37" cy="342.32" r="0.50" fill="#2438c8" fill-opacity="0.3"/>
<circle cx="305.52" cy="360.07" r="0.50" fill="#2438c8" fill-opacity="0.3"/>
<circle cx="302.18" cy="354.97" r="0.50" fill="#2438c8" fill-opacity="0.3"/>
<circle cx="290.90" cy="355.82" r="0.50" fill="#2438c8" fill-opacity="0.3"/>
<circle cx="291.56" cy="345.77" r="0.50" fill="#2438c8" fill-opacity="0.3"/>
<circle cx="287.77" cy="360.41" r="0.50" fill="#2438c8" fill-opacity="0.3"/>
<circle cx="289.66" cy="348.45" r="0.50" fill="#2438c8" fill-opacity="0.3"/>
<circle cx="300.28" cy="350.49" r="0.50" fill="#2438c8" fill-opacity="0.3"/>
<circle cx="300.68" cy="339.54" r="0.50" fill="#2438c8" fill-opacity="0.3"/>
<circle cx="302.87" cy="362.24" r="0.50" fill="#2438c8" fill-opacity="0.3"/>
<circle cx="299.38" cy="363.89" r="0.50" fill="#2438c8" fill-opacity="0.3"/>
<circle cx="304.01" cy="327.02" r="0.50" fill="#2438c8" fill-opacity="0.3"/>
<circle cx="300.47" cy="328.45" r="0.50" fill="#2438c8" fill-opacity="0.3"/>
<circle cx="300.26" cy="339.62" r="0.50" fill="#2438c8" fill-opacity="0.3"/>
<circle cx="304.10" cy="326.58" r="0.50" fill="#2438c8" fill-opacity="0.3"/>
<circle cx="305.94" cy="326.53" r="0.50" fill="#2438c8" fill-opacity="0.3"/>
<circle cx="288.23" cy="324.90" r="0.50" fill="#2438c8" fill-opacity="0.3"/>
<circle cx="289.60" cy="364.15" r="0.50" fill="#2438c8" fill-opacity="0.3"/>
<circle cx="303.72" cy="361.38" r="0.50" fill="#2438c8" fill-opacity="0.3"/>
<circle cx="290.81" cy="352.24" r="0.50" fill="#2438c8" fill-opacity="0.3"/>
<circle cx="302.92" cy="353.80" r="0.50" fill="#2438c8" fill-opacity="0.3"/>
<circle cx="292.47" cy="363.54" r="0.50" fill="#2438c8" fill-opacity="0.3"/>
<circle cx="301.59" cy="352.10" r="0.50" fill="#2438c8" fill-opacity="0.3"/>
<circle cx="292.76" cy="340.65" r="0.50" fill="#2438c8" fill-opacity="0.3"/>
<circle cx="302.18" cy="345.40" r="0.50" fill="#2438c8" fill-opacity="0.3"/>
<circle cx="296.81" cy="361.50" r="0.50" fill="#2438c8" fill-opacity="0.3"/>
<circle cx="295.47" cy="359.07" r="0.50" fill="#2438c8" fill-opacity="0.3"/>
<circle cx="288.03" cy="345.97" r="0.50" fill="#2438c8" fill-opacity="0.3"/>
<circle cx="301.29" cy="325.23" r="0.50" fill="#2438c8" fill-opacity="0.3"/>
<circle cx="300.96" cy="336.21" r="0.50" fill="#2438c8" fill-opacity="0.3"/>
<circle cx="299.55" cy="349.67" r="0.50" fill="#2438c8" fill-opacity="0.3"/>
<circle cx="289.81" cy="362.46" r="0.50" fill="#2438c8" fill-opacity="0.3"/>
<circle cx="291.93" cy="330.24" r="0.50" fill="#2438c8" fill-opacity="0.3"/>
<circle cx="295.91" cy="327.35" r="0.50" fill="#2438c8" fill-opacity="0.3"/>
<circle cx="289.12" cy="355.18" r="0.50" fill="#2438c8" fill-opacity="0.3"/>
<circle cx="289.04" cy="346.40" r="0.50" fill="#2438c8" fill-opacity="0.3"/>
<circle cx="304.72" cy="342.91" r="0.50" fill="#2438c8" fill-opacity="0.3"/>
<circle cx="303.31" cy="357.93" r="0.50" fill="#2438c8" fill-opacity="0.3"/>
<circle cx="290.37" cy="327.85" r="0.50" fill="#2438c8" fill-opacity="0.3"/>
<circle cx="302.71" cy="359.37" r="0.50" fill="#2438c8" fill-opacity="0.3"/>
<circle cx="304.07" cy="353.30" r="0.50" fill="#2438c8" fill-opacity="0.3"/>
<circle cx="297.25" cy="363.02" r="0.50" fill="#2438c8" fill-opacity="0.3"/>
<circle cx="301.82" cy="355.24" r="0.50" fill="#2438c8" fill-opacity="0.3"/>
<circle cx="305.24" cy="326.97" r="0.50" fill="#2438c8" fill-opacity="0.3"/>
<circle cx="301.85" cy="348.11" r="0.50" fill="#2438c8" fill-opacity="0.3"/>
<circle cx="301.16" cy="358.55" r="0.50" fill="#ffffff" fill-opacity="0.35"/>
<circle cx="306.02" cy="350.05" r="0.50" fill="#ffffff" fill-opacity="0.35"/>
<circle cx="291.17" cy="363.64" r="0.50" fill="#ffffff" fill-opacity="0.35"/>
<circle cx="305.37" cy="347.70" r="0.50" fill="#ffffff" fill-opacity="0.35"/>
<circle cx="296.28" cy="347.64" r="0.50" fill="#ffffff" fill-opacity="0.35"/>
<circle cx="296.21" cy="356.99" r="0.50" fill="#ffffff" fill-opacity="0.35"/>
<circle cx="301.56" cy="351.45" r="0.50" fill="#ffffff" fill-opacity="0.35"/>
<circle cx="298.64" cy="347.09" r="0.50" fill="#ffffff" fill-opacity="0.35"/>
<circle cx="289.75" cy="336.95" r="0.50" fill="#ffffff" fill-opacity="0.35"/>
<circle cx="290.60" cy="359.46" r="0.50" fill="#ffffff" fill-opacity="0.35"/>
<circle cx="290.67" cy="341.51" r="0.50" fill="#ffffff" fill-opacity="0.35"/>
<circle cx="293.84" cy="342.52" r="0.50" fill="#ffffff" fill-opacity="0.35"/>
<circle cx="292.82" cy="354.25" r="0.50" fill="#ffffff" fill-opacity="0.35"/>
<circle cx="290.49" cy="353.36" r="0.50" fill="#ffffff" fill-opacity="0.35"/>
<circle cx="306.86" cy="351.48" r="0.50" fill="#ffffff" fill-opacity="0.35"/>
<circle cx="291.47" cy="328.93" r="0.50" fill="#ffffff" fill-opacity="0.35"/>
<circle cx="302.53" cy="344.86" r="0.50" fill="#ffffff" fill-opacity="0.35"/>
<circle cx="297.34" cy="340.60" r="0.50" fill="#ffffff" fill-opacity="0.35"/>
<circle cx="300.44" cy="354.95" r="0.50" fill="#ffffff" fill-opacity="0.35"/>
<circle cx="296.90" cy="332.48" r="0.50" fill="#ffffff" fill-opacity="0.35"/>
<circle cx="302.17" cy="363.51" r="0.50" fill="#ffffff" fill-opacity="0.35"/>
<circle cx="306.51" cy="333.88" r="0.50" fill="#ffffff" fill-opacity="0.35"/>
<circle cx="289.27" cy="363.70" r="0.50" fill="#ffffff" fill-opacity="0.35"/>
<circle cx="303.73" cy="349.73" r="0.50" fill="#ffffff" fill-opacity="0.35"/>
<circle cx="298.21" cy="336.95" r="0.50" fill="#ffffff" fill-opacity="0.35"/>
<circle cx="299.93" cy="343.61" r="0.50" fill="#ffffff" fill-opacity="0.35"/>
<circle cx="301.19" cy="333.31" r="0.50" fill="#ffffff" fill-opacity="0.35"/>
<circle cx="303.10" cy="345.69" r="0.50" fill="#ffffff" fill-opacity="0.35"/>
<circle cx="302.19" cy="326.12" r="0.50" fill="#ffffff" fill-opacity="0.35"/>
<circle cx="302.27" cy="352.25" r="0.50" fill="#ffffff" fill-opacity="0.35"/>
<circle cx="288.42" cy="342.28" r="0.50" fill="#ffffff" fill-opacity="0.35"/>
<circle cx="298.67" cy="337.11" r="0.50" fill="#ffffff" fill-opacity="0.35"/>
<circle cx="289.30" cy="346.63" r="0.50" fill="#ffffff" fill-opacity="0.35"/>
<circle cx="299.14" cy="349.08" r="0.50" fill="#ffffff" fill-opacity="0.35"/>
<circle cx="299.43" cy="329.24" r="0.50" fill="#ffffff" fill-opacity="0.35"/>
<circle cx="306.01" cy="344.25" r="0.50" fill="#ffffff" fill-opacity="0.35"/>
<circle cx="300.27" cy="338.25" r="0.50" fill="#ffffff" fill-opacity="0.35"/>
<circle cx="295.91" cy="326.60" r="0.50" fill="#ffffff" fill-opacity="0.35"/>
<circle cx="293.02" cy="352.92" r="0.50" fill="#ffffff" fill-opacity="0.35"/>
<circle cx="298.31" cy="328.25" r="0.50" fill="#ffffff" fill-opacity="0.35"/>
<circle cx="301.53" cy="346.15" r="0.50" fill="#ffffff" fill-opacity="0.35"/>
<circle cx="300.44" cy="342.87" r="0.50" fill="#ffffff" fill-opacity="0.35"/>
<circle cx="287.60" cy="361.23" r="0.50" fill="#ffffff" fill-opacity="0.35"/>
<circle cx="306.15" cy="360.43" r="0.50" fill="#ffffff" fill-opacity="0.35"/>
<circle cx="302.00" cy="339.77" r="0.50" fill="#ffffff" fill-opacity="0.35"/>
<circle cx="291.34" cy="348.25" r="0.50" fill="#ffffff" fill-opacity="0.35"/>
<circle cx="297.01" cy="334.62" r="0.50" fill="#ffffff" fill-opacity="0.35"/>
<circle cx="300.03" cy="354.36" r="0.50" fill="#ffffff" fill-opacity="0.35"/>
<circle cx="291.38" cy="327.65" r="0.50" fill="#ffffff" fill-opacity="0.35"/>
<circle cx="306.58" cy="355.91" r="0.50" fill="#ffffff" fill-opacity="0.35"/>
<circle cx="288.61" cy="325.32" r="0.50" fill="#ffffff" fill-opacity="0.35"/>
<circle cx="295.82" cy="359.08" r="0.50" fill="#ffffff" fill-opacity="0.35"/>
<circle cx="301.26" cy="332.25" r="0.50" fill="#ffffff" fill-opacity="0.35"/>
<circle cx="294.47" cy="333.61" r="0.50" fill="#ffffff" fill-opacity="0.35"/>
<circle cx="297.41" cy="351.99" r="0.50" fill="#ffffff" fill-opacity="0.35"/>
<circle cx="288.40" cy="350.57" r="0.50" fill="#ffffff" fill-opacity="0.35"/>
<circle cx="303.32" cy="346.11" r="0.50" fill="#ffffff" fill-opacity="0.35"/>
<circle cx="299.74" cy="334.77" r="0.50" fill="#ffffff" fill-opacity="0.35"/>
<circle cx="294.14" cy="353.12" r="0.50" fill="#ffffff" fill-opacity="0.35"/>
<circle cx="305.82" cy="338.80" r="0.50" fill="#ffffff" fill-opacity="0.35"/>
<circle cx="290.84" cy="330.43" r="0.50" fill="#ffffff" fill-opacity="0.35"/>
<circle cx="306.83" cy="334.76" r="0.50" fill="#ffffff" fill-opacity="0.35"/>
<circle cx="302.73" cy="362.13" r="0.50" fill="#ffffff" fill-opacity="0.35"/>
<circle cx="303.95" cy="360.53" r="0.50" fill="#ffffff" fill-opacity="0.35"/>
<circle cx="295.85" cy="335.16" r="0.50" fill="#ffffff" fill-opacity="0.35"/>
<circle cx="303.59" cy="363.97" r="0.50" fill="#ffffff" fill-opacity="0.35"/>
<circle cx="296.36" cy="360.78" r="0.50" fill="#ffffff" fill-opacity="0.35"/>
<circle cx="288.25" cy="361.21" r="0.50" fill="#ffffff" fill-opacity="0.35"/>
<circle cx="288.62" cy="333.92" r="0.50" fill="#ffffff" fill-opacity="0.35"/>
<circle cx="295.27" cy="337.78" r="0.50" fill="#ffffff" fill-opacity="0.35"/>
<circle cx="304.07" cy="341.42" r="0.50" fill="#ffffff" fill-opacity="0.35"/>
<circle cx="302.92" cy="342.61" r="0.50" fill="#ffffff" fill-opacity="0.35"/>
<circle cx="295.46" cy="339.46" r="0.50" fill="#ffffff" fill-opacity="0.35"/>
<circle cx="293.94" cy="339.96" r="0.50" fill="#ffffff" fill-opacity="0.35"/>
<circle cx="295.44" cy="332.16" r="0.50" fill="#ffffff" fill-opacity="0.35"/>
<circle cx="289.82" cy="363.43" r="0.50" fill="#ffffff" fill-opacity="0.35"/>
<circle cx="292.24" cy="362.61" r="0.50" fill="#ffffff" fill-opacity="0.35"/>
<circle cx="289.69" cy="337.21" r="0.50" fill="#ffffff" fill-opacity="0.35"/>
<circle cx="291.33" cy="349.53" r="0.50" fill="#ffffff" fill-opacity="0.35"/>
<circle cx="300.14" cy="335.93" r="0.50" fill="#ffffff" fill-opacity="0.35"/>
<circle cx="306.45" cy="349.94" r="0.50" fill="#ffffff" fill-opacity="0.35"/>
<circle cx="300.15" cy="332.69" r="0.50" fill="#ffffff" fill-opacity="0.35"/>
<circle cx="291.66" cy="348.77" r="0.50" fill="#ffffff" fill-opacity="0.35"/>
<circle cx="305.30" cy="338.68" r="0.50" fill="#ffffff" fill-opacity="0.35"/>
<circle cx="292.61" cy="359.03" r="0.50" fill="#ffffff" fill-opacity="0.35"/>
<circle cx="304.63" cy="357.29" r="0.50" fill="#ffffff" fill-opacity="0.35"/>
<circle cx="302.76" cy="334.12" r="0.50" fill="#ffffff" fill-opacity="0.35"/>
<circle cx="299.06" cy="346.92" r="0.50" fill="#ffffff" fill-opacity="0.35"/>
<circle cx="301.56" cy="348.78" r="0.50" fill="#ffffff" fill-opacity="0.35"/>
<circle cx="293.31" cy="346.73" r="0.50" fill="#ffffff" fill-opacity="0.35"/>
<rect x="307.50" y="324.30" width="20.10" height="24.90" fill="#eceffc"/>
<rect x="307.50" y="349.20" width="20.10" height="16.00" fill="#dfe4f9"/>
<circle cx="320.36" cy="339.18" r="0.50" fill="#5064e0" fill-opacity="0.3"/>
<circle cx="320.39" cy="337.11" r="0.50" fill="#5064e0" fill-opacity="0.3"/>
<circle cx="315.66" cy="327.77" r="0.50" fill="#5064e0" fill-opacity="0.3"/>
<circle cx="312.96" cy="334.90" r="0.50" fill="#5064e0" fill-opacity="0.3"/>
<circle cx="309.26" cy="334.22" r="0.50" fill="#5064e0" fill-opacity="0.3"/>
<circle cx="311.43" cy="336.07" r="0.50" fill="#5064e0" fill-opacity="0.3"/>
<circle cx="314.19" cy="333.35" r="0.50" fill="#5064e0" fill-opacity="0.3"/>
<circle cx="314.14" cy="341.23" r="0.50" fill="#5064e0" fill-opacity="0.3"/>
<circle cx="315.10" cy="340.77" r="0.50" fill="#5064e0" fill-opacity="0.3"/>
<circle cx="315.68" cy="328.12" r="0.50" fill="#5064e0" fill-opacity="0.3"/>
<circle cx="323.21" cy="338.49" r="0.50" fill="#5064e0" fill-opacity="0.3"/>
<circle cx="323.10" cy="341.06" r="0.50" fill="#5064e0" fill-opacity="0.3"/>
<circle cx="309.27" cy="341.10" r="0.50" fill="#5064e0" fill-opacity="0.3"/>
<circle cx="316.26" cy="326.61" r="0.50" fill="#5064e0" fill-opacity="0.3"/>
<circle cx="313.45" cy="332.44" r="0.50" fill="#5064e0" fill-opacity="0.3"/>
<circle cx="322.08" cy="341.44" r="0.50" fill="#5064e0" fill-opacity="0.3"/>
<circle cx="318.35" cy="334.38" r="0.50" fill="#5064e0" fill-opacity="0.3"/>
<circle cx="321.68" cy="337.52" r="0.50" fill="#5064e0" fill-opacity="0.3"/>
<circle cx="323.55" cy="324.81" r="0.50" fill="#5064e0" fill-opacity="0.3"/>
<circle cx="310.93" cy="336.83" r="0.50" fill="#5064e0" fill-opacity="0.3"/>
<circle cx="311.09" cy="334.14" r="0.50" fill="#5064e0" fill-opacity="0.3"/>
<circle cx="313.69" cy="331.81" r="0.50" fill="#5064e0" fill-opacity="0.3"/>
<circle cx="318.35" cy="344.46" r="0.50" fill="#5064e0" fill-opacity="0.3"/>
<circle cx="316.43" cy="330.10" r="0.50" fill="#5064e0" fill-opacity="0.3"/>
<circle cx="308.99" cy="332.70" r="0.50" fill="#5064e0" fill-opacity="0.3"/>
<circle cx="314.85" cy="336.90" r="0.50" fill="#5064e0" fill-opacity="0.3"/>
<circle cx="317.09" cy="336.53" r="0.50" fill="#5064e0" fill-opacity="0.3"/>
<circle cx="314.55" cy="330.11" r="0.50" fill="#5064e0" fill-opacity="0.3"/>
<circle cx="319.72" cy="337.07" r="0.50" fill="#5064e0" fill-opacity="0.3"/>
<circle cx="308.83" cy="337.28" r="0.50" fill="#5064e0" fill-opacity="0.3"/>
<circle cx="319.36" cy="332.92" r="0.50" fill="#5064e0" fill-opacity="0.3"/>
<circle cx="316.95" cy="331.00" r="0.50" fill="#5064e0" fill-opacity="0.3"/>
<circle cx="321.32" cy="346.41" r="0.50" fill="#5064e0" fill-opacity="0.3"/>
<circle cx="319.62" cy="340.53" r="0.50" fill="#5064e0" fill-opacity="0.3"/>
<circle cx="320.32" cy="332.79" r="0.50" fill="#5064e0" fill-opacity="0.3"/>
<circle cx="316.08" cy="337.07" r="0.50" fill="#5064e0" fill-opacity="0.3"/>
<circle cx="320.84" cy="335.77" r="0.50" fill="#5064e0" fill-opacity="0.3"/>
<circle cx="312.40" cy="345.59" r="0.50" fill="#5064e0" fill-opacity="0.3"/>
<circle cx="323.23" cy="339.47" r="0.50" fill="#5064e0" fill-opacity="0.3"/>
<circle cx="317.69" cy="340.17" r="0.50" fill="#5064e0" fill-opacity="0.3"/>
<circle cx="315.68" cy="332.58" r="0.50" fill="#5064e0" fill-opacity="0.3"/>
<circle cx="324.40" cy="336.38" r="0.50" fill="#5064e0" fill-opacity="0.3"/>
<circle cx="308.54" cy="331.94" r="0.50" fill="#5064e0" fill-opacity="0.3"/>
<circle cx="309.78" cy="335.38" r="0.50" fill="#5064e0" fill-opacity="0.3"/>
<circle cx="318.31" cy="341.83" r="0.50" fill="#5064e0" fill-opacity="0.3"/>
<circle cx="312.20" cy="333.00" r="0.50" fill="#5064e0" fill-opacity="0.3"/>
<circle cx="318.12" cy="328.16" r="0.50" fill="#5064e0" fill-opacity="0.3"/>
<circle cx="318.10" cy="337.49" r="0.50" fill="#5064e0" fill-opacity="0.3"/>
<circle cx="319.75" cy="330.91" r="0.50" fill="#5064e0" fill-opacity="0.3"/>
<circle cx="320.43" cy="342.48" r="0.50" fill="#5064e0" fill-opacity="0.3"/>
<circle cx="313.94" cy="331.38" r="0.50" fill="#5064e0" fill-opacity="0.3"/>
<circle cx="318.19" cy="339.01" r="0.50" fill="#5064e0" fill-opacity="0.3"/>
<circle cx="312.94" cy="328.49" r="0.50" fill="#5064e0" fill-opacity="0.3"/>
<circle cx="313.05" cy="336.53" r="0.50" fill="#5064e0" fill-opacity="0.3"/>
<circle cx="321.08" cy="341.10" r="0.50" fill="#5064e0" fill-opacity="0.3"/>
<circle cx="319.41" cy="340.14" r="0.50" fill="#5064e0" fill-opacity="0.3"/>
<circle cx="319.74" cy="337.71" r="0.50" fill="#5064e0" fill-opacity="0.3"/>
<circle cx="320.54" cy="337.44" r="0.50" fill="#5064e0" fill-opacity="0.3"/>
<circle cx="313.43" cy="340.69" r="0.50" fill="#5064e0" fill-opacity="0.3"/>
<circle cx="315.30" cy="337.13" r="0.50" fill="#5064e0" fill-opacity="0.3"/>
<circle cx="317.27" cy="341.36" r="0.50" fill="#5064e0" fill-opacity="0.3"/>
<circle cx="318.63" cy="333.03" r="0.50" fill="#5064e0" fill-opacity="0.3"/>
<circle cx="311.74" cy="327.52" r="0.50" fill="#5064e0" fill-opacity="0.3"/>
<circle cx="313.29" cy="331.00" r="0.50" fill="#5064e0" fill-opacity="0.3"/>
<circle cx="312.62" cy="343.73" r="0.50" fill="#5064e0" fill-opacity="0.3"/>
<circle cx="312.24" cy="340.96" r="0.50" fill="#5064e0" fill-opacity="0.3"/>
<circle cx="314.06" cy="338.48" r="0.50" fill="#5064e0" fill-opacity="0.3"/>
<circle cx="310.70" cy="333.31" r="0.50" fill="#5064e0" fill-opacity="0.3"/>
<circle cx="320.57" cy="339.03" r="0.50" fill="#5064e0" fill-opacity="0.3"/>
<circle cx="322.00" cy="339.78" r="0.50" fill="#5064e0" fill-opacity="0.3"/>
<circle cx="320.05" cy="343.36" r="0.50" fill="#5064e0" fill-opacity="0.3"/>
<circle cx="316.65" cy="332.68" r="0.50" fill="#5064e0" fill-opacity="0.3"/>
<circle cx="308.85" cy="357.19" r="0.50" fill="#5064e0" fill-opacity="0.3"/>
<circle cx="316.28" cy="362.92" r="0.50" fill="#5064e0" fill-opacity="0.3"/>
<circle cx="320.89" cy="359.45" r="0.50" fill="#5064e0" fill-opacity="0.3"/>
<circle cx="318.39" cy="354.14" r="0.50" fill="#5064e0" fill-opacity="0.3"/>
<circle cx="320.53" cy="363.57" r="0.50" fill="#5064e0" fill-opacity="0.3"/>
<circle cx="317.36" cy="363.43" r="0.50" fill="#5064e0" fill-opacity="0.3"/>
<circle cx="315.64" cy="356.25" r="0.50" fill="#5064e0" fill-opacity="0.3"/>
<circle cx="325.96" cy="354.36" r="0.50" fill="#5064e0" fill-opacity="0.3"/>
<circle cx="314.42" cy="356.50" r="0.50" fill="#5064e0" fill-opacity="0.3"/>
<circle cx="317.46" cy="353.76" r="0.50" fill="#5064e0" fill-opacity="0.3"/>
<circle cx="318.74" cy="358.05" r="0.50" fill="#5064e0" fill-opacity="0.3"/>
<circle cx="321.12" cy="359.28" r="0.50" fill="#5064e0" fill-opacity="0.3"/>
<circle cx="313.37" cy="358.27" r="0.50" fill="#5064e0" fill-opacity="0.3"/>
<circle cx="324.89" cy="357.15" r="0.50" fill="#5064e0" fill-opacity="0.3"/>
<circle cx="315.54" cy="351.81" r="0.50" fill="#5064e0" fill-opacity="0.3"/>
<circle cx="311.13" cy="355.57" r="0.50" fill="#5064e0" fill-opacity="0.3"/>
<circle cx="319.74" cy="355.04" r="0.50" fill="#5064e0" fill-opacity="0.3"/>
<circle cx="320.34" cy="361.15" r="0.50" fill="#5064e0" fill-opacity="0.3"/>
<circle cx="312.28" cy="359.03" r="0.50" fill="#5064e0" fill-opacity="0.3"/>
<circle cx="312.72" cy="357.44" r="0.50" fill="#5064e0" fill-opacity="0.3"/>
<circle cx="312.07" cy="355.36" r="0.50" fill="#5064e0" fill-opacity="0.3"/>
<circle cx="312.43" cy="363.74" r="0.50" fill="#5064e0" fill-opacity="0.3"/>
<circle cx="323.34" cy="355.09" r="0.50" fill="#5064e0" fill-opacity="0.3"/>
<circle cx="309.22" cy="354.13" r="0.50" fill="#5064e0" fill-opacity="0.3"/>
<circle cx="313.93" cy="359.12" r="0.50" fill="#5064e0" fill-opacity="0.3"/>
<circle cx="312.21" cy="359.72" r="0.50" fill="#5064e0" fill-opacity="0.3"/>
<circle cx="317.11" cy="358.79" r="0.50" fill="#5064e0" fill-opacity="0.3"/>
<circle cx="314.03" cy="354.18" r="0.50" fill="#5064e0" fill-opacity="0.3"/>
<circle cx="321.23" cy="352.64" r="0.50" fill="#5064e0" fill-opacity="0.3"/>
<circle cx="320.30" cy="351.98" r="0.50" fill="#5064e0" fill-opacity="0.3"/>
<circle cx="325.63" cy="359.62" r="0.50" fill="#5064e0" fill-opacity="0.3"/>
<circle cx="321.61" cy="357.71" r="0.50" fill="#5064e0" fill-opacity="0.3"/>
<circle cx="319.48" cy="352.70" r="0.50" fill="#5064e0" fill-opacity="0.3"/>
<circle cx="321.52" cy="354.41" r="0.50" fill="#5064e0" fill-opacity="0.3"/>
<circle cx="316.37" cy="353.02" r="0.50" fill="#5064e0" fill-opacity="0.3"/>
<circle cx="310.84" cy="361.78" r="0.50" fill="#5064e0" fill-opacity="0.3"/>
<circle cx="309.94" cy="357.46" r="0.50" fill="#5064e0" fill-opacity="0.3"/>
<circle cx="317.00" cy="353.12" r="0.50" fill="#5064e0" fill-opacity="0.3"/>
<circle cx="322.23" cy="355.28" r="0.50" fill="#5064e0" fill-opacity="0.3"/>
<circle cx="309.68" cy="356.17" r="0.50" fill="#5064e0" fill-opacity="0.3"/>
<circle cx="310.02" cy="353.99" r="0.50" fill="#5064e0" fill-opacity="0.3"/>
<circle cx="319.77" cy="357.66" r="0.50" fill="#5064e0" fill-opacity="0.3"/>
<circle cx="313.31" cy="362.31" r="0.50" fill="#5064e0" fill-opacity="0.3"/>
<circle cx="309.50" cy="358.08" r="0.50" fill="#5064e0" fill-opacity="0.3"/>
<circle cx="309.67" cy="362.86" r="0.50" fill="#5064e0" fill-opacity="0.3"/>
<circle cx="313.09" cy="359.02" r="0.50" fill="#5064e0" fill-opacity="0.3"/>
<circle cx="318.50" cy="363.76" r="0.50" fill="#5064e0" fill-opacity="0.3"/>
<circle cx="313.30" cy="360.31" r="0.50" fill="#5064e0" fill-opacity="0.3"/>
<circle cx="316.63" cy="357.84" r="0.50" fill="#5064e0" fill-opacity="0.3"/>
<circle cx="316.89" cy="356.74" r="0.50" fill="#5064e0" fill-opacity="0.3"/>
<circle cx="315.50" cy="359.92" r="0.50" fill="#5064e0" fill-opacity="0.3"/>
<circle cx="308.72" cy="357.59" r="0.50" fill="#5064e0" fill-opacity="0.3"/>
<circle cx="319.02" cy="360.91" r="0.50" fill="#5064e0" fill-opacity="0.3"/>
<circle cx="319.02" cy="362.75" r="0.50" fill="#5064e0" fill-opacity="0.3"/>
<circle cx="323.15" cy="354.13" r="0.50" fill="#5064e0" fill-opacity="0.3"/>
<circle cx="321.26" cy="357.42" r="0.50" fill="#5064e0" fill-opacity="0.3"/>
<circle cx="312.02" cy="352.60" r="0.50" fill="#5064e0" fill-opacity="0.3"/>
<circle cx="312.83" cy="355.65" r="0.50" fill="#5064e0" fill-opacity="0.3"/>
<circle cx="320.78" cy="359.97" r="0.50" fill="#5064e0" fill-opacity="0.3"/>
<circle cx="315.10" cy="356.15" r="0.50" fill="#5064e0" fill-opacity="0.3"/>
<circle cx="316.74" cy="353.70" r="0.50" fill="#5064e0" fill-opacity="0.3"/>
<circle cx="311.90" cy="361.63" r="0.50" fill="#5064e0" fill-opacity="0.3"/>
<circle cx="312.49" cy="355.48" r="0.50" fill="#5064e0" fill-opacity="0.3"/>
<circle cx="309.08" cy="350.73" r="0.50" fill="#5064e0" fill-opacity="0.3"/>
<circle cx="319.71" cy="349.91" r="0.50" fill="#5064e0" fill-opacity="0.3"/>
<circle cx="322.38" cy="357.45" r="0.50" fill="#5064e0" fill-opacity="0.3"/>
<circle cx="318.37" cy="360.74" r="0.50" fill="#5064e0" fill-opacity="0.3"/>
<circle cx="317.44" cy="359.41" r="0.50" fill="#5064e0" fill-opacity="0.3"/>
<circle cx="308.96" cy="362.04" r="0.50" fill="#5064e0" fill-opacity="0.3"/>
<circle cx="311.76" cy="356.80" r="0.50" fill="#5064e0" fill-opacity="0.3"/>
<circle cx="324.23" cy="361.40" r="0.50" fill="#5064e0" fill-opacity="0.3"/>
<circle cx="314.60" cy="358.74" r="0.50" fill="#5064e0" fill-opacity="0.3"/>
<circle cx="323.22" cy="352.31" r="0.50" fill="#5064e0" fill-opacity="0.3"/>
<circle cx="320.74" cy="356.73" r="0.50" fill="#5064e0" fill-opacity="0.3"/>
<circle cx="318.23" cy="355.08" r="0.50" fill="#5064e0" fill-opacity="0.3"/>
<circle cx="321.36" cy="352.70" r="0.50" fill="#5064e0" fill-opacity="0.3"/>
<circle cx="314.86" cy="359.31" r="0.50" fill="#5064e0" fill-opacity="0.3"/>
<circle cx="317.17" cy="360.73" r="0.50" fill="#5064e0" fill-opacity="0.3"/>
<circle cx="318.35" cy="357.78" r="0.50" fill="#5064e0" fill-opacity="0.3"/>
<circle cx="319.83" cy="350.49" r="0.50" fill="#5064e0" fill-opacity="0.3"/>
<circle cx="315.15" cy="352.94" r="0.50" fill="#5064e0" fill-opacity="0.3"/>
<circle cx="311.78" cy="356.45" r="0.50" fill="#5064e0" fill-opacity="0.3"/>
<circle cx="324.66" cy="359.29" r="0.50" fill="#5064e0" fill-opacity="0.3"/>
<circle cx="320.32" cy="362.86" r="0.50" fill="#5064e0" fill-opacity="0.3"/>
<circle cx="317.06" cy="356.26" r="0.50" fill="#5064e0" fill-opacity="0.3"/>
<circle cx="314.49" cy="358.98" r="0.50" fill="#5064e0" fill-opacity="0.3"/>
<circle cx="310.73" cy="352.25" r="0.50" fill="#5064e0" fill-opacity="0.3"/>
<circle cx="309.38" cy="360.83" r="0.50" fill="#5064e0" fill-opacity="0.3"/>
<circle cx="311.39" cy="356.93" r="0.50" fill="#5064e0" fill-opacity="0.3"/>
<circle cx="315.85" cy="359.85" r="0.50" fill="#5064e0" fill-opacity="0.3"/>
<circle cx="313.11" cy="361.43" r="0.50" fill="#5064e0" fill-opacity="0.3"/>
<circle cx="312.74" cy="355.64" r="0.50" fill="#5064e0" fill-opacity="0.3"/>
<circle cx="313.01" cy="363.16" r="0.50" fill="#5064e0" fill-opacity="0.3"/>
<circle cx="313.27" cy="356.12" r="0.50" fill="#5064e0" fill-opacity="0.3"/>
<circle cx="318.38" cy="355.02" r="0.50" fill="#5064e0" fill-opacity="0.3"/>
<circle cx="320.10" cy="361.38" r="0.50" fill="#5064e0" fill-opacity="0.3"/>
<circle cx="316.11" cy="356.08" r="0.50" fill="#5064e0" fill-opacity="0.3"/>
<circle cx="312.77" cy="362.49" r="0.50" fill="#5064e0" fill-opacity="0.3"/>
<circle cx="314.55" cy="358.05" r="0.50" fill="#5064e0" fill-opacity="0.3"/>
<circle cx="322.75" cy="353.35" r="0.50" fill="#5064e0" fill-opacity="0.3"/>
<circle cx="315.73" cy="358.66" r="0.50" fill="#5064e0" fill-opacity="0.3"/>
<circle cx="314.50" cy="362.28" r="0.50" fill="#5064e0" fill-opacity="0.3"/>
<circle cx="323.42" cy="357.37" r="0.50" fill="#5064e0" fill-opacity="0.3"/>
<circle cx="316.73" cy="354.99" r="0.50" fill="#5064e0" fill-opacity="0.3"/>
<circle cx="320.57" cy="354.02" r="0.50" fill="#5064e0" fill-opacity="0.3"/>
<circle cx="318.81" cy="349.88" r="0.50" fill="#5064e0" fill-opacity="0.3"/>
<circle cx="309.92" cy="352.01" r="0.50" fill="#5064e0" fill-opacity="0.3"/>
<circle cx="316.89" cy="357.99" r="0.50" fill="#5064e0" fill-opacity="0.3"/>
<circle cx="322.13" cy="353.38" r="0.50" fill="#5064e0" fill-opacity="0.3"/>
<circle cx="308.63" cy="352.97" r="0.50" fill="#5064e0" fill-opacity="0.3"/>
<circle cx="319.22" cy="363.51" r="0.50" fill="#5064e0" fill-opacity="0.3"/>
<circle cx="326.61" cy="353.00" r="0.50" fill="#5064e0" fill-opacity="0.3"/>
<circle cx="313.00" cy="358.85" r="0.50" fill="#5064e0" fill-opacity="0.3"/>
<circle cx="312.21" cy="355.96" r="0.50" fill="#5064e0" fill-opacity="0.3"/>
<rect x="286.60" y="324.30" width="41.00" height="40.90" fill="none" stroke="#151515" stroke-width="1.5"/>
<line x1="307.50" y1="324.30" x2="307.50" y2="365.20" stroke="#151515" stroke-width="1.4"/>
<line x1="286.60" y1="349.20" x2="327.60" y2="349.20" stroke="#151515" stroke-width="1.4"/>
<text x="293.40" y="331.20" font-size="5.4" text-anchor="middle" font-weight="bold" fill="#151515">32</text>
<text x="325.20" y="331.20" font-size="5.4" text-anchor="end" font-weight="bold" fill="#151515">4</text>
<text x="293.40" y="361.40" font-size="5.4" text-anchor="middle" font-weight="bold" fill="#151515">65</text>
<text x="325.20" y="361.40" font-size="5.4" text-anchor="end" font-weight="bold" fill="#151515">4</text>
<text x="301.50" y="372.00" font-size="5.6" text-anchor="middle" font-weight="normal" fill="#151515">10<tspan font-size="3.92" dy="-2.24">2</tspan><tspan dy="2.24"></tspan></text>
<text x="317.70" y="372.00" font-size="5.6" text-anchor="middle" font-weight="normal" fill="#151515">10<tspan font-size="3.92" dy="-2.24">4</tspan><tspan dy="2.24"></tspan></text>
<text x="350.15" y="320.80" font-size="6.1" text-anchor="middle" font-weight="normal" fill="#151515">IL-13</text>
<rect x="329.60" y="324.30" width="21.00" height="24.90" fill="#c4ccf4"/>
<rect x="329.60" y="349.20" width="21.00" height="16.00" fill="#a8b8f0"/>
<ellipse cx="342.62" cy="337.00" rx="6.50" ry="12.00" fill="url(#it2)"/>
<ellipse cx="342.62" cy="357.00" rx="5.00" ry="8.50" fill="url(#ib2)"/>
<circle cx="333.06" cy="349.38" r="0.50" fill="#2438c8" fill-opacity="0.3"/>
<circle cx="333.49" cy="353.23" r="0.50" fill="#2438c8" fill-opacity="0.3"/>
<circle cx="342.26" cy="340.14" r="0.50" fill="#2438c8" fill-opacity="0.3"/>
<circle cx="342.45" cy="347.39" r="0.50" fill="#2438c8" fill-opacity="0.3"/>
<circle cx="330.96" cy="345.95" r="0.50" fill="#2438c8" fill-opacity="0.3"/>
<circle cx="342.49" cy="345.53" r="0.50" fill="#2438c8" fill-opacity="0.3"/>
<circle cx="347.69" cy="354.14" r="0.50" fill="#2438c8" fill-opacity="0.3"/>
<circle cx="337.64" cy="333.85" r="0.50" fill="#2438c8" fill-opacity="0.3"/>
<circle cx="332.66" cy="357.13" r="0.50" fill="#2438c8" fill-opacity="0.3"/>
<circle cx="343.90" cy="349.11" r="0.50" fill="#2438c8" fill-opacity="0.3"/>
<circle cx="338.93" cy="344.79" r="0.50" fill="#2438c8" fill-opacity="0.3"/>
<circle cx="334.54" cy="345.96" r="0.50" fill="#2438c8" fill-opacity="0.3"/>
<circle cx="333.01" cy="349.58" r="0.50" fill="#2438c8" fill-opacity="0.3"/>
<circle cx="342.70" cy="351.54" r="0.50" fill="#2438c8" fill-opacity="0.3"/>
<circle cx="335.03" cy="328.47" r="0.50" fill="#2438c8" fill-opacity="0.3"/>
<circle cx="336.76" cy="352.24" r="0.50" fill="#2438c8" fill-opacity="0.3"/>
<circle cx="340.30" cy="354.63" r="0.50" fill="#2438c8" fill-opacity="0.3"/>
<circle cx="338.72" cy="340.70" r="0.50" fill="#2438c8" fill-opacity="0.3"/>
<circle cx="348.25" cy="331.46" r="0.50" fill="#2438c8" fill-opacity="0.3"/>
<circle cx="334.25" cy="348.29" r="0.50" fill="#2438c8" fill-opacity="0.3"/>
<circle cx="342.73" cy="342.07" r="0.50" fill="#2438c8" fill-opacity="0.3"/>
<circle cx="341.26" cy="342.38" r="0.50" fill="#2438c8" fill-opacity="0.3"/>
<circle cx="343.47" cy="360.26" r="0.50" fill="#2438c8" fill-opacity="0.3"/>
<circle cx="346.60" cy="350.31" r="0.50" fill="#2438c8" fill-opacity="0.3"/>
<circle cx="339.50" cy="362.61" r="0.50" fill="#2438c8" fill-opacity="0.3"/>
<circle cx="339.04" cy="349.77" r="0.50" fill="#2438c8" fill-opacity="0.3"/>
<circle cx="347.47" cy="352.07" r="0.50" fill="#2438c8" fill-opacity="0.3"/>
<circle cx="337.91" cy="354.45" r="0.50" fill="#2438c8" fill-opacity="0.3"/>
<circle cx="342.11" cy="361.31" r="0.50" fill="#2438c8" fill-opacity="0.3"/>
<circle cx="342.56" cy="346.09" r="0.50" fill="#2438c8" fill-opacity="0.3"/>
<circle cx="349.58" cy="345.85" r="0.50" fill="#2438c8" fill-opacity="0.3"/>
<circle cx="338.07" cy="362.21" r="0.50" fill="#2438c8" fill-opacity="0.3"/>
<circle cx="348.98" cy="331.66" r="0.50" fill="#2438c8" fill-opacity="0.3"/>
<circle cx="331.55" cy="359.04" r="0.50" fill="#2438c8" fill-opacity="0.3"/>
<circle cx="347.75" cy="340.14" r="0.50" fill="#2438c8" fill-opacity="0.3"/>
<circle cx="335.19" cy="352.11" r="0.50" fill="#2438c8" fill-opacity="0.3"/>
<circle cx="348.90" cy="333.30" r="0.50" fill="#2438c8" fill-opacity="0.3"/>
<circle cx="339.06" cy="351.24" r="0.50" fill="#2438c8" fill-opacity="0.3"/>
<circle cx="334.52" cy="341.35" r="0.50" fill="#2438c8" fill-opacity="0.3"/>
<circle cx="332.96" cy="343.94" r="0.50" fill="#2438c8" fill-opacity="0.3"/>
<circle cx="334.70" cy="328.02" r="0.50" fill="#2438c8" fill-opacity="0.3"/>
<circle cx="337.88" cy="330.79" r="0.50" fill="#2438c8" fill-opacity="0.3"/>
<circle cx="332.48" cy="330.81" r="0.50" fill="#2438c8" fill-opacity="0.3"/>
<circle cx="338.45" cy="337.48" r="0.50" fill="#2438c8" fill-opacity="0.3"/>
<circle cx="344.67" cy="341.33" r="0.50" fill="#2438c8" fill-opacity="0.3"/>
<circle cx="334.96" cy="332.30" r="0.50" fill="#2438c8" fill-opacity="0.3"/>
<circle cx="336.04" cy="354.46" r="0.50" fill="#2438c8" fill-opacity="0.3"/>
<circle cx="334.13" cy="343.36" r="0.50" fill="#2438c8" fill-opacity="0.3"/>
<circle cx="346.23" cy="357.91" r="0.50" fill="#2438c8" fill-opacity="0.3"/>
<circle cx="339.35" cy="358.43" r="0.50" fill="#2438c8" fill-opacity="0.3"/>
<circle cx="342.95" cy="333.85" r="0.50" fill="#2438c8" fill-opacity="0.3"/>
<circle cx="331.96" cy="331.58" r="0.50" fill="#2438c8" fill-opacity="0.3"/>
<circle cx="345.90" cy="340.35" r="0.50" fill="#2438c8" fill-opacity="0.3"/>
<circle cx="346.85" cy="363.40" r="0.50" fill="#2438c8" fill-opacity="0.3"/>
<circle cx="348.49" cy="343.52" r="0.50" fill="#2438c8" fill-opacity="0.3"/>
<circle cx="330.25" cy="335.83" r="0.50" fill="#2438c8" fill-opacity="0.3"/>
<circle cx="334.48" cy="350.70" r="0.50" fill="#2438c8" fill-opacity="0.3"/>
<circle cx="344.14" cy="361.57" r="0.50" fill="#2438c8" fill-opacity="0.3"/>
<circle cx="344.20" cy="363.09" r="0.50" fill="#2438c8" fill-opacity="0.3"/>
<circle cx="342.86" cy="343.74" r="0.50" fill="#2438c8" fill-opacity="0.3"/>
<circle cx="346.84" cy="335.73" r="0.50" fill="#2438c8" fill-opacity="0.3"/>
<circle cx="345.67" cy="353.83" r="0.50" fill="#2438c8" fill-opacity="0.3"/>
<circle cx="347.44" cy="327.21" r="0.50" fill="#2438c8" fill-opacity="0.3"/>
<circle cx="333.87" cy="362.70" r="0.50" fill="#2438c8" fill-opacity="0.3"/>
<circle cx="332.94" cy="342.80" r="0.50" fill="#2438c8" fill-opacity="0.3"/>
<circle cx="342.13" cy="344.04" r="0.50" fill="#2438c8" fill-opacity="0.3"/>
<circle cx="347.69" cy="362.92" r="0.50" fill="#2438c8" fill-opacity="0.3"/>
<circle cx="336.93" cy="330.16" r="0.50" fill="#2438c8" fill-opacity="0.3"/>
<circle cx="348.39" cy="342.90" r="0.50" fill="#2438c8" fill-opacity="0.3"/>
<circle cx="335.07" cy="330.32" r="0.50" fill="#2438c8" fill-opacity="0.3"/>
<circle cx="330.28" cy="348.05" r="0.50" fill="#2438c8" fill-opacity="0.3"/>
<circle cx="335.72" cy="347.00" r="0.50" fill="#2438c8" fill-opacity="0.3"/>
<circle cx="348.59" cy="344.13" r="0.50" fill="#2438c8" fill-opacity="0.3"/>
<circle cx="349.17" cy="327.47" r="0.50" fill="#2438c8" fill-opacity="0.3"/>
<circle cx="345.26" cy="354.91" r="0.50" fill="#2438c8" fill-opacity="0.3"/>
<circle cx="349.28" cy="326.04" r="0.50" fill="#2438c8" fill-opacity="0.3"/>
<circle cx="340.23" cy="347.00" r="0.50" fill="#2438c8" fill-opacity="0.3"/>
<circle cx="342.07" cy="343.60" r="0.50" fill="#2438c8" fill-opacity="0.3"/>
<circle cx="335.56" cy="360.82" r="0.50" fill="#2438c8" fill-opacity="0.3"/>
<circle cx="347.66" cy="352.78" r="0.50" fill="#2438c8" fill-opacity="0.3"/>
<circle cx="349.28" cy="346.88" r="0.50" fill="#2438c8" fill-opacity="0.3"/>
<circle cx="331.69" cy="352.49" r="0.50" fill="#2438c8" fill-opacity="0.3"/>
<circle cx="332.20" cy="354.76" r="0.50" fill="#2438c8" fill-opacity="0.3"/>
<circle cx="343.07" cy="333.06" r="0.50" fill="#2438c8" fill-opacity="0.3"/>
<circle cx="333.15" cy="327.49" r="0.50" fill="#2438c8" fill-opacity="0.3"/>
<circle cx="333.64" cy="363.82" r="0.50" fill="#2438c8" fill-opacity="0.3"/>
<circle cx="334.66" cy="360.07" r="0.50" fill="#2438c8" fill-opacity="0.3"/>
<circle cx="332.79" cy="338.31" r="0.50" fill="#2438c8" fill-opacity="0.3"/>
<circle cx="339.55" cy="339.10" r="0.50" fill="#2438c8" fill-opacity="0.3"/>
<circle cx="349.39" cy="334.38" r="0.50" fill="#2438c8" fill-opacity="0.3"/>
<circle cx="339.77" cy="332.99" r="0.50" fill="#2438c8" fill-opacity="0.3"/>
<circle cx="332.28" cy="352.35" r="0.50" fill="#2438c8" fill-opacity="0.3"/>
<circle cx="336.88" cy="344.23" r="0.50" fill="#2438c8" fill-opacity="0.3"/>
<circle cx="343.96" cy="328.34" r="0.50" fill="#2438c8" fill-opacity="0.3"/>
<circle cx="331.19" cy="352.23" r="0.50" fill="#2438c8" fill-opacity="0.3"/>
<circle cx="349.98" cy="325.54" r="0.50" fill="#2438c8" fill-opacity="0.3"/>
<circle cx="339.14" cy="364.49" r="0.50" fill="#2438c8" fill-opacity="0.3"/>
<circle cx="346.76" cy="364.28" r="0.50" fill="#2438c8" fill-opacity="0.3"/>
<circle cx="340.68" cy="363.57" r="0.50" fill="#2438c8" fill-opacity="0.3"/>
<circle cx="331.22" cy="343.63" r="0.50" fill="#2438c8" fill-opacity="0.3"/>
<circle cx="347.06" cy="340.39" r="0.50" fill="#2438c8" fill-opacity="0.3"/>
<circle cx="338.91" cy="342.72" r="0.50" fill="#2438c8" fill-opacity="0.3"/>
<circle cx="337.70" cy="357.24" r="0.50" fill="#2438c8" fill-opacity="0.3"/>
<circle cx="349.56" cy="334.01" r="0.50" fill="#2438c8" fill-opacity="0.3"/>
<circle cx="336.55" cy="356.87" r="0.50" fill="#2438c8" fill-opacity="0.3"/>
<circle cx="344.98" cy="357.29" r="0.50" fill="#2438c8" fill-opacity="0.3"/>
<circle cx="343.74" cy="361.31" r="0.50" fill="#2438c8" fill-opacity="0.3"/>
<circle cx="347.00" cy="350.08" r="0.50" fill="#2438c8" fill-opacity="0.3"/>
<circle cx="335.77" cy="328.20" r="0.50" fill="#2438c8" fill-opacity="0.3"/>
<circle cx="347.30" cy="359.04" r="0.50" fill="#2438c8" fill-opacity="0.3"/>
<circle cx="347.93" cy="335.37" r="0.50" fill="#2438c8" fill-opacity="0.3"/>
<circle cx="344.87" cy="361.93" r="0.50" fill="#2438c8" fill-opacity="0.3"/>
<circle cx="334.24" cy="325.74" r="0.50" fill="#2438c8" fill-opacity="0.3"/>
<circle cx="333.58" cy="333.53" r="0.50" fill="#2438c8" fill-opacity="0.3"/>
<circle cx="343.70" cy="357.57" r="0.50" fill="#2438c8" fill-opacity="0.3"/>
<circle cx="346.48" cy="352.29" r="0.50" fill="#2438c8" fill-opacity="0.3"/>
<circle cx="349.67" cy="363.59" r="0.50" fill="#2438c8" fill-opacity="0.3"/>
<circle cx="338.89" cy="361.57" r="0.50" fill="#2438c8" fill-opacity="0.3"/>
<circle cx="344.48" cy="334.58" r="0.50" fill="#2438c8" fill-opacity="0.3"/>
<circle cx="341.81" cy="331.60" r="0.50" fill="#2438c8" fill-opacity="0.3"/>
<circle cx="338.10" cy="357.24" r="0.50" fill="#2438c8" fill-opacity="0.3"/>
<circle cx="330.30" cy="346.21" r="0.50" fill="#2438c8" fill-opacity="0.3"/>
<circle cx="338.81" cy="336.09" r="0.50" fill="#2438c8" fill-opacity="0.3"/>
<circle cx="331.39" cy="345.68" r="0.50" fill="#2438c8" fill-opacity="0.3"/>
<circle cx="336.77" cy="328.69" r="0.50" fill="#2438c8" fill-opacity="0.3"/>
<circle cx="338.13" cy="351.91" r="0.50" fill="#2438c8" fill-opacity="0.3"/>
<circle cx="331.69" cy="356.13" r="0.50" fill="#2438c8" fill-opacity="0.3"/>
<circle cx="331.77" cy="343.58" r="0.50" fill="#2438c8" fill-opacity="0.3"/>
<circle cx="337.43" cy="359.01" r="0.50" fill="#2438c8" fill-opacity="0.3"/>
<circle cx="347.96" cy="354.22" r="0.50" fill="#2438c8" fill-opacity="0.3"/>
<circle cx="335.98" cy="337.75" r="0.50" fill="#2438c8" fill-opacity="0.3"/>
<circle cx="346.60" cy="345.14" r="0.50" fill="#2438c8" fill-opacity="0.3"/>
<circle cx="342.80" cy="353.68" r="0.50" fill="#2438c8" fill-opacity="0.3"/>
<circle cx="333.93" cy="340.15" r="0.50" fill="#2438c8" fill-opacity="0.3"/>
<circle cx="349.19" cy="338.05" r="0.50" fill="#2438c8" fill-opacity="0.3"/>
<circle cx="347.07" cy="330.97" r="0.50" fill="#2438c8" fill-opacity="0.3"/>
<circle cx="330.38" cy="344.85" r="0.50" fill="#2438c8" fill-opacity="0.3"/>
<circle cx="335.76" cy="348.57" r="0.50" fill="#2438c8" fill-opacity="0.3"/>
<circle cx="345.50" cy="326.35" r="0.50" fill="#2438c8" fill-opacity="0.3"/>
<circle cx="340.09" cy="339.71" r="0.50" fill="#2438c8" fill-opacity="0.3"/>
<circle cx="348.22" cy="358.49" r="0.50" fill="#2438c8" fill-opacity="0.3"/>
<circle cx="347.79" cy="354.39" r="0.50" fill="#2438c8" fill-opacity="0.3"/>
<circle cx="337.04" cy="349.51" r="0.50" fill="#2438c8" fill-opacity="0.3"/>
<circle cx="340.98" cy="339.48" r="0.50" fill="#2438c8" fill-opacity="0.3"/>
<circle cx="335.90" cy="350.69" r="0.50" fill="#2438c8" fill-opacity="0.3"/>
<circle cx="348.03" cy="334.45" r="0.50" fill="#2438c8" fill-opacity="0.3"/>
<circle cx="337.22" cy="331.11" r="0.50" fill="#2438c8" fill-opacity="0.3"/>
<circle cx="337.40" cy="340.30" r="0.50" fill="#2438c8" fill-opacity="0.3"/>
<circle cx="331.97" cy="350.54" r="0.50" fill="#2438c8" fill-opacity="0.3"/>
<circle cx="336.98" cy="356.99" r="0.50" fill="#2438c8" fill-opacity="0.3"/>
<circle cx="334.96" cy="354.09" r="0.50" fill="#2438c8" fill-opacity="0.3"/>
<circle cx="349.69" cy="331.55" r="0.50" fill="#2438c8" fill-opacity="0.3"/>
<circle cx="337.51" cy="363.56" r="0.50" fill="#2438c8" fill-opacity="0.3"/>
<circle cx="338.17" cy="337.91" r="0.50" fill="#2438c8" fill-opacity="0.3"/>
<circle cx="333.17" cy="357.89" r="0.50" fill="#2438c8" fill-opacity="0.3"/>
<circle cx="336.62" cy="359.89" r="0.50" fill="#2438c8" fill-opacity="0.3"/>
<circle cx="341.26" cy="331.98" r="0.50" fill="#2438c8" fill-opacity="0.3"/>
<circle cx="349.95" cy="360.73" r="0.50" fill="#2438c8" fill-opacity="0.3"/>
<circle cx="345.07" cy="348.79" r="0.50" fill="#2438c8" fill-opacity="0.3"/>
<circle cx="345.18" cy="362.61" r="0.50" fill="#2438c8" fill-opacity="0.3"/>
<circle cx="349.65" cy="340.42" r="0.50" fill="#ffffff" fill-opacity="0.35"/>
<circle cx="333.02" cy="363.57" r="0.50" fill="#ffffff" fill-opacity="0.35"/>
<circle cx="346.07" cy="349.72" r="0.50" fill="#ffffff" fill-opacity="0.35"/>
<circle cx="348.17" cy="349.79" r="0.50" fill="#ffffff" fill-opacity="0.35"/>
<circle cx="330.62" cy="355.12" r="0.50" fill="#ffffff" fill-opacity="0.35"/>
<circle cx="342.16" cy="359.20" r="0.50" fill="#ffffff" fill-opacity="0.35"/>
<circle cx="335.02" cy="363.78" r="0.50" fill="#ffffff" fill-opacity="0.35"/>
<circle cx="344.56" cy="336.55" r="0.50" fill="#ffffff" fill-opacity="0.35"/>
<circle cx="341.02" cy="326.10" r="0.50" fill="#ffffff" fill-opacity="0.35"/>
<circle cx="336.17" cy="354.81" r="0.50" fill="#ffffff" fill-opacity="0.35"/>
<circle cx="336.57" cy="337.80" r="0.50" fill="#ffffff" fill-opacity="0.35"/>
<circle cx="348.81" cy="361.27" r="0.50" fill="#ffffff" fill-opacity="0.35"/>
<circle cx="343.70" cy="342.20" r="0.50" fill="#ffffff" fill-opacity="0.35"/>
<circle cx="346.52" cy="362.07" r="0.50" fill="#ffffff" fill-opacity="0.35"/>
<circle cx="331.88" cy="329.71" r="0.50" fill="#ffffff" fill-opacity="0.35"/>
<circle cx="331.42" cy="332.10" r="0.50" fill="#ffffff" fill-opacity="0.35"/>
<circle cx="338.80" cy="338.82" r="0.50" fill="#ffffff" fill-opacity="0.35"/>
<circle cx="333.97" cy="359.07" r="0.50" fill="#ffffff" fill-opacity="0.35"/>
<circle cx="334.53" cy="356.21" r="0.50" fill="#ffffff" fill-opacity="0.35"/>
<circle cx="333.85" cy="354.64" r="0.50" fill="#ffffff" fill-opacity="0.35"/>
<circle cx="339.40" cy="350.66" r="0.50" fill="#ffffff" fill-opacity="0.35"/>
<circle cx="343.69" cy="337.64" r="0.50" fill="#ffffff" fill-opacity="0.35"/>
<circle cx="343.04" cy="337.52" r="0.50" fill="#ffffff" fill-opacity="0.35"/>
<circle cx="349.05" cy="333.97" r="0.50" fill="#ffffff" fill-opacity="0.35"/>
<circle cx="349.64" cy="339.38" r="0.50" fill="#ffffff" fill-opacity="0.35"/>
<circle cx="346.02" cy="326.94" r="0.50" fill="#ffffff" fill-opacity="0.35"/>
<circle cx="335.45" cy="338.70" r="0.50" fill="#ffffff" fill-opacity="0.35"/>
<circle cx="348.52" cy="357.27" r="0.50" fill="#ffffff" fill-opacity="0.35"/>
<circle cx="341.46" cy="362.80" r="0.50" fill="#ffffff" fill-opacity="0.35"/>
<circle cx="348.89" cy="336.34" r="0.50" fill="#ffffff" fill-opacity="0.35"/>
<circle cx="336.34" cy="329.04" r="0.50" fill="#ffffff" fill-opacity="0.35"/>
<circle cx="342.15" cy="327.61" r="0.50" fill="#ffffff" fill-opacity="0.35"/>
<circle cx="348.97" cy="341.16" r="0.50" fill="#ffffff" fill-opacity="0.35"/>
<circle cx="334.49" cy="362.87" r="0.50" fill="#ffffff" fill-opacity="0.35"/>
<circle cx="346.13" cy="349.59" r="0.50" fill="#ffffff" fill-opacity="0.35"/>
<circle cx="343.09" cy="329.63" r="0.50" fill="#ffffff" fill-opacity="0.35"/>
<circle cx="339.22" cy="331.94" r="0.50" fill="#ffffff" fill-opacity="0.35"/>
<circle cx="341.63" cy="327.60" r="0.50" fill="#ffffff" fill-opacity="0.35"/>
<circle cx="341.04" cy="337.66" r="0.50" fill="#ffffff" fill-opacity="0.35"/>
<circle cx="338.13" cy="363.37" r="0.50" fill="#ffffff" fill-opacity="0.35"/>
<circle cx="339.47" cy="355.79" r="0.50" fill="#ffffff" fill-opacity="0.35"/>
<circle cx="330.40" cy="343.59" r="0.50" fill="#ffffff" fill-opacity="0.35"/>
<circle cx="340.08" cy="335.52" r="0.50" fill="#ffffff" fill-opacity="0.35"/>
<circle cx="348.89" cy="354.08" r="0.50" fill="#ffffff" fill-opacity="0.35"/>
<circle cx="347.52" cy="339.17" r="0.50" fill="#ffffff" fill-opacity="0.35"/>
<circle cx="331.80" cy="335.71" r="0.50" fill="#ffffff" fill-opacity="0.35"/>
<circle cx="334.58" cy="331.41" r="0.50" fill="#ffffff" fill-opacity="0.35"/>
<circle cx="348.62" cy="361.05" r="0.50" fill="#ffffff" fill-opacity="0.35"/>
<circle cx="330.84" cy="347.97" r="0.50" fill="#ffffff" fill-opacity="0.35"/>
<circle cx="344.73" cy="331.48" r="0.50" fill="#ffffff" fill-opacity="0.35"/>
<circle cx="340.36" cy="335.42" r="0.50" fill="#ffffff" fill-opacity="0.35"/>
<circle cx="346.14" cy="360.84" r="0.50" fill="#ffffff" fill-opacity="0.35"/>
<circle cx="345.40" cy="342.87" r="0.50" fill="#ffffff" fill-opacity="0.35"/>
<circle cx="339.51" cy="330.84" r="0.50" fill="#ffffff" fill-opacity="0.35"/>
<circle cx="335.04" cy="355.08" r="0.50" fill="#ffffff" fill-opacity="0.35"/>
<circle cx="340.64" cy="341.59" r="0.50" fill="#ffffff" fill-opacity="0.35"/>
<circle cx="341.31" cy="358.43" r="0.50" fill="#ffffff" fill-opacity="0.35"/>
<circle cx="333.69" cy="328.55" r="0.50" fill="#ffffff" fill-opacity="0.35"/>
<circle cx="349.82" cy="330.94" r="0.50" fill="#ffffff" fill-opacity="0.35"/>
<circle cx="348.23" cy="364.43" r="0.50" fill="#ffffff" fill-opacity="0.35"/>
<circle cx="345.78" cy="347.60" r="0.50" fill="#ffffff" fill-opacity="0.35"/>
<circle cx="341.78" cy="362.04" r="0.50" fill="#ffffff" fill-opacity="0.35"/>
<circle cx="333.57" cy="334.88" r="0.50" fill="#ffffff" fill-opacity="0.35"/>
<circle cx="342.24" cy="330.04" r="0.50" fill="#ffffff" fill-opacity="0.35"/>
<circle cx="336.89" cy="343.29" r="0.50" fill="#ffffff" fill-opacity="0.35"/>
<circle cx="336.74" cy="334.75" r="0.50" fill="#ffffff" fill-opacity="0.35"/>
<circle cx="346.98" cy="352.16" r="0.50" fill="#ffffff" fill-opacity="0.35"/>
<circle cx="346.17" cy="354.90" r="0.50" fill="#ffffff" fill-opacity="0.35"/>
<circle cx="339.08" cy="333.22" r="0.50" fill="#ffffff" fill-opacity="0.35"/>
<circle cx="342.53" cy="350.81" r="0.50" fill="#ffffff" fill-opacity="0.35"/>
<circle cx="337.19" cy="324.85" r="0.50" fill="#ffffff" fill-opacity="0.35"/>
<circle cx="333.19" cy="345.28" r="0.50" fill="#ffffff" fill-opacity="0.35"/>
<circle cx="345.40" cy="327.93" r="0.50" fill="#ffffff" fill-opacity="0.35"/>
<circle cx="337.30" cy="362.72" r="0.50" fill="#ffffff" fill-opacity="0.35"/>
<circle cx="339.68" cy="341.12" r="0.50" fill="#ffffff" fill-opacity="0.35"/>
<circle cx="343.70" cy="343.58" r="0.50" fill="#ffffff" fill-opacity="0.35"/>
<circle cx="334.68" cy="361.97" r="0.50" fill="#ffffff" fill-opacity="0.35"/>
<circle cx="331.54" cy="350.99" r="0.50" fill="#ffffff" fill-opacity="0.35"/>
<circle cx="332.86" cy="359.71" r="0.50" fill="#ffffff" fill-opacity="0.35"/>
<circle cx="343.53" cy="341.56" r="0.50" fill="#ffffff" fill-opacity="0.35"/>
<circle cx="342.11" cy="351.49" r="0.50" fill="#ffffff" fill-opacity="0.35"/>
<circle cx="334.39" cy="341.87" r="0.50" fill="#ffffff" fill-opacity="0.35"/>
<circle cx="333.93" cy="359.33" r="0.50" fill="#ffffff" fill-opacity="0.35"/>
<circle cx="338.50" cy="343.83" r="0.50" fill="#ffffff" fill-opacity="0.35"/>
<circle cx="343.88" cy="352.74" r="0.50" fill="#ffffff" fill-opacity="0.35"/>
<circle cx="343.04" cy="361.75" r="0.50" fill="#ffffff" fill-opacity="0.35"/>
<circle cx="349.01" cy="341.60" r="0.50" fill="#ffffff" fill-opacity="0.35"/>
<circle cx="349.79" cy="330.63" r="0.50" fill="#ffffff" fill-opacity="0.35"/>
<circle cx="337.72" cy="364.02" r="0.50" fill="#ffffff" fill-opacity="0.35"/>
<circle cx="340.06" cy="351.65" r="0.50" fill="#ffffff" fill-opacity="0.35"/>
<rect x="350.60" y="324.30" width="20.10" height="24.90" fill="#dfe4f9"/>
<rect x="350.60" y="349.20" width="20.10" height="16.00" fill="#e2e6f9"/>
<circle cx="359.35" cy="328.40" r="0.50" fill="#5064e0" fill-opacity="0.3"/>
<circle cx="355.24" cy="339.15" r="0.50" fill="#5064e0" fill-opacity="0.3"/>
<circle cx="365.76" cy="338.65" r="0.50" fill="#5064e0" fill-opacity="0.3"/>
<circle cx="360.70" cy="343.68" r="0.50" fill="#5064e0" fill-opacity="0.3"/>
<circle cx="357.14" cy="339.79" r="0.50" fill="#5064e0" fill-opacity="0.3"/>
<circle cx="358.17" cy="335.42" r="0.50" fill="#5064e0" fill-opacity="0.3"/>
<circle cx="358.64" cy="341.60" r="0.50" fill="#5064e0" fill-opacity="0.3"/>
<circle cx="358.36" cy="338.82" r="0.50" fill="#5064e0" fill-opacity="0.3"/>
<circle cx="368.30" cy="329.77" r="0.50" fill="#5064e0" fill-opacity="0.3"/>
<circle cx="358.82" cy="335.33" r="0.50" fill="#5064e0" fill-opacity="0.3"/>
<circle cx="358.35" cy="340.73" r="0.50" fill="#5064e0" fill-opacity="0.3"/>
<circle cx="361.27" cy="335.42" r="0.50" fill="#5064e0" fill-opacity="0.3"/>
<circle cx="361.55" cy="340.04" r="0.50" fill="#5064e0" fill-opacity="0.3"/>
<circle cx="359.62" cy="333.15" r="0.50" fill="#5064e0" fill-opacity="0.3"/>
<circle cx="363.72" cy="336.46" r="0.50" fill="#5064e0" fill-opacity="0.3"/>
<circle cx="356.30" cy="333.83" r="0.50" fill="#5064e0" fill-opacity="0.3"/>
<circle cx="355.46" cy="348.60" r="0.50" fill="#5064e0" fill-opacity="0.3"/>
<circle cx="363.07" cy="336.93" r="0.50" fill="#5064e0" fill-opacity="0.3"/>
<circle cx="357.39" cy="338.67" r="0.50" fill="#5064e0" fill-opacity="0.3"/>
<circle cx="360.61" cy="342.55" r="0.50" fill="#5064e0" fill-opacity="0.3"/>
<circle cx="356.54" cy="339.85" r="0.50" fill="#5064e0" fill-opacity="0.3"/>
<circle cx="353.38" cy="335.09" r="0.50" fill="#5064e0" fill-opacity="0.3"/>
<circle cx="357.71" cy="336.45" r="0.50" fill="#5064e0" fill-opacity="0.3"/>
<circle cx="369.22" cy="345.24" r="0.50" fill="#5064e0" fill-opacity="0.3"/>
<circle cx="364.45" cy="347.46" r="0.50" fill="#5064e0" fill-opacity="0.3"/>
<circle cx="355.78" cy="345.27" r="0.50" fill="#5064e0" fill-opacity="0.3"/>
<circle cx="361.53" cy="335.85" r="0.50" fill="#5064e0" fill-opacity="0.3"/>
<circle cx="361.64" cy="344.03" r="0.50" fill="#5064e0" fill-opacity="0.3"/>
<circle cx="359.94" cy="338.50" r="0.50" fill="#5064e0" fill-opacity="0.3"/>
<circle cx="364.11" cy="337.54" r="0.50" fill="#5064e0" fill-opacity="0.3"/>
<circle cx="354.65" cy="331.56" r="0.50" fill="#5064e0" fill-opacity="0.3"/>
<circle cx="357.50" cy="336.16" r="0.50" fill="#5064e0" fill-opacity="0.3"/>
<circle cx="364.83" cy="341.60" r="0.50" fill="#5064e0" fill-opacity="0.3"/>
<circle cx="359.13" cy="337.80" r="0.50" fill="#5064e0" fill-opacity="0.3"/>
<circle cx="366.67" cy="340.29" r="0.50" fill="#5064e0" fill-opacity="0.3"/>
<circle cx="365.41" cy="335.25" r="0.50" fill="#5064e0" fill-opacity="0.3"/>
<circle cx="362.55" cy="337.16" r="0.50" fill="#5064e0" fill-opacity="0.3"/>
<circle cx="354.15" cy="327.33" r="0.50" fill="#5064e0" fill-opacity="0.3"/>
<circle cx="360.44" cy="343.48" r="0.50" fill="#5064e0" fill-opacity="0.3"/>
<circle cx="365.89" cy="338.69" r="0.50" fill="#5064e0" fill-opacity="0.3"/>
<circle cx="358.87" cy="329.94" r="0.50" fill="#5064e0" fill-opacity="0.3"/>
<circle cx="359.56" cy="332.72" r="0.50" fill="#5064e0" fill-opacity="0.3"/>
<circle cx="355.19" cy="331.15" r="0.50" fill="#5064e0" fill-opacity="0.3"/>
<circle cx="356.74" cy="335.59" r="0.50" fill="#5064e0" fill-opacity="0.3"/>
<circle cx="359.36" cy="344.59" r="0.50" fill="#5064e0" fill-opacity="0.3"/>
<circle cx="364.79" cy="337.77" r="0.50" fill="#5064e0" fill-opacity="0.3"/>
<circle cx="366.68" cy="333.87" r="0.50" fill="#5064e0" fill-opacity="0.3"/>
<circle cx="356.12" cy="330.29" r="0.50" fill="#5064e0" fill-opacity="0.3"/>
<circle cx="352.22" cy="334.27" r="0.50" fill="#5064e0" fill-opacity="0.3"/>
<circle cx="356.21" cy="339.50" r="0.50" fill="#5064e0" fill-opacity="0.3"/>
<circle cx="361.58" cy="344.59" r="0.50" fill="#5064e0" fill-opacity="0.3"/>
<circle cx="352.99" cy="338.86" r="0.50" fill="#5064e0" fill-opacity="0.3"/>
<circle cx="354.31" cy="335.45" r="0.50" fill="#5064e0" fill-opacity="0.3"/>
<circle cx="366.87" cy="334.96" r="0.50" fill="#5064e0" fill-opacity="0.3"/>
<circle cx="356.41" cy="343.63" r="0.50" fill="#5064e0" fill-opacity="0.3"/>
<circle cx="354.79" cy="325.31" r="0.50" fill="#5064e0" fill-opacity="0.3"/>
<circle cx="360.60" cy="331.62" r="0.50" fill="#5064e0" fill-opacity="0.3"/>
<circle cx="352.76" cy="340.31" r="0.50" fill="#5064e0" fill-opacity="0.3"/>
<circle cx="366.20" cy="339.58" r="0.50" fill="#5064e0" fill-opacity="0.3"/>
<circle cx="358.04" cy="329.13" r="0.50" fill="#5064e0" fill-opacity="0.3"/>
<circle cx="355.15" cy="329.23" r="0.50" fill="#5064e0" fill-opacity="0.3"/>
<circle cx="359.98" cy="340.74" r="0.50" fill="#5064e0" fill-opacity="0.3"/>
<circle cx="354.67" cy="326.75" r="0.50" fill="#5064e0" fill-opacity="0.3"/>
<circle cx="357.63" cy="340.91" r="0.50" fill="#5064e0" fill-opacity="0.3"/>
<circle cx="361.82" cy="336.24" r="0.50" fill="#5064e0" fill-opacity="0.3"/>
<circle cx="364.63" cy="336.99" r="0.50" fill="#5064e0" fill-opacity="0.3"/>
<circle cx="363.63" cy="337.68" r="0.50" fill="#5064e0" fill-opacity="0.3"/>
<circle cx="359.23" cy="330.91" r="0.50" fill="#5064e0" fill-opacity="0.3"/>
<circle cx="360.14" cy="338.85" r="0.50" fill="#5064e0" fill-opacity="0.3"/>
<circle cx="366.04" cy="339.39" r="0.50" fill="#5064e0" fill-opacity="0.3"/>
<circle cx="352.56" cy="343.71" r="0.50" fill="#5064e0" fill-opacity="0.3"/>
<circle cx="362.05" cy="340.49" r="0.50" fill="#5064e0" fill-opacity="0.3"/>
<circle cx="353.57" cy="335.24" r="0.50" fill="#5064e0" fill-opacity="0.3"/>
<circle cx="357.00" cy="332.62" r="0.50" fill="#5064e0" fill-opacity="0.3"/>
<circle cx="358.64" cy="328.14" r="0.50" fill="#5064e0" fill-opacity="0.3"/>
<circle cx="358.33" cy="332.09" r="0.50" fill="#5064e0" fill-opacity="0.3"/>
<circle cx="363.57" cy="330.19" r="0.50" fill="#5064e0" fill-opacity="0.3"/>
<circle cx="364.80" cy="329.88" r="0.50" fill="#5064e0" fill-opacity="0.3"/>
<circle cx="365.05" cy="333.14" r="0.50" fill="#5064e0" fill-opacity="0.3"/>
<circle cx="353.13" cy="345.11" r="0.50" fill="#5064e0" fill-opacity="0.3"/>
<circle cx="365.15" cy="333.73" r="0.50" fill="#5064e0" fill-opacity="0.3"/>
<circle cx="356.87" cy="329.01" r="0.50" fill="#5064e0" fill-opacity="0.3"/>
<circle cx="356.61" cy="340.49" r="0.50" fill="#5064e0" fill-opacity="0.3"/>
<circle cx="356.00" cy="334.47" r="0.50" fill="#5064e0" fill-opacity="0.3"/>
<circle cx="353.92" cy="341.35" r="0.50" fill="#5064e0" fill-opacity="0.3"/>
<circle cx="366.43" cy="335.28" r="0.50" fill="#5064e0" fill-opacity="0.3"/>
<circle cx="354.79" cy="336.01" r="0.50" fill="#5064e0" fill-opacity="0.3"/>
<circle cx="358.56" cy="331.25" r="0.50" fill="#5064e0" fill-opacity="0.3"/>
<circle cx="360.68" cy="333.31" r="0.50" fill="#5064e0" fill-opacity="0.3"/>
<circle cx="366.60" cy="333.15" r="0.50" fill="#5064e0" fill-opacity="0.3"/>
<circle cx="359.41" cy="338.60" r="0.50" fill="#5064e0" fill-opacity="0.3"/>
<circle cx="358.71" cy="344.95" r="0.50" fill="#5064e0" fill-opacity="0.3"/>
<circle cx="358.03" cy="337.05" r="0.50" fill="#5064e0" fill-opacity="0.3"/>
<circle cx="360.71" cy="336.30" r="0.50" fill="#5064e0" fill-opacity="0.3"/>
<circle cx="362.31" cy="331.03" r="0.50" fill="#5064e0" fill-opacity="0.3"/>
<circle cx="361.92" cy="326.58" r="0.50" fill="#5064e0" fill-opacity="0.3"/>
<circle cx="356.65" cy="331.49" r="0.50" fill="#5064e0" fill-opacity="0.3"/>
<circle cx="354.58" cy="336.53" r="0.50" fill="#5064e0" fill-opacity="0.3"/>
<circle cx="358.50" cy="338.27" r="0.50" fill="#5064e0" fill-opacity="0.3"/>
<circle cx="358.19" cy="334.89" r="0.50" fill="#5064e0" fill-opacity="0.3"/>
<circle cx="355.07" cy="342.37" r="0.50" fill="#5064e0" fill-opacity="0.3"/>
<circle cx="351.50" cy="335.98" r="0.50" fill="#5064e0" fill-opacity="0.3"/>
<circle cx="360.67" cy="333.62" r="0.50" fill="#5064e0" fill-opacity="0.3"/>
<circle cx="353.09" cy="330.31" r="0.50" fill="#5064e0" fill-opacity="0.3"/>
<circle cx="362.02" cy="337.36" r="0.50" fill="#5064e0" fill-opacity="0.3"/>
<circle cx="364.72" cy="342.62" r="0.50" fill="#5064e0" fill-opacity="0.3"/>
<circle cx="366.42" cy="327.37" r="0.50" fill="#5064e0" fill-opacity="0.3"/>
<circle cx="362.58" cy="330.57" r="0.50" fill="#5064e0" fill-opacity="0.3"/>
<circle cx="352.12" cy="330.97" r="0.50" fill="#5064e0" fill-opacity="0.3"/>
<circle cx="356.52" cy="343.59" r="0.50" fill="#5064e0" fill-opacity="0.3"/>
<circle cx="362.17" cy="341.04" r="0.50" fill="#5064e0" fill-opacity="0.3"/>
<circle cx="360.35" cy="343.72" r="0.50" fill="#5064e0" fill-opacity="0.3"/>
<circle cx="360.58" cy="337.78" r="0.50" fill="#5064e0" fill-opacity="0.3"/>
<circle cx="360.84" cy="334.79" r="0.50" fill="#5064e0" fill-opacity="0.3"/>
<circle cx="358.99" cy="333.83" r="0.50" fill="#5064e0" fill-opacity="0.3"/>
<circle cx="366.03" cy="330.11" r="0.50" fill="#5064e0" fill-opacity="0.3"/>
<circle cx="360.90" cy="325.35" r="0.50" fill="#5064e0" fill-opacity="0.3"/>
<circle cx="361.02" cy="337.69" r="0.50" fill="#5064e0" fill-opacity="0.3"/>
<circle cx="356.68" cy="338.09" r="0.50" fill="#5064e0" fill-opacity="0.3"/>
<circle cx="361.77" cy="335.02" r="0.50" fill="#5064e0" fill-opacity="0.3"/>
<circle cx="359.68" cy="346.58" r="0.50" fill="#5064e0" fill-opacity="0.3"/>
<circle cx="367.86" cy="344.50" r="0.50" fill="#5064e0" fill-opacity="0.3"/>
<circle cx="354.16" cy="342.96" r="0.50" fill="#5064e0" fill-opacity="0.3"/>
<circle cx="359.81" cy="335.00" r="0.50" fill="#5064e0" fill-opacity="0.3"/>
<circle cx="358.42" cy="342.87" r="0.50" fill="#5064e0" fill-opacity="0.3"/>
<circle cx="357.29" cy="332.19" r="0.50" fill="#5064e0" fill-opacity="0.3"/>
<circle cx="354.99" cy="338.93" r="0.50" fill="#5064e0" fill-opacity="0.3"/>
<circle cx="353.30" cy="333.68" r="0.50" fill="#5064e0" fill-opacity="0.3"/>
<circle cx="358.21" cy="336.47" r="0.50" fill="#5064e0" fill-opacity="0.3"/>
<circle cx="358.88" cy="341.40" r="0.50" fill="#5064e0" fill-opacity="0.3"/>
<circle cx="359.07" cy="333.65" r="0.50" fill="#5064e0" fill-opacity="0.3"/>
<circle cx="352.45" cy="336.61" r="0.50" fill="#5064e0" fill-opacity="0.3"/>
<circle cx="361.22" cy="341.69" r="0.50" fill="#5064e0" fill-opacity="0.3"/>
<circle cx="361.14" cy="328.90" r="0.50" fill="#5064e0" fill-opacity="0.3"/>
<circle cx="358.63" cy="345.02" r="0.50" fill="#5064e0" fill-opacity="0.3"/>
<circle cx="362.11" cy="336.89" r="0.50" fill="#5064e0" fill-opacity="0.3"/>
<circle cx="358.18" cy="333.81" r="0.50" fill="#5064e0" fill-opacity="0.3"/>
<circle cx="358.43" cy="340.05" r="0.50" fill="#5064e0" fill-opacity="0.3"/>
<circle cx="365.89" cy="355.92" r="0.50" fill="#5064e0" fill-opacity="0.3"/>
<circle cx="352.17" cy="355.50" r="0.50" fill="#5064e0" fill-opacity="0.3"/>
<circle cx="359.22" cy="358.03" r="0.50" fill="#5064e0" fill-opacity="0.3"/>
<circle cx="352.91" cy="359.84" r="0.50" fill="#5064e0" fill-opacity="0.3"/>
<circle cx="359.46" cy="353.40" r="0.50" fill="#5064e0" fill-opacity="0.3"/>
<circle cx="361.48" cy="356.63" r="0.50" fill="#5064e0" fill-opacity="0.3"/>
<circle cx="357.80" cy="356.19" r="0.50" fill="#5064e0" fill-opacity="0.3"/>
<circle cx="359.19" cy="359.05" r="0.50" fill="#5064e0" fill-opacity="0.3"/>
<circle cx="367.56" cy="356.17" r="0.50" fill="#5064e0" fill-opacity="0.3"/>
<circle cx="364.18" cy="355.85" r="0.50" fill="#5064e0" fill-opacity="0.3"/>
<circle cx="361.81" cy="354.47" r="0.50" fill="#5064e0" fill-opacity="0.3"/>
<circle cx="355.39" cy="349.80" r="0.50" fill="#5064e0" fill-opacity="0.3"/>
<circle cx="352.30" cy="361.06" r="0.50" fill="#5064e0" fill-opacity="0.3"/>
<circle cx="358.27" cy="355.29" r="0.50" fill="#5064e0" fill-opacity="0.3"/>
<circle cx="358.89" cy="354.37" r="0.50" fill="#5064e0" fill-opacity="0.3"/>
<circle cx="357.50" cy="359.88" r="0.50" fill="#5064e0" fill-opacity="0.3"/>
<circle cx="361.56" cy="359.29" r="0.50" fill="#5064e0" fill-opacity="0.3"/>
<circle cx="365.38" cy="357.33" r="0.50" fill="#5064e0" fill-opacity="0.3"/>
<circle cx="365.52" cy="355.51" r="0.50" fill="#5064e0" fill-opacity="0.3"/>
<circle cx="357.91" cy="354.65" r="0.50" fill="#5064e0" fill-opacity="0.3"/>
<circle cx="362.57" cy="358.04" r="0.50" fill="#5064e0" fill-opacity="0.3"/>
<circle cx="367.47" cy="355.19" r="0.50" fill="#5064e0" fill-opacity="0.3"/>
<circle cx="367.97" cy="354.05" r="0.50" fill="#5064e0" fill-opacity="0.3"/>
<circle cx="358.33" cy="359.60" r="0.50" fill="#5064e0" fill-opacity="0.3"/>
<circle cx="356.08" cy="355.56" r="0.50" fill="#5064e0" fill-opacity="0.3"/>
<circle cx="351.18" cy="357.50" r="0.50" fill="#5064e0" fill-opacity="0.3"/>
<circle cx="355.69" cy="358.22" r="0.50" fill="#5064e0" fill-opacity="0.3"/>
<circle cx="351.93" cy="352.57" r="0.50" fill="#5064e0" fill-opacity="0.3"/>
<circle cx="353.17" cy="359.76" r="0.50" fill="#5064e0" fill-opacity="0.3"/>
<circle cx="356.22" cy="354.22" r="0.50" fill="#5064e0" fill-opacity="0.3"/>
<circle cx="355.05" cy="362.73" r="0.50" fill="#5064e0" fill-opacity="0.3"/>
<circle cx="354.35" cy="356.16" r="0.50" fill="#5064e0" fill-opacity="0.3"/>
<circle cx="353.55" cy="360.85" r="0.50" fill="#5064e0" fill-opacity="0.3"/>
<circle cx="354.35" cy="351.53" r="0.50" fill="#5064e0" fill-opacity="0.3"/>
<circle cx="363.45" cy="355.07" r="0.50" fill="#5064e0" fill-opacity="0.3"/>
<circle cx="364.17" cy="354.37" r="0.50" fill="#5064e0" fill-opacity="0.3"/>
<circle cx="358.31" cy="358.42" r="0.50" fill="#5064e0" fill-opacity="0.3"/>
<circle cx="355.05" cy="351.37" r="0.50" fill="#5064e0" fill-opacity="0.3"/>
<circle cx="355.20" cy="353.47" r="0.50" fill="#5064e0" fill-opacity="0.3"/>
<circle cx="359.00" cy="357.19" r="0.50" fill="#5064e0" fill-opacity="0.3"/>
<circle cx="352.18" cy="353.05" r="0.50" fill="#5064e0" fill-opacity="0.3"/>
<circle cx="368.99" cy="354.89" r="0.50" fill="#5064e0" fill-opacity="0.3"/>
<circle cx="351.90" cy="356.63" r="0.50" fill="#5064e0" fill-opacity="0.3"/>
<circle cx="354.43" cy="354.51" r="0.50" fill="#5064e0" fill-opacity="0.3"/>
<circle cx="354.77" cy="357.12" r="0.50" fill="#5064e0" fill-opacity="0.3"/>
<circle cx="355.39" cy="362.16" r="0.50" fill="#5064e0" fill-opacity="0.3"/>
<circle cx="355.90" cy="353.65" r="0.50" fill="#5064e0" fill-opacity="0.3"/>
<circle cx="368.03" cy="357.02" r="0.50" fill="#5064e0" fill-opacity="0.3"/>
<circle cx="367.93" cy="357.48" r="0.50" fill="#5064e0" fill-opacity="0.3"/>
<circle cx="365.37" cy="350.20" r="0.50" fill="#5064e0" fill-opacity="0.3"/>
<circle cx="357.29" cy="351.21" r="0.50" fill="#5064e0" fill-opacity="0.3"/>
<circle cx="357.61" cy="350.53" r="0.50" fill="#5064e0" fill-opacity="0.3"/>
<circle cx="352.83" cy="357.47" r="0.50" fill="#5064e0" fill-opacity="0.3"/>
<circle cx="361.48" cy="360.51" r="0.50" fill="#5064e0" fill-opacity="0.3"/>
<circle cx="359.66" cy="353.34" r="0.50" fill="#5064e0" fill-opacity="0.3"/>
<circle cx="366.17" cy="352.53" r="0.50" fill="#5064e0" fill-opacity="0.3"/>
<circle cx="355.54" cy="360.36" r="0.50" fill="#5064e0" fill-opacity="0.3"/>
<circle cx="354.82" cy="359.04" r="0.50" fill="#5064e0" fill-opacity="0.3"/>
<circle cx="358.12" cy="353.76" r="0.50" fill="#5064e0" fill-opacity="0.3"/>
<circle cx="354.30" cy="352.55" r="0.50" fill="#5064e0" fill-opacity="0.3"/>
<circle cx="362.18" cy="358.69" r="0.50" fill="#5064e0" fill-opacity="0.3"/>
<circle cx="358.50" cy="358.63" r="0.50" fill="#5064e0" fill-opacity="0.3"/>
<circle cx="355.33" cy="351.75" r="0.50" fill="#5064e0" fill-opacity="0.3"/>
<circle cx="355.34" cy="358.43" r="0.50" fill="#5064e0" fill-opacity="0.3"/>
<circle cx="353.00" cy="358.82" r="0.50" fill="#5064e0" fill-opacity="0.3"/>
<circle cx="361.04" cy="360.35" r="0.50" fill="#5064e0" fill-opacity="0.3"/>
<circle cx="356.14" cy="351.64" r="0.50" fill="#5064e0" fill-opacity="0.3"/>
<circle cx="365.95" cy="360.27" r="0.50" fill="#5064e0" fill-opacity="0.3"/>
<circle cx="356.34" cy="355.99" r="0.50" fill="#5064e0" fill-opacity="0.3"/>
<circle cx="356.53" cy="363.16" r="0.50" fill="#5064e0" fill-opacity="0.3"/>
<circle cx="361.30" cy="350.22" r="0.50" fill="#5064e0" fill-opacity="0.3"/>
<circle cx="352.32" cy="364.14" r="0.50" fill="#5064e0" fill-opacity="0.3"/>
<circle cx="357.23" cy="360.40" r="0.50" fill="#5064e0" fill-opacity="0.3"/>
<circle cx="360.61" cy="358.63" r="0.50" fill="#5064e0" fill-opacity="0.3"/>
<circle cx="357.89" cy="355.34" r="0.50" fill="#5064e0" fill-opacity="0.3"/>
<circle cx="355.25" cy="353.47" r="0.50" fill="#5064e0" fill-opacity="0.3"/>
<circle cx="355.83" cy="360.97" r="0.50" fill="#5064e0" fill-opacity="0.3"/>
<circle cx="363.47" cy="352.62" r="0.50" fill="#5064e0" fill-opacity="0.3"/>
<circle cx="351.23" cy="358.99" r="0.50" fill="#5064e0" fill-opacity="0.3"/>
<circle cx="357.24" cy="356.53" r="0.50" fill="#5064e0" fill-opacity="0.3"/>
<circle cx="361.94" cy="351.28" r="0.50" fill="#5064e0" fill-opacity="0.3"/>
<circle cx="367.52" cy="355.56" r="0.50" fill="#5064e0" fill-opacity="0.3"/>
<circle cx="351.39" cy="350.50" r="0.50" fill="#5064e0" fill-opacity="0.3"/>
<circle cx="361.64" cy="360.81" r="0.50" fill="#5064e0" fill-opacity="0.3"/>
<circle cx="359.06" cy="354.55" r="0.50" fill="#5064e0" fill-opacity="0.3"/>
<circle cx="357.27" cy="355.72" r="0.50" fill="#5064e0" fill-opacity="0.3"/>
<circle cx="363.58" cy="358.58" r="0.50" fill="#5064e0" fill-opacity="0.3"/>
<circle cx="355.92" cy="350.17" r="0.50" fill="#5064e0" fill-opacity="0.3"/>
<circle cx="354.46" cy="359.31" r="0.50" fill="#5064e0" fill-opacity="0.3"/>
<circle cx="360.95" cy="360.71" r="0.50" fill="#5064e0" fill-opacity="0.3"/>
<circle cx="366.46" cy="355.04" r="0.50" fill="#5064e0" fill-opacity="0.3"/>
<circle cx="351.30" cy="358.77" r="0.50" fill="#5064e0" fill-opacity="0.3"/>
<circle cx="351.16" cy="356.46" r="0.50" fill="#5064e0" fill-opacity="0.3"/>
<circle cx="355.86" cy="363.38" r="0.50" fill="#5064e0" fill-opacity="0.3"/>
<circle cx="365.61" cy="354.35" r="0.50" fill="#5064e0" fill-opacity="0.3"/>
<circle cx="363.28" cy="359.23" r="0.50" fill="#5064e0" fill-opacity="0.3"/>
<circle cx="356.46" cy="354.90" r="0.50" fill="#5064e0" fill-opacity="0.3"/>
<circle cx="360.88" cy="355.54" r="0.50" fill="#5064e0" fill-opacity="0.3"/>
<circle cx="367.04" cy="353.55" r="0.50" fill="#5064e0" fill-opacity="0.3"/>
<circle cx="351.82" cy="354.46" r="0.50" fill="#5064e0" fill-opacity="0.3"/>
<circle cx="364.09" cy="354.16" r="0.50" fill="#5064e0" fill-opacity="0.3"/>
<circle cx="368.59" cy="362.93" r="0.50" fill="#5064e0" fill-opacity="0.3"/>
<circle cx="365.24" cy="362.93" r="0.50" fill="#5064e0" fill-opacity="0.3"/>
<circle cx="356.47" cy="358.18" r="0.50" fill="#5064e0" fill-opacity="0.3"/>
<circle cx="354.86" cy="359.60" r="0.50" fill="#5064e0" fill-opacity="0.3"/>
<circle cx="357.18" cy="352.73" r="0.50" fill="#5064e0" fill-opacity="0.3"/>
<circle cx="364.65" cy="357.39" r="0.50" fill="#5064e0" fill-opacity="0.3"/>
<circle cx="362.05" cy="364.51" r="0.50" fill="#5064e0" fill-opacity="0.3"/>
<circle cx="355.22" cy="351.85" r="0.50" fill="#5064e0" fill-opacity="0.3"/>
<circle cx="353.88" cy="357.71" r="0.50" fill="#5064e0" fill-opacity="0.3"/>
<circle cx="353.85" cy="362.17" r="0.50" fill="#5064e0" fill-opacity="0.3"/>
<circle cx="359.26" cy="360.41" r="0.50" fill="#5064e0" fill-opacity="0.3"/>
<circle cx="363.48" cy="356.65" r="0.50" fill="#5064e0" fill-opacity="0.3"/>
<circle cx="356.51" cy="361.55" r="0.50" fill="#5064e0" fill-opacity="0.3"/>
<circle cx="354.65" cy="357.01" r="0.50" fill="#5064e0" fill-opacity="0.3"/>
<circle cx="361.92" cy="357.66" r="0.50" fill="#5064e0" fill-opacity="0.3"/>
<circle cx="355.19" cy="360.20" r="0.50" fill="#5064e0" fill-opacity="0.3"/>
<rect x="329.60" y="324.30" width="41.10" height="40.90" fill="none" stroke="#151515" stroke-width="1.5"/>
<line x1="350.60" y1="324.30" x2="350.60" y2="365.20" stroke="#151515" stroke-width="1.4"/>
<line x1="329.60" y1="349.20" x2="370.70" y2="349.20" stroke="#151515" stroke-width="1.4"/>
<text x="336.40" y="331.20" font-size="5.4" text-anchor="middle" font-weight="bold" fill="#151515">37</text>
<text x="368.30" y="331.20" font-size="5.4" text-anchor="end" font-weight="bold" fill="#151515">6</text>
<text x="336.40" y="361.40" font-size="5.4" text-anchor="middle" font-weight="bold" fill="#151515">52</text>
<text x="368.30" y="361.40" font-size="5.4" text-anchor="end" font-weight="bold" fill="#151515">5</text>
<text x="344.60" y="372.00" font-size="5.6" text-anchor="middle" font-weight="normal" fill="#151515">10<tspan font-size="3.92" dy="-2.24">2</tspan><tspan dy="2.24"></tspan></text>
<text x="360.80" y="372.00" font-size="5.6" text-anchor="middle" font-weight="normal" fill="#151515">10<tspan font-size="3.92" dy="-2.24">4</tspan><tspan dy="2.24"></tspan></text>
<text x="392.85" y="320.80" font-size="6.1" text-anchor="middle" font-weight="normal" fill="#151515">IL-4+IL-13</text>
<rect x="372.10" y="324.30" width="20.90" height="24.90" fill="#c4ccf4"/>
<rect x="372.10" y="349.20" width="20.90" height="16.00" fill="#a8b8f0"/>
<ellipse cx="385.06" cy="337.00" rx="6.50" ry="12.00" fill="url(#it3)"/>
<ellipse cx="385.06" cy="357.00" rx="5.00" ry="8.50" fill="url(#ib3)"/>
<circle cx="392.08" cy="343.01" r="0.50" fill="#2438c8" fill-opacity="0.3"/>
<circle cx="386.91" cy="354.12" r="0.50" fill="#2438c8" fill-opacity="0.3"/>
<circle cx="376.88" cy="327.91" r="0.50" fill="#2438c8" fill-opacity="0.3"/>
<circle cx="384.59" cy="329.66" r="0.50" fill="#2438c8" fill-opacity="0.3"/>
<circle cx="380.21" cy="360.30" r="0.50" fill="#2438c8" fill-opacity="0.3"/>
<circle cx="389.96" cy="329.54" r="0.50" fill="#2438c8" fill-opacity="0.3"/>
<circle cx="374.24" cy="333.68" r="0.50" fill="#2438c8" fill-opacity="0.3"/>
<circle cx="389.08" cy="325.79" r="0.50" fill="#2438c8" fill-opacity="0.3"/>
<circle cx="377.08" cy="329.08" r="0.50" fill="#2438c8" fill-opacity="0.3"/>
<circle cx="375.14" cy="345.68" r="0.50" fill="#2438c8" fill-opacity="0.3"/>
<circle cx="376.25" cy="341.14" r="0.50" fill="#2438c8" fill-opacity="0.3"/>
<circle cx="387.19" cy="353.65" r="0.50" fill="#2438c8" fill-opacity="0.3"/>
<circle cx="380.86" cy="356.17" r="0.50" fill="#2438c8" fill-opacity="0.3"/>
<circle cx="383.99" cy="357.80" r="0.50" fill="#2438c8" fill-opacity="0.3"/>
<circle cx="377.55" cy="339.53" r="0.50" fill="#2438c8" fill-opacity="0.3"/>
<circle cx="384.15" cy="362.54" r="0.50" fill="#2438c8" fill-opacity="0.3"/>
<circle cx="384.90" cy="343.74" r="0.50" fill="#2438c8" fill-opacity="0.3"/>
<circle cx="377.59" cy="336.03" r="0.50" fill="#2438c8" fill-opacity="0.3"/>
<circle cx="376.89" cy="364.16" r="0.50" fill="#2438c8" fill-opacity="0.3"/>
<circle cx="390.24" cy="360.49" r="0.50" fill="#2438c8" fill-opacity="0.3"/>
<circle cx="383.12" cy="353.06" r="0.50" fill="#2438c8" fill-opacity="0.3"/>
<circle cx="378.50" cy="344.01" r="0.50" fill="#2438c8" fill-opacity="0.3"/>
<circle cx="375.50" cy="341.56" r="0.50" fill="#2438c8" fill-opacity="0.3"/>
<circle cx="377.63" cy="328.79" r="0.50" fill="#2438c8" fill-opacity="0.3"/>
<circle cx="390.90" cy="328.66" r="0.50" fill="#2438c8" fill-opacity="0.3"/>
<circle cx="388.78" cy="352.71" r="0.50" fill="#2438c8" fill-opacity="0.3"/>
<circle cx="374.39" cy="344.16" r="0.50" fill="#2438c8" fill-opacity="0.3"/>
<circle cx="392.42" cy="364.18" r="0.50" fill="#2438c8" fill-opacity="0.3"/>
<circle cx="383.81" cy="355.60" r="0.50" fill="#2438c8" fill-opacity="0.3"/>
<circle cx="386.70" cy="336.44" r="0.50" fill="#2438c8" fill-opacity="0.3"/>
<circle cx="383.54" cy="348.62" r="0.50" fill="#2438c8" fill-opacity="0.3"/>
<circle cx="380.44" cy="357.48" r="0.50" fill="#2438c8" fill-opacity="0.3"/>
<circle cx="381.44" cy="354.70" r="0.50" fill="#2438c8" fill-opacity="0.3"/>
<circle cx="373.89" cy="342.55" r="0.50" fill="#2438c8" fill-opacity="0.3"/>
<circle cx="373.48" cy="350.61" r="0.50" fill="#2438c8" fill-opacity="0.3"/>
<circle cx="389.97" cy="346.48" r="0.50" fill="#2438c8" fill-opacity="0.3"/>
<circle cx="383.85" cy="349.64" r="0.50" fill="#2438c8" fill-opacity="0.3"/>
<circle cx="377.16" cy="340.21" r="0.50" fill="#2438c8" fill-opacity="0.3"/>
<circle cx="384.11" cy="350.59" r="0.50" fill="#2438c8" fill-opacity="0.3"/>
<circle cx="380.16" cy="343.85" r="0.50" fill="#2438c8" fill-opacity="0.3"/>
<circle cx="379.18" cy="346.92" r="0.50" fill="#2438c8" fill-opacity="0.3"/>
<circle cx="386.05" cy="337.88" r="0.50" fill="#2438c8" fill-opacity="0.3"/>
<circle cx="386.23" cy="358.67" r="0.50" fill="#2438c8" fill-opacity="0.3"/>
<circle cx="383.28" cy="363.92" r="0.50" fill="#2438c8" fill-opacity="0.3"/>
<circle cx="378.76" cy="361.49" r="0.50" fill="#2438c8" fill-opacity="0.3"/>
<circle cx="376.22" cy="339.30" r="0.50" fill="#2438c8" fill-opacity="0.3"/>
<circle cx="388.86" cy="326.10" r="0.50" fill="#2438c8" fill-opacity="0.3"/>
<circle cx="384.83" cy="359.57" r="0.50" fill="#2438c8" fill-opacity="0.3"/>
<circle cx="391.39" cy="352.02" r="0.50" fill="#2438c8" fill-opacity="0.3"/>
<circle cx="379.48" cy="338.06" r="0.50" fill="#2438c8" fill-opacity="0.3"/>
<circle cx="385.16" cy="327.46" r="0.50" fill="#2438c8" fill-opacity="0.3"/>
<circle cx="373.16" cy="359.98" r="0.50" fill="#2438c8" fill-opacity="0.3"/>
<circle cx="385.08" cy="331.30" r="0.50" fill="#2438c8" fill-opacity="0.3"/>
<circle cx="381.13" cy="336.33" r="0.50" fill="#2438c8" fill-opacity="0.3"/>
<circle cx="389.90" cy="336.22" r="0.50" fill="#2438c8" fill-opacity="0.3"/>
<circle cx="387.02" cy="354.48" r="0.50" fill="#2438c8" fill-opacity="0.3"/>
<circle cx="378.94" cy="334.86" r="0.50" fill="#2438c8" fill-opacity="0.3"/>
<circle cx="382.97" cy="340.75" r="0.50" fill="#2438c8" fill-opacity="0.3"/>
<circle cx="384.42" cy="337.89" r="0.50" fill="#2438c8" fill-opacity="0.3"/>
<circle cx="388.41" cy="341.57" r="0.50" fill="#2438c8" fill-opacity="0.3"/>
<circle cx="375.31" cy="355.70" r="0.50" fill="#2438c8" fill-opacity="0.3"/>
<circle cx="390.41" cy="351.98" r="0.50" fill="#2438c8" fill-opacity="0.3"/>
<circle cx="383.48" cy="359.58" r="0.50" fill="#2438c8" fill-opacity="0.3"/>
<circle cx="391.18" cy="325.17" r="0.50" fill="#2438c8" fill-opacity="0.3"/>
<circle cx="382.31" cy="325.56" r="0.50" fill="#2438c8" fill-opacity="0.3"/>
<circle cx="379.24" cy="334.45" r="0.50" fill="#2438c8" fill-opacity="0.3"/>
<circle cx="381.78" cy="351.82" r="0.50" fill="#2438c8" fill-opacity="0.3"/>
<circle cx="389.73" cy="335.21" r="0.50" fill="#2438c8" fill-opacity="0.3"/>
<circle cx="372.83" cy="364.66" r="0.50" fill="#2438c8" fill-opacity="0.3"/>
<circle cx="388.16" cy="346.76" r="0.50" fill="#2438c8" fill-opacity="0.3"/>
<circle cx="374.84" cy="326.89" r="0.50" fill="#2438c8" fill-opacity="0.3"/>
<circle cx="391.19" cy="345.92" r="0.50" fill="#2438c8" fill-opacity="0.3"/>
<circle cx="389.71" cy="356.07" r="0.50" fill="#2438c8" fill-opacity="0.3"/>
<circle cx="387.55" cy="356.93" r="0.50" fill="#2438c8" fill-opacity="0.3"/>
<circle cx="377.64" cy="334.62" r="0.50" fill="#2438c8" fill-opacity="0.3"/>
<circle cx="381.23" cy="355.43" r="0.50" fill="#2438c8" fill-opacity="0.3"/>
<circle cx="388.41" cy="355.02" r="0.50" fill="#2438c8" fill-opacity="0.3"/>
<circle cx="384.13" cy="343.82" r="0.50" fill="#2438c8" fill-opacity="0.3"/>
<circle cx="376.47" cy="351.40" r="0.50" fill="#2438c8" fill-opacity="0.3"/>
<circle cx="385.61" cy="345.33" r="0.50" fill="#2438c8" fill-opacity="0.3"/>
<circle cx="387.06" cy="363.87" r="0.50" fill="#2438c8" fill-opacity="0.3"/>
<circle cx="391.38" cy="329.08" r="0.50" fill="#2438c8" fill-opacity="0.3"/>
<circle cx="378.32" cy="349.26" r="0.50" fill="#2438c8" fill-opacity="0.3"/>
<circle cx="386.33" cy="336.15" r="0.50" fill="#2438c8" fill-opacity="0.3"/>
<circle cx="391.12" cy="343.19" r="0.50" fill="#2438c8" fill-opacity="0.3"/>
<circle cx="387.83" cy="326.89" r="0.50" fill="#2438c8" fill-opacity="0.3"/>
<circle cx="378.15" cy="325.70" r="0.50" fill="#2438c8" fill-opacity="0.3"/>
<circle cx="388.34" cy="345.62" r="0.50" fill="#2438c8" fill-opacity="0.3"/>
<circle cx="391.56" cy="349.01" r="0.50" fill="#2438c8" fill-opacity="0.3"/>
<circle cx="379.07" cy="339.03" r="0.50" fill="#2438c8" fill-opacity="0.3"/>
<circle cx="380.06" cy="332.70" r="0.50" fill="#2438c8" fill-opacity="0.3"/>
<circle cx="374.75" cy="350.72" r="0.50" fill="#2438c8" fill-opacity="0.3"/>
<circle cx="378.85" cy="342.90" r="0.50" fill="#2438c8" fill-opacity="0.3"/>
<circle cx="386.71" cy="335.74" r="0.50" fill="#2438c8" fill-opacity="0.3"/>
<circle cx="381.35" cy="337.71" r="0.50" fill="#2438c8" fill-opacity="0.3"/>
<circle cx="379.05" cy="351.39" r="0.50" fill="#2438c8" fill-opacity="0.3"/>
<circle cx="374.56" cy="340.74" r="0.50" fill="#2438c8" fill-opacity="0.3"/>
<circle cx="374.78" cy="351.53" r="0.50" fill="#2438c8" fill-opacity="0.3"/>
<circle cx="378.53" cy="363.31" r="0.50" fill="#2438c8" fill-opacity="0.3"/>
<circle cx="382.21" cy="351.21" r="0.50" fill="#2438c8" fill-opacity="0.3"/>
<circle cx="383.02" cy="357.51" r="0.50" fill="#2438c8" fill-opacity="0.3"/>
<circle cx="386.54" cy="350.38" r="0.50" fill="#2438c8" fill-opacity="0.3"/>
<circle cx="373.24" cy="330.46" r="0.50" fill="#2438c8" fill-opacity="0.3"/>
<circle cx="387.54" cy="341.24" r="0.50" fill="#2438c8" fill-opacity="0.3"/>
<circle cx="392.02" cy="350.17" r="0.50" fill="#2438c8" fill-opacity="0.3"/>
<circle cx="388.98" cy="354.53" r="0.50" fill="#2438c8" fill-opacity="0.3"/>
<circle cx="391.77" cy="351.05" r="0.50" fill="#2438c8" fill-opacity="0.3"/>
<circle cx="391.26" cy="341.79" r="0.50" fill="#2438c8" fill-opacity="0.3"/>
<circle cx="377.92" cy="329.20" r="0.50" fill="#2438c8" fill-opacity="0.3"/>
<circle cx="377.63" cy="360.48" r="0.50" fill="#2438c8" fill-opacity="0.3"/>
<circle cx="385.70" cy="326.53" r="0.50" fill="#2438c8" fill-opacity="0.3"/>
<circle cx="373.15" cy="343.18" r="0.50" fill="#2438c8" fill-opacity="0.3"/>
<circle cx="383.43" cy="339.20" r="0.50" fill="#2438c8" fill-opacity="0.3"/>
<circle cx="372.99" cy="335.24" r="0.50" fill="#2438c8" fill-opacity="0.3"/>
<circle cx="390.05" cy="353.74" r="0.50" fill="#2438c8" fill-opacity="0.3"/>
<circle cx="388.89" cy="335.56" r="0.50" fill="#2438c8" fill-opacity="0.3"/>
<circle cx="385.89" cy="332.67" r="0.50" fill="#2438c8" fill-opacity="0.3"/>
<circle cx="378.60" cy="362.95" r="0.50" fill="#2438c8" fill-opacity="0.3"/>
<circle cx="376.85" cy="336.47" r="0.50" fill="#2438c8" fill-opacity="0.3"/>
<circle cx="376.93" cy="359.44" r="0.50" fill="#2438c8" fill-opacity="0.3"/>
<circle cx="386.28" cy="348.38" r="0.50" fill="#2438c8" fill-opacity="0.3"/>
<circle cx="389.53" cy="343.30" r="0.50" fill="#2438c8" fill-opacity="0.3"/>
<circle cx="390.83" cy="355.80" r="0.50" fill="#2438c8" fill-opacity="0.3"/>
<circle cx="378.56" cy="334.22" r="0.50" fill="#2438c8" fill-opacity="0.3"/>
<circle cx="383.29" cy="342.60" r="0.50" fill="#2438c8" fill-opacity="0.3"/>
<circle cx="388.32" cy="350.83" r="0.50" fill="#2438c8" fill-opacity="0.3"/>
<circle cx="387.38" cy="348.87" r="0.50" fill="#2438c8" fill-opacity="0.3"/>
<circle cx="377.85" cy="354.48" r="0.50" fill="#2438c8" fill-opacity="0.3"/>
<circle cx="392.13" cy="350.22" r="0.50" fill="#2438c8" fill-opacity="0.3"/>
<circle cx="386.75" cy="334.12" r="0.50" fill="#2438c8" fill-opacity="0.3"/>
<circle cx="374.95" cy="342.68" r="0.50" fill="#2438c8" fill-opacity="0.3"/>
<circle cx="384.41" cy="353.82" r="0.50" fill="#2438c8" fill-opacity="0.3"/>
<circle cx="382.03" cy="346.49" r="0.50" fill="#2438c8" fill-opacity="0.3"/>
<circle cx="374.36" cy="326.71" r="0.50" fill="#2438c8" fill-opacity="0.3"/>
<circle cx="375.02" cy="337.52" r="0.50" fill="#2438c8" fill-opacity="0.3"/>
<circle cx="377.44" cy="330.50" r="0.50" fill="#2438c8" fill-opacity="0.3"/>
<circle cx="379.34" cy="338.24" r="0.50" fill="#2438c8" fill-opacity="0.3"/>
<circle cx="389.00" cy="362.11" r="0.50" fill="#2438c8" fill-opacity="0.3"/>
<circle cx="392.38" cy="354.22" r="0.50" fill="#2438c8" fill-opacity="0.3"/>
<circle cx="372.82" cy="334.30" r="0.50" fill="#2438c8" fill-opacity="0.3"/>
<circle cx="392.48" cy="352.57" r="0.50" fill="#2438c8" fill-opacity="0.3"/>
<circle cx="389.67" cy="332.77" r="0.50" fill="#2438c8" fill-opacity="0.3"/>
<circle cx="377.38" cy="328.72" r="0.50" fill="#2438c8" fill-opacity="0.3"/>
<circle cx="383.04" cy="339.39" r="0.50" fill="#2438c8" fill-opacity="0.3"/>
<circle cx="381.97" cy="330.32" r="0.50" fill="#2438c8" fill-opacity="0.3"/>
<circle cx="373.11" cy="340.21" r="0.50" fill="#2438c8" fill-opacity="0.3"/>
<circle cx="391.04" cy="350.84" r="0.50" fill="#2438c8" fill-opacity="0.3"/>
<circle cx="383.98" cy="327.32" r="0.50" fill="#2438c8" fill-opacity="0.3"/>
<circle cx="381.23" cy="339.53" r="0.50" fill="#2438c8" fill-opacity="0.3"/>
<circle cx="385.15" cy="340.87" r="0.50" fill="#2438c8" fill-opacity="0.3"/>
<circle cx="388.55" cy="335.77" r="0.50" fill="#2438c8" fill-opacity="0.3"/>
<circle cx="387.10" cy="324.99" r="0.50" fill="#2438c8" fill-opacity="0.3"/>
<circle cx="375.51" cy="356.60" r="0.50" fill="#2438c8" fill-opacity="0.3"/>
<circle cx="389.58" cy="336.91" r="0.50" fill="#2438c8" fill-opacity="0.3"/>
<circle cx="376.55" cy="363.15" r="0.50" fill="#2438c8" fill-opacity="0.3"/>
<circle cx="384.38" cy="328.37" r="0.50" fill="#2438c8" fill-opacity="0.3"/>
<circle cx="392.28" cy="347.38" r="0.50" fill="#2438c8" fill-opacity="0.3"/>
<circle cx="378.56" cy="344.99" r="0.50" fill="#2438c8" fill-opacity="0.3"/>
<circle cx="379.95" cy="347.84" r="0.50" fill="#2438c8" fill-opacity="0.3"/>
<circle cx="380.84" cy="339.80" r="0.50" fill="#2438c8" fill-opacity="0.3"/>
<circle cx="392.37" cy="327.82" r="0.50" fill="#ffffff" fill-opacity="0.35"/>
<circle cx="377.77" cy="358.78" r="0.50" fill="#ffffff" fill-opacity="0.35"/>
<circle cx="390.42" cy="347.39" r="0.50" fill="#ffffff" fill-opacity="0.35"/>
<circle cx="384.49" cy="358.30" r="0.50" fill="#ffffff" fill-opacity="0.35"/>
<circle cx="392.01" cy="360.16" r="0.50" fill="#ffffff" fill-opacity="0.35"/>
<circle cx="388.76" cy="345.20" r="0.50" fill="#ffffff" fill-opacity="0.35"/>
<circle cx="378.89" cy="351.07" r="0.50" fill="#ffffff" fill-opacity="0.35"/>
<circle cx="390.51" cy="355.57" r="0.50" fill="#ffffff" fill-opacity="0.35"/>
<circle cx="389.23" cy="356.85" r="0.50" fill="#ffffff" fill-opacity="0.35"/>
<circle cx="380.98" cy="351.11" r="0.50" fill="#ffffff" fill-opacity="0.35"/>
<circle cx="383.90" cy="350.95" r="0.50" fill="#ffffff" fill-opacity="0.35"/>
<circle cx="377.59" cy="333.43" r="0.50" fill="#ffffff" fill-opacity="0.35"/>
<circle cx="379.51" cy="358.25" r="0.50" fill="#ffffff" fill-opacity="0.35"/>
<circle cx="378.50" cy="339.12" r="0.50" fill="#ffffff" fill-opacity="0.35"/>
<circle cx="392.11" cy="341.31" r="0.50" fill="#ffffff" fill-opacity="0.35"/>
<circle cx="385.71" cy="349.79" r="0.50" fill="#ffffff" fill-opacity="0.35"/>
<circle cx="375.91" cy="347.51" r="0.50" fill="#ffffff" fill-opacity="0.35"/>
<circle cx="384.13" cy="350.60" r="0.50" fill="#ffffff" fill-opacity="0.35"/>
<circle cx="381.52" cy="349.98" r="0.50" fill="#ffffff" fill-opacity="0.35"/>
<circle cx="375.90" cy="358.92" r="0.50" fill="#ffffff" fill-opacity="0.35"/>
<circle cx="376.09" cy="348.07" r="0.50" fill="#ffffff" fill-opacity="0.35"/>
<circle cx="387.31" cy="346.72" r="0.50" fill="#ffffff" fill-opacity="0.35"/>
<circle cx="391.90" cy="329.45" r="0.50" fill="#ffffff" fill-opacity="0.35"/>
<circle cx="386.80" cy="343.30" r="0.50" fill="#ffffff" fill-opacity="0.35"/>
<circle cx="380.98" cy="344.62" r="0.50" fill="#ffffff" fill-opacity="0.35"/>
<circle cx="390.58" cy="328.47" r="0.50" fill="#ffffff" fill-opacity="0.35"/>
<circle cx="381.32" cy="343.90" r="0.50" fill="#ffffff" fill-opacity="0.35"/>
<circle cx="377.43" cy="358.57" r="0.50" fill="#ffffff" fill-opacity="0.35"/>
<circle cx="385.97" cy="335.35" r="0.50" fill="#ffffff" fill-opacity="0.35"/>
<circle cx="383.08" cy="353.43" r="0.50" fill="#ffffff" fill-opacity="0.35"/>
<circle cx="375.27" cy="337.46" r="0.50" fill="#ffffff" fill-opacity="0.35"/>
<circle cx="384.75" cy="355.80" r="0.50" fill="#ffffff" fill-opacity="0.35"/>
<circle cx="374.97" cy="326.86" r="0.50" fill="#ffffff" fill-opacity="0.35"/>
<circle cx="380.96" cy="349.02" r="0.50" fill="#ffffff" fill-opacity="0.35"/>
<circle cx="388.61" cy="341.27" r="0.50" fill="#ffffff" fill-opacity="0.35"/>
<circle cx="389.56" cy="334.71" r="0.50" fill="#ffffff" fill-opacity="0.35"/>
<circle cx="379.43" cy="329.67" r="0.50" fill="#ffffff" fill-opacity="0.35"/>
<circle cx="382.45" cy="346.17" r="0.50" fill="#ffffff" fill-opacity="0.35"/>
<circle cx="377.52" cy="344.96" r="0.50" fill="#ffffff" fill-opacity="0.35"/>
<circle cx="384.75" cy="327.58" r="0.50" fill="#ffffff" fill-opacity="0.35"/>
<circle cx="385.54" cy="325.80" r="0.50" fill="#ffffff" fill-opacity="0.35"/>
<circle cx="385.46" cy="328.25" r="0.50" fill="#ffffff" fill-opacity="0.35"/>
<circle cx="379.96" cy="354.54" r="0.50" fill="#ffffff" fill-opacity="0.35"/>
<circle cx="392.19" cy="334.49" r="0.50" fill="#ffffff" fill-opacity="0.35"/>
<circle cx="391.57" cy="358.58" r="0.50" fill="#ffffff" fill-opacity="0.35"/>
<circle cx="389.69" cy="333.53" r="0.50" fill="#ffffff" fill-opacity="0.35"/>
<circle cx="385.75" cy="324.84" r="0.50" fill="#ffffff" fill-opacity="0.35"/>
<circle cx="386.48" cy="328.90" r="0.50" fill="#ffffff" fill-opacity="0.35"/>
<circle cx="376.79" cy="346.03" r="0.50" fill="#ffffff" fill-opacity="0.35"/>
<circle cx="376.49" cy="327.28" r="0.50" fill="#ffffff" fill-opacity="0.35"/>
<circle cx="373.17" cy="336.43" r="0.50" fill="#ffffff" fill-opacity="0.35"/>
<circle cx="386.22" cy="329.15" r="0.50" fill="#ffffff" fill-opacity="0.35"/>
<circle cx="386.27" cy="349.42" r="0.50" fill="#ffffff" fill-opacity="0.35"/>
<circle cx="377.58" cy="328.29" r="0.50" fill="#ffffff" fill-opacity="0.35"/>
<circle cx="385.61" cy="340.18" r="0.50" fill="#ffffff" fill-opacity="0.35"/>
<circle cx="388.61" cy="325.05" r="0.50" fill="#ffffff" fill-opacity="0.35"/>
<circle cx="379.82" cy="348.14" r="0.50" fill="#ffffff" fill-opacity="0.35"/>
<circle cx="384.30" cy="340.34" r="0.50" fill="#ffffff" fill-opacity="0.35"/>
<circle cx="386.29" cy="352.26" r="0.50" fill="#ffffff" fill-opacity="0.35"/>
<circle cx="387.23" cy="349.90" r="0.50" fill="#ffffff" fill-opacity="0.35"/>
<circle cx="376.62" cy="344.02" r="0.50" fill="#ffffff" fill-opacity="0.35"/>
<circle cx="375.76" cy="357.92" r="0.50" fill="#ffffff" fill-opacity="0.35"/>
<circle cx="381.63" cy="331.91" r="0.50" fill="#ffffff" fill-opacity="0.35"/>
<circle cx="390.00" cy="347.94" r="0.50" fill="#ffffff" fill-opacity="0.35"/>
<circle cx="383.76" cy="333.78" r="0.50" fill="#ffffff" fill-opacity="0.35"/>
<circle cx="382.87" cy="350.47" r="0.50" fill="#ffffff" fill-opacity="0.35"/>
<circle cx="375.75" cy="332.32" r="0.50" fill="#ffffff" fill-opacity="0.35"/>
<circle cx="382.89" cy="324.95" r="0.50" fill="#ffffff" fill-opacity="0.35"/>
<circle cx="381.42" cy="359.38" r="0.50" fill="#ffffff" fill-opacity="0.35"/>
<circle cx="382.10" cy="343.08" r="0.50" fill="#ffffff" fill-opacity="0.35"/>
<circle cx="380.34" cy="343.48" r="0.50" fill="#ffffff" fill-opacity="0.35"/>
<circle cx="375.80" cy="325.48" r="0.50" fill="#ffffff" fill-opacity="0.35"/>
<circle cx="386.40" cy="349.40" r="0.50" fill="#ffffff" fill-opacity="0.35"/>
<circle cx="386.42" cy="358.51" r="0.50" fill="#ffffff" fill-opacity="0.35"/>
<circle cx="377.41" cy="349.68" r="0.50" fill="#ffffff" fill-opacity="0.35"/>
<circle cx="382.73" cy="351.29" r="0.50" fill="#ffffff" fill-opacity="0.35"/>
<circle cx="378.45" cy="362.82" r="0.50" fill="#ffffff" fill-opacity="0.35"/>
<circle cx="391.54" cy="327.85" r="0.50" fill="#ffffff" fill-opacity="0.35"/>
<circle cx="376.92" cy="336.11" r="0.50" fill="#ffffff" fill-opacity="0.35"/>
<circle cx="374.08" cy="332.12" r="0.50" fill="#ffffff" fill-opacity="0.35"/>
<circle cx="382.50" cy="357.66" r="0.50" fill="#ffffff" fill-opacity="0.35"/>
<circle cx="387.61" cy="358.05" r="0.50" fill="#ffffff" fill-opacity="0.35"/>
<circle cx="388.70" cy="354.64" r="0.50" fill="#ffffff" fill-opacity="0.35"/>
<circle cx="388.54" cy="348.34" r="0.50" fill="#ffffff" fill-opacity="0.35"/>
<circle cx="386.73" cy="354.94" r="0.50" fill="#ffffff" fill-opacity="0.35"/>
<circle cx="373.60" cy="336.87" r="0.50" fill="#ffffff" fill-opacity="0.35"/>
<circle cx="390.05" cy="363.05" r="0.50" fill="#ffffff" fill-opacity="0.35"/>
<circle cx="373.21" cy="337.08" r="0.50" fill="#ffffff" fill-opacity="0.35"/>
<circle cx="376.18" cy="353.62" r="0.50" fill="#ffffff" fill-opacity="0.35"/>
<circle cx="384.88" cy="352.42" r="0.50" fill="#ffffff" fill-opacity="0.35"/>
<rect x="393.00" y="324.30" width="20.60" height="24.90" fill="#f0f1fc"/>
<rect x="393.00" y="349.20" width="20.60" height="16.00" fill="#f2f3fc"/>
<circle cx="410.70" cy="343.22" r="0.50" fill="#5064e0" fill-opacity="0.3"/>
<circle cx="397.65" cy="334.55" r="0.50" fill="#5064e0" fill-opacity="0.3"/>
<circle cx="402.50" cy="329.08" r="0.50" fill="#5064e0" fill-opacity="0.3"/>
<circle cx="404.89" cy="329.72" r="0.50" fill="#5064e0" fill-opacity="0.3"/>
<circle cx="399.27" cy="326.78" r="0.50" fill="#5064e0" fill-opacity="0.3"/>
<circle cx="399.50" cy="339.24" r="0.50" fill="#5064e0" fill-opacity="0.3"/>
<circle cx="403.40" cy="335.20" r="0.50" fill="#5064e0" fill-opacity="0.3"/>
<circle cx="398.24" cy="340.77" r="0.50" fill="#5064e0" fill-opacity="0.3"/>
<circle cx="398.02" cy="339.72" r="0.50" fill="#5064e0" fill-opacity="0.3"/>
<circle cx="401.00" cy="331.95" r="0.50" fill="#5064e0" fill-opacity="0.3"/>
<circle cx="408.23" cy="340.58" r="0.50" fill="#5064e0" fill-opacity="0.3"/>
<circle cx="400.78" cy="340.76" r="0.50" fill="#5064e0" fill-opacity="0.3"/>
<circle cx="412.40" cy="338.21" r="0.50" fill="#5064e0" fill-opacity="0.3"/>
<circle cx="395.16" cy="342.64" r="0.50" fill="#5064e0" fill-opacity="0.3"/>
<circle cx="408.76" cy="340.49" r="0.50" fill="#5064e0" fill-opacity="0.3"/>
<circle cx="403.35" cy="332.72" r="0.50" fill="#5064e0" fill-opacity="0.3"/>
<circle cx="396.03" cy="339.20" r="0.50" fill="#5064e0" fill-opacity="0.3"/>
<circle cx="402.32" cy="346.73" r="0.50" fill="#5064e0" fill-opacity="0.3"/>
<circle cx="411.06" cy="339.87" r="0.50" fill="#5064e0" fill-opacity="0.3"/>
<circle cx="410.27" cy="342.13" r="0.50" fill="#5064e0" fill-opacity="0.3"/>
<circle cx="404.83" cy="338.68" r="0.50" fill="#5064e0" fill-opacity="0.3"/>
<circle cx="400.58" cy="341.86" r="0.50" fill="#5064e0" fill-opacity="0.3"/>
<circle cx="402.20" cy="329.99" r="0.50" fill="#5064e0" fill-opacity="0.3"/>
<circle cx="404.65" cy="338.08" r="0.50" fill="#5064e0" fill-opacity="0.3"/>
<circle cx="396.65" cy="331.69" r="0.50" fill="#5064e0" fill-opacity="0.3"/>
<circle cx="399.07" cy="327.99" r="0.50" fill="#5064e0" fill-opacity="0.3"/>
<circle cx="395.83" cy="334.01" r="0.50" fill="#5064e0" fill-opacity="0.3"/>
<circle cx="404.06" cy="331.97" r="0.50" fill="#5064e0" fill-opacity="0.3"/>
<circle cx="406.37" cy="333.38" r="0.50" fill="#5064e0" fill-opacity="0.3"/>
<circle cx="412.53" cy="338.61" r="0.50" fill="#5064e0" fill-opacity="0.3"/>
<circle cx="400.43" cy="337.06" r="0.50" fill="#5064e0" fill-opacity="0.3"/>
<circle cx="405.42" cy="327.29" r="0.50" fill="#5064e0" fill-opacity="0.3"/>
<circle cx="405.78" cy="332.30" r="0.50" fill="#5064e0" fill-opacity="0.3"/>
<circle cx="403.08" cy="340.65" r="0.50" fill="#5064e0" fill-opacity="0.3"/>
<circle cx="396.83" cy="335.43" r="0.50" fill="#5064e0" fill-opacity="0.3"/>
<circle cx="398.60" cy="336.70" r="0.50" fill="#5064e0" fill-opacity="0.3"/>
<circle cx="402.40" cy="344.48" r="0.50" fill="#5064e0" fill-opacity="0.3"/>
<circle cx="407.37" cy="330.29" r="0.50" fill="#5064e0" fill-opacity="0.3"/>
<circle cx="411.38" cy="345.40" r="0.50" fill="#5064e0" fill-opacity="0.3"/>
<circle cx="397.00" cy="332.05" r="0.50" fill="#5064e0" fill-opacity="0.3"/>
<circle cx="401.77" cy="330.89" r="0.50" fill="#5064e0" fill-opacity="0.3"/>
<circle cx="399.68" cy="336.66" r="0.50" fill="#5064e0" fill-opacity="0.3"/>
<circle cx="396.86" cy="341.33" r="0.50" fill="#5064e0" fill-opacity="0.3"/>
<circle cx="410.78" cy="345.21" r="0.50" fill="#5064e0" fill-opacity="0.3"/>
<circle cx="400.86" cy="347.23" r="0.50" fill="#5064e0" fill-opacity="0.3"/>
<circle cx="403.24" cy="341.59" r="0.50" fill="#5064e0" fill-opacity="0.3"/>
<circle cx="408.86" cy="341.88" r="0.50" fill="#5064e0" fill-opacity="0.3"/>
<circle cx="408.33" cy="332.84" r="0.50" fill="#5064e0" fill-opacity="0.3"/>
<circle cx="405.38" cy="355.98" r="0.50" fill="#5064e0" fill-opacity="0.3"/>
<circle cx="394.98" cy="356.59" r="0.50" fill="#5064e0" fill-opacity="0.3"/>
<circle cx="403.17" cy="354.28" r="0.50" fill="#5064e0" fill-opacity="0.3"/>
<circle cx="398.46" cy="355.87" r="0.50" fill="#5064e0" fill-opacity="0.3"/>
<circle cx="395.58" cy="359.95" r="0.50" fill="#5064e0" fill-opacity="0.3"/>
<circle cx="410.91" cy="353.59" r="0.50" fill="#5064e0" fill-opacity="0.3"/>
<circle cx="398.79" cy="354.11" r="0.50" fill="#5064e0" fill-opacity="0.3"/>
<circle cx="405.01" cy="355.92" r="0.50" fill="#5064e0" fill-opacity="0.3"/>
<circle cx="399.16" cy="358.99" r="0.50" fill="#5064e0" fill-opacity="0.3"/>
<circle cx="397.65" cy="349.85" r="0.50" fill="#5064e0" fill-opacity="0.3"/>
<circle cx="398.43" cy="351.44" r="0.50" fill="#5064e0" fill-opacity="0.3"/>
<circle cx="410.73" cy="356.61" r="0.50" fill="#5064e0" fill-opacity="0.3"/>
<circle cx="408.24" cy="352.31" r="0.50" fill="#5064e0" fill-opacity="0.3"/>
<circle cx="404.48" cy="351.33" r="0.50" fill="#5064e0" fill-opacity="0.3"/>
<circle cx="408.95" cy="362.48" r="0.50" fill="#5064e0" fill-opacity="0.3"/>
<circle cx="395.83" cy="361.60" r="0.50" fill="#5064e0" fill-opacity="0.3"/>
<circle cx="406.64" cy="354.24" r="0.50" fill="#5064e0" fill-opacity="0.3"/>
<circle cx="400.03" cy="362.04" r="0.50" fill="#5064e0" fill-opacity="0.3"/>
<circle cx="409.17" cy="351.60" r="0.50" fill="#5064e0" fill-opacity="0.3"/>
<circle cx="403.34" cy="352.66" r="0.50" fill="#5064e0" fill-opacity="0.3"/>
<circle cx="398.18" cy="354.75" r="0.50" fill="#5064e0" fill-opacity="0.3"/>
<circle cx="405.80" cy="362.49" r="0.50" fill="#5064e0" fill-opacity="0.3"/>
<circle cx="406.73" cy="358.86" r="0.50" fill="#5064e0" fill-opacity="0.3"/>
<circle cx="403.53" cy="358.34" r="0.50" fill="#5064e0" fill-opacity="0.3"/>
<circle cx="400.92" cy="362.82" r="0.50" fill="#5064e0" fill-opacity="0.3"/>
<circle cx="412.59" cy="358.32" r="0.50" fill="#5064e0" fill-opacity="0.3"/>
<circle cx="397.83" cy="354.74" r="0.50" fill="#5064e0" fill-opacity="0.3"/>
<circle cx="400.52" cy="355.59" r="0.50" fill="#5064e0" fill-opacity="0.3"/>
<circle cx="400.85" cy="361.74" r="0.50" fill="#5064e0" fill-opacity="0.3"/>
<circle cx="406.48" cy="352.24" r="0.50" fill="#5064e0" fill-opacity="0.3"/>
<circle cx="403.17" cy="359.10" r="0.50" fill="#5064e0" fill-opacity="0.3"/>
<circle cx="398.98" cy="356.28" r="0.50" fill="#5064e0" fill-opacity="0.3"/>
<circle cx="397.49" cy="358.46" r="0.50" fill="#5064e0" fill-opacity="0.3"/>
<circle cx="395.70" cy="358.13" r="0.50" fill="#5064e0" fill-opacity="0.3"/>
<rect x="372.10" y="324.30" width="41.50" height="40.90" fill="none" stroke="#151515" stroke-width="1.5"/>
<line x1="393.00" y1="324.30" x2="393.00" y2="365.20" stroke="#151515" stroke-width="1.4"/>
<line x1="372.10" y1="349.20" x2="413.60" y2="349.20" stroke="#151515" stroke-width="1.4"/>
<text x="378.90" y="331.20" font-size="5.4" text-anchor="middle" font-weight="bold" fill="#151515">30</text>
<text x="411.20" y="331.20" font-size="5.4" text-anchor="end" font-weight="bold" fill="#151515">4</text>
<text x="378.90" y="361.40" font-size="5.4" text-anchor="middle" font-weight="bold" fill="#151515">60</text>
<text x="411.20" y="361.40" font-size="5.4" text-anchor="end" font-weight="bold" fill="#151515">6</text>
<text x="387.00" y="372.00" font-size="5.6" text-anchor="middle" font-weight="normal" fill="#151515">10<tspan font-size="3.92" dy="-2.24">2</tspan><tspan dy="2.24"></tspan></text>
<text x="403.20" y="372.00" font-size="5.6" text-anchor="middle" font-weight="normal" fill="#151515">10<tspan font-size="3.92" dy="-2.24">4</tspan><tspan dy="2.24"></tspan></text>
<text x="240.80" y="339.40" font-size="5.6" text-anchor="end" font-weight="normal" fill="#151515">10<tspan font-size="3.92" dy="-2.24">4</tspan><tspan dy="2.24"></tspan></text>
<text x="240.80" y="355.60" font-size="5.6" text-anchor="end" font-weight="normal" fill="#151515">10<tspan font-size="3.92" dy="-2.24">2</tspan><tspan dy="2.24"></tspan></text>
<line x1="228.30" y1="377.82" x2="228.30" y2="333.40" stroke="#151515" stroke-width="1.25"/>
<line x1="227.68" y1="377.20" x2="407.60" y2="377.20" stroke="#151515" stroke-width="1.25"/>
<path d="M228.30,325.00 L232.00,335.50 Q228.30,334.03 224.60,335.50 Z" fill="#151515"/>
<path d="M416.00,377.20 L405.50,373.50 Q406.97,377.20 405.50,380.90 Z" fill="#151515"/>
<text x="224.80" y="353.80" font-size="6.0" text-anchor="middle" font-weight="normal" fill="#151515" transform="rotate(-90 224.80 353.80)">IFN-&#947;</text>
<text x="319.20" y="382.80" font-size="6.4" text-anchor="middle" font-weight="normal" fill="#151515">IL-17A</text>
<text x="-0.80" y="402.30" font-size="14.0" text-anchor="start" font-weight="normal" fill="#151515">J</text>
<line x1="16.20" y1="498.43" x2="16.20" y2="435.40" stroke="#151515" stroke-width="1.25"/>
<line x1="15.57" y1="497.80" x2="145.10" y2="497.80" stroke="#151515" stroke-width="1.25"/>
<path d="M16.20,427.00 L19.90,437.50 Q16.20,436.03 12.50,437.50 Z" fill="#151515"/>
<path d="M153.50,497.80 L143.00,494.10 Q144.47,497.80 143.00,501.50 Z" fill="#151515"/>
<text x="12.40" y="461.80" font-size="6.4" text-anchor="middle" font-weight="bold" fill="#151515" transform="rotate(-90 12.40 461.80)">Frequency (%)</text>
<text x="87.50" y="504.50" font-size="6.1" text-anchor="middle" font-weight="bold" fill="#151515">Treatment</text>
<line x1="27.00" y1="425.98" x2="27.00" y2="483.52" stroke="#151515" stroke-width="1.05"/>
<line x1="25.30" y1="426.50" x2="27.00" y2="426.50" stroke="#151515" stroke-width="1.05"/>
<line x1="25.30" y1="440.62" x2="27.00" y2="440.62" stroke="#151515" stroke-width="1.05"/>
<line x1="25.30" y1="454.75" x2="27.00" y2="454.75" stroke="#151515" stroke-width="1.05"/>
<line x1="25.30" y1="468.88" x2="27.00" y2="468.88" stroke="#151515" stroke-width="1.05"/>
<line x1="25.30" y1="483.00" x2="27.00" y2="483.00" stroke="#151515" stroke-width="1.05"/>
<text x="24.50" y="428.16" font-size="4.6" text-anchor="end" font-weight="bold" fill="#151515">20</text>
<text x="24.50" y="484.66" font-size="4.6" text-anchor="end" font-weight="bold" fill="#151515">0</text>
<line x1="26.48" y1="483.00" x2="82.50" y2="483.00" stroke="#151515" stroke-width="1.05"/>
<text x="34.90" y="488.00" font-size="4.5" text-anchor="middle" font-weight="bold" fill="#151515">None</text>
<text x="49.20" y="488.00" font-size="4.5" text-anchor="middle" font-weight="bold" fill="#151515">IL-4</text>
<text x="62.60" y="488.00" font-size="4.5" text-anchor="middle" font-weight="bold" fill="#151515">IL-13</text>
<text x="76.70" y="488.00" font-size="4.5" text-anchor="middle" font-weight="bold" fill="#151515">IL-4+</text>
<text x="76.70" y="492.50" font-size="4.5" text-anchor="middle" font-weight="bold" fill="#151515">IL-13</text>
<text x="55.80" y="410.40" font-size="6.3" text-anchor="middle" font-weight="bold" fill="#151515">SP IL-17A<tspan font-size="3.91" dy="-2">+</tspan></text>
<line x1="30.10" y1="479.00" x2="39.70" y2="479.00" stroke="#151515" stroke-width="1.0"/>
<circle cx="34.24" cy="467.00" r="1.30" fill="#26c19a"/>
<circle cx="31.53" cy="475.35" r="1.30" fill="#26c19a"/>
<circle cx="33.58" cy="479.15" r="1.30" fill="#26c19a"/>
<circle cx="31.15" cy="471.81" r="1.30" fill="#26c19a"/>
<circle cx="32.47" cy="471.81" r="1.30" fill="#26c19a"/>
<circle cx="35.94" cy="477.40" r="1.30" fill="#26c19a"/>
<circle cx="35.90" cy="474.29" r="1.30" fill="#26c19a"/>
<circle cx="30.87" cy="472.39" r="1.30" fill="#26c19a"/>
<circle cx="34.79" cy="473.08" r="1.30" fill="#26c19a"/>
<circle cx="34.23" cy="471.95" r="1.30" fill="#26c19a"/>
<circle cx="34.02" cy="469.51" r="1.30" fill="#26c19a"/>
<circle cx="31.76" cy="476.48" r="1.30" fill="#26c19a"/>
<circle cx="33.98" cy="480.41" r="1.30" fill="#26c19a"/>
<circle cx="31.48" cy="477.33" r="1.30" fill="#26c19a"/>
<circle cx="36.50" cy="476.52" r="1.30" fill="#26c19a"/>
<circle cx="36.19" cy="472.06" r="1.30" fill="#26c19a"/>
<circle cx="36.01" cy="473.50" r="1.30" fill="#26c19a"/>
<circle cx="34.10" cy="469.16" r="1.30" fill="#26c19a"/>
<circle cx="38.83" cy="477.93" r="1.30" fill="#26c19a"/>
<circle cx="33.77" cy="471.45" r="1.30" fill="#26c19a"/>
<circle cx="32.35" cy="471.38" r="1.30" fill="#26c19a"/>
<circle cx="33.81" cy="481.71" r="1.30" fill="#26c19a"/>
<circle cx="38.45" cy="472.11" r="1.30" fill="#26c19a"/>
<circle cx="31.96" cy="481.68" r="1.30" fill="#26c19a"/>
<circle cx="37.17" cy="476.27" r="1.30" fill="#26c19a"/>
<circle cx="38.67" cy="478.42" r="1.30" fill="#26c19a"/>
<circle cx="37.93" cy="476.42" r="1.30" fill="#26c19a"/>
<circle cx="34.60" cy="469.68" r="1.30" fill="#26c19a"/>
<circle cx="34.47" cy="477.69" r="1.30" fill="#26c19a"/>
<circle cx="38.10" cy="470.88" r="1.30" fill="#26c19a"/>
<circle cx="36.71" cy="473.12" r="1.30" fill="#26c19a"/>
<circle cx="37.54" cy="468.96" r="1.30" fill="#26c19a"/>
<circle cx="32.13" cy="467.88" r="1.30" fill="#26c19a"/>
<circle cx="35.83" cy="472.51" r="1.30" fill="#26c19a"/>
<circle cx="36.95" cy="467.21" r="1.30" fill="#26c19a"/>
<circle cx="32.65" cy="472.78" r="1.30" fill="#26c19a"/>
<circle cx="32.38" cy="479.75" r="1.30" fill="#26c19a"/>
<circle cx="37.83" cy="482.00" r="1.30" fill="#26c19a"/>
<line x1="44.40" y1="473.00" x2="54.00" y2="473.00" stroke="#151515" stroke-width="1.0"/>
<circle cx="49.84" cy="469.60" r="1.30" fill="#f68c22"/>
<circle cx="46.33" cy="473.53" r="1.30" fill="#f68c22"/>
<circle cx="49.89" cy="474.26" r="1.30" fill="#f68c22"/>
<circle cx="46.79" cy="472.07" r="1.30" fill="#f68c22"/>
<circle cx="48.30" cy="471.98" r="1.30" fill="#f68c22"/>
<circle cx="46.60" cy="470.62" r="1.30" fill="#f68c22"/>
<circle cx="49.18" cy="473.46" r="1.30" fill="#f68c22"/>
<circle cx="46.23" cy="471.01" r="1.30" fill="#f68c22"/>
<circle cx="47.66" cy="478.21" r="1.30" fill="#f68c22"/>
<circle cx="47.33" cy="479.20" r="1.30" fill="#f68c22"/>
<line x1="57.80" y1="470.50" x2="67.40" y2="470.50" stroke="#151515" stroke-width="1.0"/>
<circle cx="59.51" cy="460.00" r="1.30" fill="#1c1cd8"/>
<circle cx="60.04" cy="477.03" r="1.30" fill="#1c1cd8"/>
<circle cx="62.71" cy="470.59" r="1.30" fill="#1c1cd8"/>
<circle cx="61.48" cy="474.32" r="1.30" fill="#1c1cd8"/>
<circle cx="65.61" cy="473.27" r="1.30" fill="#1c1cd8"/>
<circle cx="60.50" cy="469.72" r="1.30" fill="#1c1cd8"/>
<circle cx="60.02" cy="478.30" r="1.30" fill="#1c1cd8"/>
<line x1="71.90" y1="469.20" x2="81.50" y2="469.20" stroke="#151515" stroke-width="1.0"/>
<circle cx="79.02" cy="451.30" r="1.30" fill="#ea1d26"/>
<circle cx="77.75" cy="468.71" r="1.30" fill="#ea1d26"/>
<circle cx="77.52" cy="452.82" r="1.30" fill="#ea1d26"/>
<circle cx="80.05" cy="461.18" r="1.30" fill="#ea1d26"/>
<circle cx="77.62" cy="464.05" r="1.30" fill="#ea1d26"/>
<circle cx="75.37" cy="474.91" r="1.30" fill="#ea1d26"/>
<circle cx="78.06" cy="473.66" r="1.30" fill="#ea1d26"/>
<circle cx="79.68" cy="476.37" r="1.30" fill="#ea1d26"/>
<circle cx="74.45" cy="466.68" r="1.30" fill="#ea1d26"/>
<circle cx="79.81" cy="478.22" r="1.30" fill="#ea1d26"/>
<circle cx="76.11" cy="464.80" r="1.30" fill="#ea1d26"/>
<circle cx="73.99" cy="459.59" r="1.30" fill="#ea1d26"/>
<circle cx="76.76" cy="480.00" r="1.30" fill="#ea1d26"/>
<path d="M34.90,421.20 L34.90,419.50 L76.70,419.50 L76.70,421.20" stroke="#151515" stroke-width="1.1" fill="none"/>
<text x="55.80" y="420.39" font-size="7.0" text-anchor="middle" font-weight="bold" fill="#151515" letter-spacing="-0.6">***</text>
<path d="M34.90,424.20 L34.90,422.50 L62.60,422.50 L62.60,424.20" stroke="#151515" stroke-width="1.1" fill="none"/>
<text x="48.75" y="423.39" font-size="7.0" text-anchor="middle" font-weight="bold" fill="#151515" letter-spacing="-0.6">**</text>
<path d="M34.90,428.60 L34.90,426.90 L49.20,426.90 L49.20,428.60" stroke="#151515" stroke-width="1.1" fill="none"/>
<text x="42.05" y="427.79" font-size="7.0" text-anchor="middle" font-weight="bold" fill="#151515" letter-spacing="-0.6">***</text>
<line x1="96.30" y1="426.18" x2="96.30" y2="483.52" stroke="#151515" stroke-width="1.05"/>
<line x1="94.60" y1="426.70" x2="96.30" y2="426.70" stroke="#151515" stroke-width="1.05"/>
<line x1="94.60" y1="440.77" x2="96.30" y2="440.77" stroke="#151515" stroke-width="1.05"/>
<line x1="94.60" y1="454.85" x2="96.30" y2="454.85" stroke="#151515" stroke-width="1.05"/>
<line x1="94.60" y1="468.93" x2="96.30" y2="468.93" stroke="#151515" stroke-width="1.05"/>
<line x1="94.60" y1="483.00" x2="96.30" y2="483.00" stroke="#151515" stroke-width="1.05"/>
<line x1="95.77" y1="483.00" x2="150.40" y2="483.00" stroke="#151515" stroke-width="1.05"/>
<text x="103.30" y="488.00" font-size="4.5" text-anchor="middle" font-weight="bold" fill="#151515">None</text>
<text x="118.10" y="488.00" font-size="4.5" text-anchor="middle" font-weight="bold" fill="#151515">IL-4</text>
<text x="132.10" y="488.00" font-size="4.5" text-anchor="middle" font-weight="bold" fill="#151515">IL-13</text>
<text x="145.20" y="488.00" font-size="4.5" text-anchor="middle" font-weight="bold" fill="#151515">IL-4+</text>
<text x="145.20" y="492.50" font-size="4.5" text-anchor="middle" font-weight="bold" fill="#151515">IL-13</text>
<text x="124.25" y="410.40" font-size="6.3" text-anchor="middle" font-weight="bold" fill="#151515">MLN IL-17A<tspan font-size="3.91" dy="-2">+</tspan></text>
<line x1="98.50" y1="474.00" x2="108.10" y2="474.00" stroke="#151515" stroke-width="1.0"/>
<circle cx="99.87" cy="455.60" r="1.30" fill="#26c19a"/>
<circle cx="102.14" cy="460.17" r="1.30" fill="#26c19a"/>
<circle cx="106.79" cy="481.22" r="1.30" fill="#26c19a"/>
<circle cx="107.50" cy="461.89" r="1.30" fill="#26c19a"/>
<circle cx="106.28" cy="467.87" r="1.30" fill="#26c19a"/>
<circle cx="102.18" cy="479.30" r="1.30" fill="#26c19a"/>
<circle cx="103.87" cy="464.99" r="1.30" fill="#26c19a"/>
<circle cx="106.71" cy="469.01" r="1.30" fill="#26c19a"/>
<circle cx="101.95" cy="459.86" r="1.30" fill="#26c19a"/>
<circle cx="102.43" cy="480.97" r="1.30" fill="#26c19a"/>
<circle cx="105.14" cy="481.61" r="1.30" fill="#26c19a"/>
<circle cx="101.95" cy="460.13" r="1.30" fill="#26c19a"/>
<circle cx="103.08" cy="458.84" r="1.30" fill="#26c19a"/>
<circle cx="102.11" cy="468.08" r="1.30" fill="#26c19a"/>
<circle cx="106.08" cy="469.29" r="1.30" fill="#26c19a"/>
<circle cx="103.46" cy="476.07" r="1.30" fill="#26c19a"/>
<circle cx="99.84" cy="464.65" r="1.30" fill="#26c19a"/>
<circle cx="99.14" cy="471.18" r="1.30" fill="#26c19a"/>
<circle cx="104.53" cy="459.83" r="1.30" fill="#26c19a"/>
<circle cx="100.00" cy="461.21" r="1.30" fill="#26c19a"/>
<circle cx="104.76" cy="457.68" r="1.30" fill="#26c19a"/>
<circle cx="100.91" cy="470.01" r="1.30" fill="#26c19a"/>
<circle cx="103.57" cy="470.46" r="1.30" fill="#26c19a"/>
<circle cx="101.95" cy="471.89" r="1.30" fill="#26c19a"/>
<circle cx="104.63" cy="480.30" r="1.30" fill="#26c19a"/>
<circle cx="100.14" cy="463.69" r="1.30" fill="#26c19a"/>
<circle cx="102.52" cy="464.65" r="1.30" fill="#26c19a"/>
<circle cx="104.65" cy="467.82" r="1.30" fill="#26c19a"/>
<circle cx="101.23" cy="480.57" r="1.30" fill="#26c19a"/>
<circle cx="107.53" cy="463.72" r="1.30" fill="#26c19a"/>
<circle cx="107.53" cy="463.27" r="1.30" fill="#26c19a"/>
<circle cx="107.32" cy="466.87" r="1.30" fill="#26c19a"/>
<circle cx="107.01" cy="473.81" r="1.30" fill="#26c19a"/>
<circle cx="107.10" cy="462.98" r="1.30" fill="#26c19a"/>
<circle cx="103.91" cy="460.17" r="1.30" fill="#26c19a"/>
<circle cx="106.20" cy="474.92" r="1.30" fill="#26c19a"/>
<circle cx="102.49" cy="470.78" r="1.30" fill="#26c19a"/>
<circle cx="99.57" cy="470.89" r="1.30" fill="#26c19a"/>
<circle cx="106.96" cy="455.96" r="1.30" fill="#26c19a"/>
<circle cx="106.91" cy="482.00" r="1.30" fill="#26c19a"/>
<line x1="113.30" y1="471.30" x2="122.90" y2="471.30" stroke="#151515" stroke-width="1.0"/>
<circle cx="115.56" cy="457.40" r="1.30" fill="#f68c22"/>
<circle cx="114.81" cy="465.88" r="1.30" fill="#f68c22"/>
<circle cx="119.36" cy="462.70" r="1.30" fill="#f68c22"/>
<circle cx="115.13" cy="473.51" r="1.30" fill="#f68c22"/>
<circle cx="116.57" cy="461.21" r="1.30" fill="#f68c22"/>
<circle cx="118.81" cy="475.78" r="1.30" fill="#f68c22"/>
<circle cx="116.76" cy="458.24" r="1.30" fill="#f68c22"/>
<circle cx="114.86" cy="466.51" r="1.30" fill="#f68c22"/>
<circle cx="120.16" cy="475.08" r="1.30" fill="#f68c22"/>
<circle cx="119.66" cy="480.00" r="1.30" fill="#f68c22"/>
<line x1="127.30" y1="469.60" x2="136.90" y2="469.60" stroke="#151515" stroke-width="1.0"/>
<circle cx="132.26" cy="461.70" r="1.30" fill="#1c1cd8"/>
<circle cx="129.75" cy="463.10" r="1.30" fill="#1c1cd8"/>
<circle cx="134.63" cy="468.49" r="1.30" fill="#1c1cd8"/>
<circle cx="133.38" cy="475.20" r="1.30" fill="#1c1cd8"/>
<circle cx="132.32" cy="468.86" r="1.30" fill="#1c1cd8"/>
<circle cx="132.05" cy="465.26" r="1.30" fill="#1c1cd8"/>
<circle cx="130.98" cy="474.82" r="1.30" fill="#1c1cd8"/>
<circle cx="131.82" cy="475.70" r="1.30" fill="#1c1cd8"/>
<line x1="140.40" y1="465.60" x2="150.00" y2="465.60" stroke="#151515" stroke-width="1.0"/>
<circle cx="145.84" cy="445.20" r="1.30" fill="#ea1d26"/>
<circle cx="145.55" cy="445.87" r="1.30" fill="#ea1d26"/>
<circle cx="145.59" cy="469.44" r="1.30" fill="#ea1d26"/>
<circle cx="145.87" cy="470.84" r="1.30" fill="#ea1d26"/>
<circle cx="148.10" cy="446.16" r="1.30" fill="#ea1d26"/>
<circle cx="147.73" cy="449.81" r="1.30" fill="#ea1d26"/>
<circle cx="147.91" cy="469.44" r="1.30" fill="#ea1d26"/>
<circle cx="146.52" cy="456.97" r="1.30" fill="#ea1d26"/>
<circle cx="147.03" cy="450.00" r="1.30" fill="#ea1d26"/>
<circle cx="146.99" cy="468.93" r="1.30" fill="#ea1d26"/>
<circle cx="146.89" cy="478.61" r="1.30" fill="#ea1d26"/>
<circle cx="146.50" cy="479.20" r="1.30" fill="#ea1d26"/>
<path d="M103.30,421.60 L103.30,419.90 L145.20,419.90 L145.20,421.60" stroke="#151515" stroke-width="1.1" fill="none"/>
<text x="124.25" y="420.79" font-size="7.0" text-anchor="middle" font-weight="bold" fill="#151515" letter-spacing="-0.6">*</text>
<text x="156.40" y="402.40" font-size="14.0" text-anchor="start" font-weight="normal" fill="#151515">K</text>
<line x1="172.70" y1="498.43" x2="172.70" y2="435.40" stroke="#151515" stroke-width="1.25"/>
<line x1="172.07" y1="497.80" x2="296.60" y2="497.80" stroke="#151515" stroke-width="1.25"/>
<path d="M172.70,427.00 L176.40,437.50 Q172.70,436.03 169.00,437.50 Z" fill="#151515"/>
<path d="M305.00,497.80 L294.50,494.10 Q295.97,497.80 294.50,501.50 Z" fill="#151515"/>
<text x="170.40" y="461.50" font-size="6.7" text-anchor="middle" font-weight="bold" fill="#151515" transform="rotate(-90 170.40 461.50)">Cell (X10<tspan font-size="3.6" dy="-2">6</tspan><tspan dy="2">)</tspan></text>
<text x="245.00" y="504.50" font-size="6.1" text-anchor="middle" font-weight="bold" fill="#151515">Treatment</text>
<line x1="185.30" y1="426.28" x2="185.30" y2="483.42" stroke="#151515" stroke-width="1.05"/>
<line x1="183.60" y1="426.80" x2="185.30" y2="426.80" stroke="#151515" stroke-width="1.05"/>
<line x1="183.60" y1="440.82" x2="185.30" y2="440.82" stroke="#151515" stroke-width="1.05"/>
<line x1="183.60" y1="454.85" x2="185.30" y2="454.85" stroke="#151515" stroke-width="1.05"/>
<line x1="183.60" y1="468.88" x2="185.30" y2="468.88" stroke="#151515" stroke-width="1.05"/>
<line x1="183.60" y1="482.90" x2="185.30" y2="482.90" stroke="#151515" stroke-width="1.05"/>
<text x="182.80" y="428.46" font-size="4.6" text-anchor="end" font-weight="bold" fill="#151515">2</text>
<text x="182.80" y="484.56" font-size="4.6" text-anchor="end" font-weight="bold" fill="#151515">0</text>
<line x1="184.78" y1="482.90" x2="242.00" y2="482.90" stroke="#151515" stroke-width="1.05"/>
<text x="193.00" y="487.90" font-size="4.5" text-anchor="middle" font-weight="bold" fill="#151515">None</text>
<text x="207.10" y="487.90" font-size="4.5" text-anchor="middle" font-weight="bold" fill="#151515">IL-4</text>
<text x="221.40" y="487.90" font-size="4.5" text-anchor="middle" font-weight="bold" fill="#151515">IL-13</text>
<text x="235.60" y="487.90" font-size="4.5" text-anchor="middle" font-weight="bold" fill="#151515">IL-4+</text>
<text x="235.60" y="492.40" font-size="4.5" text-anchor="middle" font-weight="bold" fill="#151515">IL-13</text>
<text x="214.30" y="410.80" font-size="6.3" text-anchor="middle" font-weight="bold" fill="#151515">SP IL-17A<tspan font-size="3.91" dy="-2">+</tspan></text>
<rect x="188.30" y="477.90" width="9.40" height="5.00" fill="#26c19a"/>
<line x1="193.00" y1="477.90" x2="193.00" y2="476.90" stroke="#151515" stroke-width="0.9"/>
<line x1="190.80" y1="476.90" x2="195.20" y2="476.90" stroke="#151515" stroke-width="0.9"/>
<rect x="202.40" y="470.60" width="9.40" height="12.30" fill="#f68c22"/>
<line x1="207.10" y1="470.60" x2="207.10" y2="468.70" stroke="#151515" stroke-width="0.9"/>
<line x1="204.90" y1="468.70" x2="209.30" y2="468.70" stroke="#151515" stroke-width="0.9"/>
<rect x="216.70" y="468.70" width="9.40" height="14.20" fill="#1c1cd8"/>
<line x1="221.40" y1="468.70" x2="221.40" y2="465.40" stroke="#151515" stroke-width="0.9"/>
<line x1="219.20" y1="465.40" x2="223.60" y2="465.40" stroke="#151515" stroke-width="0.9"/>
<rect x="230.90" y="463.80" width="9.40" height="19.10" fill="#ea1d26"/>
<line x1="235.60" y1="463.80" x2="235.60" y2="458.00" stroke="#151515" stroke-width="0.9"/>
<line x1="233.40" y1="458.00" x2="237.80" y2="458.00" stroke="#151515" stroke-width="0.9"/>
<path d="M193.00,421.30 L193.00,419.60 L235.60,419.60 L235.60,421.30" stroke="#151515" stroke-width="1.1" fill="none"/>
<text x="214.30" y="420.49" font-size="7.0" text-anchor="middle" font-weight="bold" fill="#151515" letter-spacing="-0.6">**</text>
<path d="M193.00,425.20 L193.00,423.50 L221.40,423.50 L221.40,425.20" stroke="#151515" stroke-width="1.1" fill="none"/>
<path d="M193.00,428.60 L193.00,426.90 L207.10,426.90 L207.10,428.60" stroke="#151515" stroke-width="1.1" fill="none"/>
<text x="200.05" y="427.79" font-size="7.0" text-anchor="middle" font-weight="bold" fill="#151515" letter-spacing="-0.6">**</text>
<text x="207.00" y="425.09" font-size="7.0" text-anchor="middle" font-weight="bold" fill="#151515" letter-spacing="-0.6">*</text>
<line x1="253.70" y1="426.38" x2="253.70" y2="484.02" stroke="#151515" stroke-width="1.05"/>
<line x1="252.00" y1="426.90" x2="253.70" y2="426.90" stroke="#151515" stroke-width="1.05"/>
<line x1="252.00" y1="441.05" x2="253.70" y2="441.05" stroke="#151515" stroke-width="1.05"/>
<line x1="252.00" y1="455.20" x2="253.70" y2="455.20" stroke="#151515" stroke-width="1.05"/>
<line x1="252.00" y1="469.35" x2="253.70" y2="469.35" stroke="#151515" stroke-width="1.05"/>
<line x1="252.00" y1="483.50" x2="253.70" y2="483.50" stroke="#151515" stroke-width="1.05"/>
<line x1="253.17" y1="483.50" x2="305.00" y2="483.50" stroke="#151515" stroke-width="1.05"/>
<text x="257.00" y="488.50" font-size="4.5" text-anchor="middle" font-weight="bold" fill="#151515">None</text>
<text x="270.60" y="488.50" font-size="4.5" text-anchor="middle" font-weight="bold" fill="#151515">IL-4</text>
<text x="284.80" y="488.50" font-size="4.5" text-anchor="middle" font-weight="bold" fill="#151515">IL-13</text>
<text x="298.70" y="488.50" font-size="4.5" text-anchor="middle" font-weight="bold" fill="#151515">IL-4+</text>
<text x="298.70" y="493.00" font-size="4.5" text-anchor="middle" font-weight="bold" fill="#151515">IL-13</text>
<text x="280.85" y="410.80" font-size="6.3" text-anchor="middle" font-weight="bold" fill="#151515">MLN IL-17A<tspan font-size="3.91" dy="-2">+</tspan></text>
<rect x="252.30" y="482.60" width="9.40" height="0.90" fill="#26c19a"/>
<rect x="265.90" y="479.20" width="9.40" height="4.30" fill="#f68c22"/>
<line x1="270.60" y1="479.20" x2="270.60" y2="478.30" stroke="#151515" stroke-width="0.9"/>
<line x1="268.40" y1="478.30" x2="272.80" y2="478.30" stroke="#151515" stroke-width="0.9"/>
<rect x="280.10" y="475.00" width="9.40" height="8.50" fill="#1c1cd8"/>
<line x1="284.80" y1="475.00" x2="284.80" y2="472.50" stroke="#151515" stroke-width="0.9"/>
<line x1="282.60" y1="472.50" x2="287.00" y2="472.50" stroke="#151515" stroke-width="0.9"/>
<rect x="294.00" y="468.00" width="9.40" height="15.50" fill="#ea1d26"/>
<line x1="298.70" y1="468.00" x2="298.70" y2="464.80" stroke="#151515" stroke-width="0.9"/>
<line x1="296.50" y1="464.80" x2="300.90" y2="464.80" stroke="#151515" stroke-width="0.9"/>
<path d="M257.00,421.30 L257.00,419.60 L298.70,419.60 L298.70,421.30" stroke="#151515" stroke-width="1.1" fill="none"/>
<text x="277.85" y="420.49" font-size="7.0" text-anchor="middle" font-weight="bold" fill="#151515" letter-spacing="-0.6">***</text>
<path d="M257.00,424.50 L257.00,422.80 L298.70,422.80 L298.70,424.50" stroke="#151515" stroke-width="1.1" fill="none"/>
<path d="M257.00,428.00 L257.00,426.30 L298.70,426.30 L298.70,428.00" stroke="#151515" stroke-width="1.1" fill="none"/>
<path d="M270.60,431.90 L270.60,430.20 L284.80,430.20 L284.80,431.90" stroke="#151515" stroke-width="1.1" fill="none"/>
<text x="277.70" y="431.09" font-size="7.0" text-anchor="middle" font-weight="bold" fill="#151515" letter-spacing="-0.6">*</text>
<text x="264.00" y="424.39" font-size="7.0" text-anchor="middle" font-weight="bold" fill="#151515" letter-spacing="-0.6">***</text>
<text x="290.00" y="424.39" font-size="7.0" text-anchor="middle" font-weight="bold" fill="#151515" letter-spacing="-0.6">*</text>
<text x="264.00" y="427.89" font-size="7.0" text-anchor="middle" font-weight="bold" fill="#151515" letter-spacing="-0.6">***</text>
<text x="290.00" y="427.89" font-size="7.0" text-anchor="middle" font-weight="bold" fill="#151515" letter-spacing="-0.6">***</text>
<text x="312.00" y="402.10" font-size="14.0" text-anchor="start" font-weight="normal" fill="#151515">L</text>
<line x1="323.40" y1="498.43" x2="323.40" y2="436.40" stroke="#151515" stroke-width="1.25"/>
<line x1="322.77" y1="497.80" x2="454.10" y2="497.80" stroke="#151515" stroke-width="1.25"/>
<path d="M323.40,428.00 L327.10,438.50 Q323.40,437.03 319.70,438.50 Z" fill="#151515"/>
<path d="M462.50,497.80 L452.00,494.10 Q453.47,497.80 452.00,501.50 Z" fill="#151515"/>
<text x="321.60" y="462.70" font-size="6.4" text-anchor="middle" font-weight="bold" fill="#151515" transform="rotate(-90 321.60 462.70)">Frequency (%)</text>
<text x="396.20" y="504.50" font-size="6.1" text-anchor="middle" font-weight="bold" fill="#151515">Treatment</text>
<line x1="337.30" y1="426.28" x2="337.30" y2="483.82" stroke="#151515" stroke-width="1.05"/>
<line x1="335.60" y1="426.80" x2="337.30" y2="426.80" stroke="#151515" stroke-width="1.05"/>
<line x1="335.60" y1="433.08" x2="337.30" y2="433.08" stroke="#151515" stroke-width="1.05"/>
<line x1="335.60" y1="439.36" x2="337.30" y2="439.36" stroke="#151515" stroke-width="1.05"/>
<line x1="335.60" y1="445.63" x2="337.30" y2="445.63" stroke="#151515" stroke-width="1.05"/>
<line x1="335.60" y1="451.91" x2="337.30" y2="451.91" stroke="#151515" stroke-width="1.05"/>
<line x1="335.60" y1="458.19" x2="337.30" y2="458.19" stroke="#151515" stroke-width="1.05"/>
<line x1="335.60" y1="464.47" x2="337.30" y2="464.47" stroke="#151515" stroke-width="1.05"/>
<line x1="335.60" y1="470.74" x2="337.30" y2="470.74" stroke="#151515" stroke-width="1.05"/>
<line x1="335.60" y1="477.02" x2="337.30" y2="477.02" stroke="#151515" stroke-width="1.05"/>
<line x1="335.60" y1="483.30" x2="337.30" y2="483.30" stroke="#151515" stroke-width="1.05"/>
<text x="334.80" y="428.46" font-size="4.6" text-anchor="end" font-weight="bold" fill="#151515">90</text>
<text x="334.80" y="484.96" font-size="4.6" text-anchor="end" font-weight="bold" fill="#151515">0</text>
<line x1="336.78" y1="483.30" x2="392.00" y2="483.30" stroke="#151515" stroke-width="1.05"/>
<text x="344.00" y="488.30" font-size="4.5" text-anchor="middle" font-weight="bold" fill="#151515">None</text>
<text x="357.50" y="488.30" font-size="4.5" text-anchor="middle" font-weight="bold" fill="#151515">IL-4</text>
<text x="372.00" y="488.30" font-size="4.5" text-anchor="middle" font-weight="bold" fill="#151515">IL-13</text>
<text x="386.30" y="488.30" font-size="4.5" text-anchor="middle" font-weight="bold" fill="#151515">IL-4+</text>
<text x="386.30" y="492.80" font-size="4.5" text-anchor="middle" font-weight="bold" fill="#151515">IL-13</text>
<text x="365.15" y="410.80" font-size="6.3" text-anchor="middle" font-weight="bold" fill="#151515">SP IFN-&#947;<tspan font-size="3.91" dy="-2">+</tspan></text>
<line x1="339.20" y1="456.00" x2="348.80" y2="456.00" stroke="#151515" stroke-width="1.0"/>
<circle cx="342.24" cy="431.00" r="1.30" fill="#26c19a"/>
<circle cx="343.28" cy="459.10" r="1.30" fill="#26c19a"/>
<circle cx="343.95" cy="431.69" r="1.30" fill="#26c19a"/>
<circle cx="344.56" cy="480.62" r="1.30" fill="#26c19a"/>
<circle cx="347.01" cy="469.12" r="1.30" fill="#26c19a"/>
<circle cx="342.24" cy="481.92" r="1.30" fill="#26c19a"/>
<circle cx="340.52" cy="448.80" r="1.30" fill="#26c19a"/>
<circle cx="342.31" cy="445.21" r="1.30" fill="#26c19a"/>
<circle cx="341.56" cy="435.32" r="1.30" fill="#26c19a"/>
<circle cx="344.65" cy="444.86" r="1.30" fill="#26c19a"/>
<circle cx="343.80" cy="432.94" r="1.30" fill="#26c19a"/>
<circle cx="342.46" cy="462.00" r="1.30" fill="#26c19a"/>
<circle cx="340.52" cy="453.39" r="1.30" fill="#26c19a"/>
<circle cx="346.16" cy="468.71" r="1.30" fill="#26c19a"/>
<circle cx="345.07" cy="465.49" r="1.30" fill="#26c19a"/>
<circle cx="345.06" cy="452.76" r="1.30" fill="#26c19a"/>
<circle cx="345.75" cy="443.18" r="1.30" fill="#26c19a"/>
<circle cx="347.05" cy="452.69" r="1.30" fill="#26c19a"/>
<circle cx="340.00" cy="433.43" r="1.30" fill="#26c19a"/>
<circle cx="341.32" cy="460.15" r="1.30" fill="#26c19a"/>
<circle cx="343.76" cy="444.62" r="1.30" fill="#26c19a"/>
<circle cx="345.73" cy="442.01" r="1.30" fill="#26c19a"/>
<circle cx="344.04" cy="473.52" r="1.30" fill="#26c19a"/>
<circle cx="344.04" cy="455.57" r="1.30" fill="#26c19a"/>
<circle cx="342.34" cy="477.74" r="1.30" fill="#26c19a"/>
<circle cx="341.80" cy="480.41" r="1.30" fill="#26c19a"/>
<circle cx="347.22" cy="460.78" r="1.30" fill="#26c19a"/>
<circle cx="348.15" cy="448.07" r="1.30" fill="#26c19a"/>
<circle cx="344.00" cy="441.94" r="1.30" fill="#26c19a"/>
<circle cx="343.72" cy="447.90" r="1.30" fill="#26c19a"/>
<circle cx="340.80" cy="464.20" r="1.30" fill="#26c19a"/>
<circle cx="344.87" cy="456.56" r="1.30" fill="#26c19a"/>
<circle cx="341.52" cy="450.51" r="1.30" fill="#26c19a"/>
<circle cx="345.08" cy="432.41" r="1.30" fill="#26c19a"/>
<circle cx="342.10" cy="452.83" r="1.30" fill="#26c19a"/>
<circle cx="343.72" cy="454.33" r="1.30" fill="#26c19a"/>
<circle cx="347.14" cy="436.42" r="1.30" fill="#26c19a"/>
<circle cx="342.38" cy="482.00" r="1.30" fill="#26c19a"/>
<line x1="352.70" y1="450.40" x2="362.30" y2="450.40" stroke="#151515" stroke-width="1.0"/>
<circle cx="354.09" cy="438.80" r="1.30" fill="#f68c22"/>
<circle cx="356.96" cy="447.08" r="1.30" fill="#f68c22"/>
<circle cx="354.45" cy="451.43" r="1.30" fill="#f68c22"/>
<circle cx="355.74" cy="461.35" r="1.30" fill="#f68c22"/>
<circle cx="358.19" cy="451.60" r="1.30" fill="#f68c22"/>
<circle cx="358.83" cy="463.88" r="1.30" fill="#f68c22"/>
<circle cx="360.37" cy="449.40" r="1.30" fill="#f68c22"/>
<circle cx="358.75" cy="450.61" r="1.30" fill="#f68c22"/>
<circle cx="357.89" cy="455.57" r="1.30" fill="#f68c22"/>
<circle cx="356.41" cy="451.83" r="1.30" fill="#f68c22"/>
<circle cx="357.34" cy="456.27" r="1.30" fill="#f68c22"/>
<circle cx="356.02" cy="464.80" r="1.30" fill="#f68c22"/>
<line x1="367.20" y1="455.80" x2="376.80" y2="455.80" stroke="#151515" stroke-width="1.0"/>
<circle cx="368.65" cy="450.40" r="1.30" fill="#1c1cd8"/>
<circle cx="370.38" cy="459.44" r="1.30" fill="#1c1cd8"/>
<circle cx="370.75" cy="461.06" r="1.30" fill="#1c1cd8"/>
<circle cx="373.21" cy="455.60" r="1.30" fill="#1c1cd8"/>
<circle cx="370.27" cy="462.90" r="1.30" fill="#1c1cd8"/>
<circle cx="375.38" cy="459.36" r="1.30" fill="#1c1cd8"/>
<circle cx="369.24" cy="455.63" r="1.30" fill="#1c1cd8"/>
<circle cx="371.65" cy="467.30" r="1.30" fill="#1c1cd8"/>
<line x1="381.50" y1="452.30" x2="391.10" y2="452.30" stroke="#151515" stroke-width="1.0"/>
<circle cx="388.59" cy="445.60" r="1.30" fill="#ea1d26"/>
<circle cx="383.23" cy="461.31" r="1.30" fill="#ea1d26"/>
<circle cx="383.34" cy="450.96" r="1.30" fill="#ea1d26"/>
<circle cx="389.17" cy="449.02" r="1.30" fill="#ea1d26"/>
<circle cx="385.96" cy="461.30" r="1.30" fill="#ea1d26"/>
<circle cx="383.82" cy="462.21" r="1.30" fill="#ea1d26"/>
<circle cx="389.01" cy="457.74" r="1.30" fill="#ea1d26"/>
<circle cx="384.13" cy="464.65" r="1.30" fill="#ea1d26"/>
<circle cx="385.97" cy="453.93" r="1.30" fill="#ea1d26"/>
<circle cx="382.90" cy="455.08" r="1.30" fill="#ea1d26"/>
<circle cx="383.80" cy="456.12" r="1.30" fill="#ea1d26"/>
<circle cx="386.17" cy="466.70" r="1.30" fill="#ea1d26"/>
<line x1="404.10" y1="426.48" x2="404.10" y2="484.12" stroke="#151515" stroke-width="1.05"/>
<line x1="402.40" y1="427.00" x2="404.10" y2="427.00" stroke="#151515" stroke-width="1.05"/>
<line x1="402.40" y1="433.29" x2="404.10" y2="433.29" stroke="#151515" stroke-width="1.05"/>
<line x1="402.40" y1="439.58" x2="404.10" y2="439.58" stroke="#151515" stroke-width="1.05"/>
<line x1="402.40" y1="445.87" x2="404.10" y2="445.87" stroke="#151515" stroke-width="1.05"/>
<line x1="402.40" y1="452.16" x2="404.10" y2="452.16" stroke="#151515" stroke-width="1.05"/>
<line x1="402.40" y1="458.44" x2="404.10" y2="458.44" stroke="#151515" stroke-width="1.05"/>
<line x1="402.40" y1="464.73" x2="404.10" y2="464.73" stroke="#151515" stroke-width="1.05"/>
<line x1="402.40" y1="471.02" x2="404.10" y2="471.02" stroke="#151515" stroke-width="1.05"/>
<line x1="402.40" y1="477.31" x2="404.10" y2="477.31" stroke="#151515" stroke-width="1.05"/>
<line x1="402.40" y1="483.60" x2="404.10" y2="483.60" stroke="#151515" stroke-width="1.05"/>
<line x1="403.58" y1="483.60" x2="461.00" y2="483.60" stroke="#151515" stroke-width="1.05"/>
<text x="412.30" y="488.60" font-size="4.5" text-anchor="middle" font-weight="bold" fill="#151515">None</text>
<text x="426.30" y="488.60" font-size="4.5" text-anchor="middle" font-weight="bold" fill="#151515">IL-4</text>
<text x="440.70" y="488.60" font-size="4.5" text-anchor="middle" font-weight="bold" fill="#151515">IL-13</text>
<text x="455.10" y="488.60" font-size="4.5" text-anchor="middle" font-weight="bold" fill="#151515">IL-4+</text>
<text x="455.10" y="493.10" font-size="4.5" text-anchor="middle" font-weight="bold" fill="#151515">IL-13</text>
<text x="431.70" y="410.80" font-size="6.3" text-anchor="middle" font-weight="bold" fill="#151515">MLN IFN-&#947;<tspan font-size="3.91" dy="-2">+</tspan></text>
<line x1="407.50" y1="463.00" x2="417.10" y2="463.00" stroke="#151515" stroke-width="1.0"/>
<circle cx="411.60" cy="451.00" r="1.30" fill="#26c19a"/>
<circle cx="411.25" cy="463.30" r="1.30" fill="#26c19a"/>
<circle cx="415.31" cy="473.61" r="1.30" fill="#26c19a"/>
<circle cx="409.26" cy="460.72" r="1.30" fill="#26c19a"/>
<circle cx="408.52" cy="462.74" r="1.30" fill="#26c19a"/>
<circle cx="411.80" cy="461.24" r="1.30" fill="#26c19a"/>
<circle cx="408.36" cy="466.04" r="1.30" fill="#26c19a"/>
<circle cx="413.70" cy="464.85" r="1.30" fill="#26c19a"/>
<circle cx="412.20" cy="463.36" r="1.30" fill="#26c19a"/>
<circle cx="415.52" cy="473.13" r="1.30" fill="#26c19a"/>
<circle cx="416.04" cy="465.22" r="1.30" fill="#26c19a"/>
<circle cx="410.01" cy="460.69" r="1.30" fill="#26c19a"/>
<circle cx="414.77" cy="461.33" r="1.30" fill="#26c19a"/>
<circle cx="412.29" cy="463.89" r="1.30" fill="#26c19a"/>
<circle cx="416.17" cy="464.99" r="1.30" fill="#26c19a"/>
<circle cx="408.68" cy="458.00" r="1.30" fill="#26c19a"/>
<circle cx="411.93" cy="467.83" r="1.30" fill="#26c19a"/>
<circle cx="416.43" cy="462.18" r="1.30" fill="#26c19a"/>
<circle cx="408.48" cy="466.85" r="1.30" fill="#26c19a"/>
<circle cx="410.62" cy="454.16" r="1.30" fill="#26c19a"/>
<circle cx="410.66" cy="460.21" r="1.30" fill="#26c19a"/>
<circle cx="411.11" cy="451.65" r="1.30" fill="#26c19a"/>
<circle cx="416.54" cy="461.85" r="1.30" fill="#26c19a"/>
<circle cx="409.64" cy="458.80" r="1.30" fill="#26c19a"/>
<circle cx="415.08" cy="460.77" r="1.30" fill="#26c19a"/>
<circle cx="410.29" cy="457.97" r="1.30" fill="#26c19a"/>
<circle cx="415.52" cy="469.05" r="1.30" fill="#26c19a"/>
<circle cx="409.26" cy="463.92" r="1.30" fill="#26c19a"/>
<circle cx="408.86" cy="460.82" r="1.30" fill="#26c19a"/>
<circle cx="416.48" cy="462.50" r="1.30" fill="#26c19a"/>
<circle cx="408.11" cy="457.00" r="1.30" fill="#26c19a"/>
<circle cx="413.52" cy="471.95" r="1.30" fill="#26c19a"/>
<circle cx="409.75" cy="470.72" r="1.30" fill="#26c19a"/>
<circle cx="412.98" cy="463.01" r="1.30" fill="#26c19a"/>
<circle cx="410.73" cy="456.10" r="1.30" fill="#26c19a"/>
<circle cx="413.37" cy="472.32" r="1.30" fill="#26c19a"/>
<circle cx="413.83" cy="457.87" r="1.30" fill="#26c19a"/>
<circle cx="414.45" cy="474.00" r="1.30" fill="#26c19a"/>
<line x1="421.50" y1="463.00" x2="431.10" y2="463.00" stroke="#151515" stroke-width="1.0"/>
<circle cx="426.96" cy="454.00" r="1.30" fill="#f68c22"/>
<circle cx="428.20" cy="466.44" r="1.30" fill="#f68c22"/>
<circle cx="429.56" cy="457.58" r="1.30" fill="#f68c22"/>
<circle cx="427.70" cy="462.90" r="1.30" fill="#f68c22"/>
<circle cx="424.90" cy="466.14" r="1.30" fill="#f68c22"/>
<circle cx="426.16" cy="465.58" r="1.30" fill="#f68c22"/>
<circle cx="424.01" cy="461.96" r="1.30" fill="#f68c22"/>
<circle cx="424.74" cy="461.46" r="1.30" fill="#f68c22"/>
<circle cx="428.80" cy="456.31" r="1.30" fill="#f68c22"/>
<circle cx="427.48" cy="469.00" r="1.30" fill="#f68c22"/>
<line x1="435.90" y1="460.70" x2="445.50" y2="460.70" stroke="#151515" stroke-width="1.0"/>
<circle cx="438.52" cy="453.00" r="1.30" fill="#1c1cd8"/>
<circle cx="441.15" cy="462.02" r="1.30" fill="#1c1cd8"/>
<circle cx="439.75" cy="460.07" r="1.30" fill="#1c1cd8"/>
<circle cx="437.45" cy="467.12" r="1.30" fill="#1c1cd8"/>
<circle cx="442.41" cy="467.39" r="1.30" fill="#1c1cd8"/>
<circle cx="441.50" cy="459.11" r="1.30" fill="#1c1cd8"/>
<circle cx="439.48" cy="470.30" r="1.30" fill="#1c1cd8"/>
<line x1="450.30" y1="464.30" x2="459.90" y2="464.30" stroke="#151515" stroke-width="1.0"/>
<circle cx="451.68" cy="456.60" r="1.30" fill="#ea1d26"/>
<circle cx="457.25" cy="461.88" r="1.30" fill="#ea1d26"/>
<circle cx="455.30" cy="465.33" r="1.30" fill="#ea1d26"/>
<circle cx="452.93" cy="457.55" r="1.30" fill="#ea1d26"/>
<circle cx="452.40" cy="458.20" r="1.30" fill="#ea1d26"/>
<circle cx="453.54" cy="457.21" r="1.30" fill="#ea1d26"/>
<circle cx="454.29" cy="457.07" r="1.30" fill="#ea1d26"/>
<circle cx="456.50" cy="465.72" r="1.30" fill="#ea1d26"/>
<circle cx="452.11" cy="467.23" r="1.30" fill="#ea1d26"/>
<circle cx="457.05" cy="466.11" r="1.30" fill="#ea1d26"/>
<circle cx="453.25" cy="461.35" r="1.30" fill="#ea1d26"/>
<circle cx="452.68" cy="471.50" r="1.30" fill="#ea1d26"/>
<circle cx="412.80" cy="429.50" r="1.05" fill="#26c19a"/>
<text x="-0.30" y="527.90" font-size="14.0" text-anchor="start" font-weight="normal" fill="#151515">M</text>
<line x1="16.10" y1="623.33" x2="16.10" y2="560.20" stroke="#151515" stroke-width="1.25"/>
<line x1="15.48" y1="622.70" x2="145.10" y2="622.70" stroke="#151515" stroke-width="1.25"/>
<path d="M16.10,551.80 L19.80,562.30 Q16.10,560.83 12.40,562.30 Z" fill="#151515"/>
<path d="M153.50,622.70 L143.00,619.00 Q144.47,622.70 143.00,626.40 Z" fill="#151515"/>
<text x="13.20" y="588.00" font-size="6.7" text-anchor="middle" font-weight="bold" fill="#151515" transform="rotate(-90 13.20 588.00)">Cell (X10<tspan font-size="3.6" dy="-2">6</tspan><tspan dy="2">)</tspan></text>
<text x="87.70" y="628.30" font-size="6.1" text-anchor="middle" font-weight="bold" fill="#151515">Treatment</text>
<line x1="28.20" y1="550.58" x2="28.20" y2="608.52" stroke="#151515" stroke-width="1.05"/>
<line x1="26.50" y1="551.10" x2="28.20" y2="551.10" stroke="#151515" stroke-width="1.05"/>
<line x1="26.50" y1="554.66" x2="28.20" y2="554.66" stroke="#151515" stroke-width="1.05"/>
<line x1="26.50" y1="558.21" x2="28.20" y2="558.21" stroke="#151515" stroke-width="1.05"/>
<line x1="26.50" y1="561.77" x2="28.20" y2="561.77" stroke="#151515" stroke-width="1.05"/>
<line x1="26.50" y1="565.33" x2="28.20" y2="565.33" stroke="#151515" stroke-width="1.05"/>
<line x1="26.50" y1="568.88" x2="28.20" y2="568.88" stroke="#151515" stroke-width="1.05"/>
<line x1="26.50" y1="572.44" x2="28.20" y2="572.44" stroke="#151515" stroke-width="1.05"/>
<line x1="26.50" y1="575.99" x2="28.20" y2="575.99" stroke="#151515" stroke-width="1.05"/>
<line x1="26.50" y1="579.55" x2="28.20" y2="579.55" stroke="#151515" stroke-width="1.05"/>
<line x1="26.50" y1="583.11" x2="28.20" y2="583.11" stroke="#151515" stroke-width="1.05"/>
<line x1="26.50" y1="586.66" x2="28.20" y2="586.66" stroke="#151515" stroke-width="1.05"/>
<line x1="26.50" y1="590.22" x2="28.20" y2="590.22" stroke="#151515" stroke-width="1.05"/>
<line x1="26.50" y1="593.77" x2="28.20" y2="593.77" stroke="#151515" stroke-width="1.05"/>
<line x1="26.50" y1="597.33" x2="28.20" y2="597.33" stroke="#151515" stroke-width="1.05"/>
<line x1="26.50" y1="600.89" x2="28.20" y2="600.89" stroke="#151515" stroke-width="1.05"/>
<line x1="26.50" y1="604.44" x2="28.20" y2="604.44" stroke="#151515" stroke-width="1.05"/>
<line x1="26.50" y1="608.00" x2="28.20" y2="608.00" stroke="#151515" stroke-width="1.05"/>
<text x="25.70" y="552.76" font-size="4.6" text-anchor="end" font-weight="bold" fill="#151515">8</text>
<text x="25.70" y="609.66" font-size="4.6" text-anchor="end" font-weight="bold" fill="#151515">0</text>
<line x1="27.68" y1="608.00" x2="86.00" y2="608.00" stroke="#151515" stroke-width="1.05"/>
<text x="36.30" y="613.00" font-size="4.5" text-anchor="middle" font-weight="bold" fill="#151515">None</text>
<text x="50.30" y="613.00" font-size="4.5" text-anchor="middle" font-weight="bold" fill="#151515">IL-4</text>
<text x="64.20" y="613.00" font-size="4.5" text-anchor="middle" font-weight="bold" fill="#151515">IL-13</text>
<text x="78.40" y="613.00" font-size="4.5" text-anchor="middle" font-weight="bold" fill="#151515">IL-4+</text>
<text x="78.40" y="617.50" font-size="4.5" text-anchor="middle" font-weight="bold" fill="#151515">IL-13</text>
<text x="57.35" y="530.60" font-size="6.3" text-anchor="middle" font-weight="bold" fill="#151515">SP IFN-&#947;<tspan font-size="3.91" dy="-2">+</tspan></text>
<rect x="31.50" y="581.60" width="9.60" height="26.40" fill="#26c19a"/>
<line x1="36.30" y1="581.60" x2="36.30" y2="576.00" stroke="#151515" stroke-width="0.9"/>
<line x1="34.10" y1="576.00" x2="38.50" y2="576.00" stroke="#151515" stroke-width="0.9"/>
<rect x="45.50" y="572.60" width="9.60" height="35.40" fill="#f68c22"/>
<line x1="50.30" y1="572.60" x2="50.30" y2="567.00" stroke="#151515" stroke-width="0.9"/>
<line x1="48.10" y1="567.00" x2="52.50" y2="567.00" stroke="#151515" stroke-width="0.9"/>
<rect x="59.40" y="584.50" width="9.60" height="23.50" fill="#1c1cd8"/>
<line x1="64.20" y1="584.50" x2="64.20" y2="582.00" stroke="#151515" stroke-width="0.9"/>
<line x1="62.00" y1="582.00" x2="66.40" y2="582.00" stroke="#151515" stroke-width="0.9"/>
<rect x="73.60" y="578.90" width="9.60" height="29.10" fill="#ea1d26"/>
<line x1="78.40" y1="578.90" x2="78.40" y2="574.90" stroke="#151515" stroke-width="0.9"/>
<line x1="76.20" y1="574.90" x2="80.60" y2="574.90" stroke="#151515" stroke-width="0.9"/>
<path d="M36.30,542.60 L36.30,540.90 L78.40,540.90 L78.40,542.60" stroke="#151515" stroke-width="1.1" fill="none"/>
<text x="57.35" y="541.79" font-size="7.0" text-anchor="middle" font-weight="bold" fill="#151515" letter-spacing="-0.6">*</text>
<path d="M36.30,546.40 L36.30,544.70 L50.30,544.70 L50.30,546.40" stroke="#151515" stroke-width="1.1" fill="none"/>
<text x="43.30" y="545.59" font-size="7.0" text-anchor="middle" font-weight="bold" fill="#151515" letter-spacing="-0.6">*</text>
<line x1="95.20" y1="550.88" x2="95.20" y2="608.42" stroke="#151515" stroke-width="1.05"/>
<line x1="93.50" y1="551.40" x2="95.20" y2="551.40" stroke="#151515" stroke-width="1.05"/>
<line x1="93.50" y1="554.93" x2="95.20" y2="554.93" stroke="#151515" stroke-width="1.05"/>
<line x1="93.50" y1="558.46" x2="95.20" y2="558.46" stroke="#151515" stroke-width="1.05"/>
<line x1="93.50" y1="561.99" x2="95.20" y2="561.99" stroke="#151515" stroke-width="1.05"/>
<line x1="93.50" y1="565.52" x2="95.20" y2="565.52" stroke="#151515" stroke-width="1.05"/>
<line x1="93.50" y1="569.06" x2="95.20" y2="569.06" stroke="#151515" stroke-width="1.05"/>
<line x1="93.50" y1="572.59" x2="95.20" y2="572.59" stroke="#151515" stroke-width="1.05"/>
<line x1="93.50" y1="576.12" x2="95.20" y2="576.12" stroke="#151515" stroke-width="1.05"/>
<line x1="93.50" y1="579.65" x2="95.20" y2="579.65" stroke="#151515" stroke-width="1.05"/>
<line x1="93.50" y1="583.18" x2="95.20" y2="583.18" stroke="#151515" stroke-width="1.05"/>
<line x1="93.50" y1="586.71" x2="95.20" y2="586.71" stroke="#151515" stroke-width="1.05"/>
<line x1="93.50" y1="590.24" x2="95.20" y2="590.24" stroke="#151515" stroke-width="1.05"/>
<line x1="93.50" y1="593.77" x2="95.20" y2="593.77" stroke="#151515" stroke-width="1.05"/>
<line x1="93.50" y1="597.31" x2="95.20" y2="597.31" stroke="#151515" stroke-width="1.05"/>
<line x1="93.50" y1="600.84" x2="95.20" y2="600.84" stroke="#151515" stroke-width="1.05"/>
<line x1="93.50" y1="604.37" x2="95.20" y2="604.37" stroke="#151515" stroke-width="1.05"/>
<line x1="93.50" y1="607.90" x2="95.20" y2="607.90" stroke="#151515" stroke-width="1.05"/>
<line x1="94.67" y1="607.90" x2="152.50" y2="607.90" stroke="#151515" stroke-width="1.05"/>
<text x="102.90" y="612.90" font-size="4.5" text-anchor="middle" font-weight="bold" fill="#151515">None</text>
<text x="117.40" y="612.90" font-size="4.5" text-anchor="middle" font-weight="bold" fill="#151515">IL-4</text>
<text x="131.40" y="612.90" font-size="4.5" text-anchor="middle" font-weight="bold" fill="#151515">IL-13</text>
<text x="145.90" y="612.90" font-size="4.5" text-anchor="middle" font-weight="bold" fill="#151515">IL-4+</text>
<text x="145.90" y="617.40" font-size="4.5" text-anchor="middle" font-weight="bold" fill="#151515">IL-13</text>
<text x="122.40" y="530.60" font-size="6.3" text-anchor="middle" font-weight="bold" fill="#151515">MLN IFN-&#947;<tspan font-size="3.91" dy="-2">+</tspan></text>
<rect x="98.00" y="605.60" width="9.80" height="2.40" fill="#26c19a"/>
<rect x="112.50" y="599.80" width="9.80" height="8.20" fill="#f68c22"/>
<line x1="117.40" y1="599.80" x2="117.40" y2="597.80" stroke="#151515" stroke-width="0.9"/>
<line x1="115.20" y1="597.80" x2="119.60" y2="597.80" stroke="#151515" stroke-width="0.9"/>
<rect x="126.50" y="597.10" width="9.80" height="10.90" fill="#1c1cd8"/>
<line x1="131.40" y1="597.10" x2="131.40" y2="594.90" stroke="#151515" stroke-width="0.9"/>
<line x1="129.20" y1="594.90" x2="133.60" y2="594.90" stroke="#151515" stroke-width="0.9"/>
<rect x="141.00" y="594.20" width="9.80" height="13.80" fill="#ea1d26"/>
<line x1="145.90" y1="594.20" x2="145.90" y2="592.70" stroke="#151515" stroke-width="0.9"/>
<line x1="143.70" y1="592.70" x2="148.10" y2="592.70" stroke="#151515" stroke-width="0.9"/>
<path d="M102.90,542.60 L102.90,540.90 L145.90,540.90 L145.90,542.60" stroke="#151515" stroke-width="1.1" fill="none"/>
<text x="124.40" y="541.79" font-size="7.0" text-anchor="middle" font-weight="bold" fill="#151515" letter-spacing="-0.6">***</text>
<path d="M102.90,545.50 L102.90,543.80 L145.90,543.80 L145.90,545.50" stroke="#151515" stroke-width="1.1" fill="none"/>
<path d="M102.90,551.50 L102.90,549.80 L131.40,549.80 L131.40,551.50" stroke="#151515" stroke-width="1.1" fill="none"/>
<text x="117.15" y="550.69" font-size="7.0" text-anchor="middle" font-weight="bold" fill="#151515" letter-spacing="-0.6">***</text>
<text x="110.00" y="545.39" font-size="7.0" text-anchor="middle" font-weight="bold" fill="#151515" letter-spacing="-0.6">***</text>
<text x="138.00" y="545.39" font-size="7.0" text-anchor="middle" font-weight="bold" fill="#151515" letter-spacing="-0.6">*</text>
<text x="151.70" y="527.90" font-size="14.0" text-anchor="start" font-weight="normal" fill="#151515">N</text>
<line x1="166.60" y1="623.42" x2="166.60" y2="560.20" stroke="#151515" stroke-width="1.25"/>
<line x1="165.97" y1="622.80" x2="297.10" y2="622.80" stroke="#151515" stroke-width="1.25"/>
<path d="M166.60,551.80 L170.30,562.30 Q166.60,560.83 162.90,562.30 Z" fill="#151515"/>
<path d="M305.50,622.80 L295.00,619.10 Q296.47,622.80 295.00,626.50 Z" fill="#151515"/>
<text x="164.30" y="587.60" font-size="6.4" text-anchor="middle" font-weight="bold" fill="#151515" transform="rotate(-90 164.30 587.60)">Frequency (%)</text>
<text x="239.50" y="628.60" font-size="6.1" text-anchor="middle" font-weight="bold" fill="#151515">Treatment</text>
<line x1="181.00" y1="550.77" x2="181.00" y2="608.52" stroke="#151515" stroke-width="1.05"/>
<line x1="179.30" y1="551.30" x2="181.00" y2="551.30" stroke="#151515" stroke-width="1.05"/>
<line x1="179.30" y1="565.47" x2="181.00" y2="565.47" stroke="#151515" stroke-width="1.05"/>
<line x1="179.30" y1="579.65" x2="181.00" y2="579.65" stroke="#151515" stroke-width="1.05"/>
<line x1="179.30" y1="593.83" x2="181.00" y2="593.83" stroke="#151515" stroke-width="1.05"/>
<line x1="179.30" y1="608.00" x2="181.00" y2="608.00" stroke="#151515" stroke-width="1.05"/>
<text x="178.50" y="552.96" font-size="4.6" text-anchor="end" font-weight="bold" fill="#151515">10</text>
<text x="178.50" y="609.66" font-size="4.6" text-anchor="end" font-weight="bold" fill="#151515">0</text>
<line x1="180.47" y1="608.00" x2="234.80" y2="608.00" stroke="#151515" stroke-width="1.05"/>
<text x="187.90" y="613.00" font-size="4.5" text-anchor="middle" font-weight="bold" fill="#151515">None</text>
<text x="201.30" y="613.00" font-size="4.5" text-anchor="middle" font-weight="bold" fill="#151515">IL-4</text>
<text x="215.40" y="613.00" font-size="4.5" text-anchor="middle" font-weight="bold" fill="#151515">IL-13</text>
<text x="229.20" y="613.00" font-size="4.5" text-anchor="middle" font-weight="bold" fill="#151515">IL-4+</text>
<text x="229.20" y="617.50" font-size="4.5" text-anchor="middle" font-weight="bold" fill="#151515">IL-13</text>
<text x="208.55" y="530.60" font-size="6.3" text-anchor="middle" font-weight="bold" fill="#151515">SP IFN-&#947;<tspan font-size="3.5" dy="-2">+</tspan><tspan dy="2">IL-17A</tspan><tspan font-size="3.91" dy="-2">+</tspan></text>
<line x1="183.10" y1="594.50" x2="192.70" y2="594.50" stroke="#151515" stroke-width="1.0"/>
<circle cx="185.22" cy="555.80" r="1.30" fill="#26c19a"/>
<circle cx="185.18" cy="602.93" r="1.30" fill="#26c19a"/>
<circle cx="189.83" cy="599.09" r="1.30" fill="#26c19a"/>
<circle cx="186.88" cy="604.60" r="1.30" fill="#26c19a"/>
<circle cx="192.02" cy="578.30" r="1.30" fill="#26c19a"/>
<circle cx="183.76" cy="606.86" r="1.30" fill="#26c19a"/>
<circle cx="188.20" cy="603.01" r="1.30" fill="#26c19a"/>
<circle cx="184.74" cy="585.46" r="1.30" fill="#26c19a"/>
<circle cx="190.90" cy="596.69" r="1.30" fill="#26c19a"/>
<circle cx="186.88" cy="569.68" r="1.30" fill="#26c19a"/>
<circle cx="185.67" cy="606.04" r="1.30" fill="#26c19a"/>
<circle cx="188.61" cy="605.09" r="1.30" fill="#26c19a"/>
<circle cx="191.11" cy="605.86" r="1.30" fill="#26c19a"/>
<circle cx="183.73" cy="606.92" r="1.30" fill="#26c19a"/>
<circle cx="185.58" cy="606.99" r="1.30" fill="#26c19a"/>
<circle cx="191.36" cy="600.92" r="1.30" fill="#26c19a"/>
<circle cx="187.21" cy="605.94" r="1.30" fill="#26c19a"/>
<circle cx="184.43" cy="598.05" r="1.30" fill="#26c19a"/>
<circle cx="191.61" cy="561.91" r="1.30" fill="#26c19a"/>
<circle cx="191.74" cy="556.66" r="1.30" fill="#26c19a"/>
<circle cx="187.27" cy="584.01" r="1.30" fill="#26c19a"/>
<circle cx="185.28" cy="605.51" r="1.30" fill="#26c19a"/>
<circle cx="183.83" cy="604.61" r="1.30" fill="#26c19a"/>
<circle cx="189.99" cy="570.63" r="1.30" fill="#26c19a"/>
<circle cx="190.23" cy="606.51" r="1.30" fill="#26c19a"/>
<circle cx="189.94" cy="579.45" r="1.30" fill="#26c19a"/>
<circle cx="189.54" cy="606.43" r="1.30" fill="#26c19a"/>
<circle cx="186.64" cy="603.08" r="1.30" fill="#26c19a"/>
<circle cx="186.07" cy="599.11" r="1.30" fill="#26c19a"/>
<circle cx="188.54" cy="562.12" r="1.30" fill="#26c19a"/>
<circle cx="190.42" cy="588.17" r="1.30" fill="#26c19a"/>
<circle cx="187.65" cy="577.75" r="1.30" fill="#26c19a"/>
<circle cx="188.03" cy="605.23" r="1.30" fill="#26c19a"/>
<circle cx="186.94" cy="605.23" r="1.30" fill="#26c19a"/>
<circle cx="190.67" cy="574.22" r="1.30" fill="#26c19a"/>
<circle cx="191.83" cy="597.78" r="1.30" fill="#26c19a"/>
<circle cx="185.96" cy="589.14" r="1.30" fill="#26c19a"/>
<circle cx="191.86" cy="606.97" r="1.30" fill="#26c19a"/>
<circle cx="190.59" cy="606.99" r="1.30" fill="#26c19a"/>
<circle cx="187.08" cy="603.63" r="1.30" fill="#26c19a"/>
<circle cx="185.78" cy="605.83" r="1.30" fill="#26c19a"/>
<circle cx="189.49" cy="606.26" r="1.30" fill="#26c19a"/>
<circle cx="188.27" cy="580.31" r="1.30" fill="#26c19a"/>
<circle cx="188.68" cy="567.81" r="1.30" fill="#26c19a"/>
<circle cx="192.15" cy="606.57" r="1.30" fill="#26c19a"/>
<circle cx="192.04" cy="607.00" r="1.30" fill="#26c19a"/>
<line x1="196.50" y1="587.80" x2="206.10" y2="587.80" stroke="#151515" stroke-width="1.0"/>
<circle cx="199.00" cy="574.40" r="1.30" fill="#f68c22"/>
<circle cx="198.29" cy="587.36" r="1.30" fill="#f68c22"/>
<circle cx="204.77" cy="578.57" r="1.30" fill="#f68c22"/>
<circle cx="200.59" cy="576.28" r="1.30" fill="#f68c22"/>
<circle cx="200.32" cy="594.91" r="1.30" fill="#f68c22"/>
<circle cx="203.33" cy="580.79" r="1.30" fill="#f68c22"/>
<circle cx="199.28" cy="591.44" r="1.30" fill="#f68c22"/>
<circle cx="203.36" cy="582.00" r="1.30" fill="#f68c22"/>
<circle cx="199.43" cy="579.76" r="1.30" fill="#f68c22"/>
<circle cx="202.89" cy="599.40" r="1.30" fill="#f68c22"/>
<line x1="210.60" y1="580.40" x2="220.20" y2="580.40" stroke="#151515" stroke-width="1.0"/>
<circle cx="212.99" cy="557.00" r="1.30" fill="#1c1cd8"/>
<circle cx="218.53" cy="561.17" r="1.30" fill="#1c1cd8"/>
<circle cx="218.82" cy="571.71" r="1.30" fill="#1c1cd8"/>
<circle cx="215.54" cy="589.51" r="1.30" fill="#1c1cd8"/>
<circle cx="216.54" cy="575.86" r="1.30" fill="#1c1cd8"/>
<circle cx="212.83" cy="573.60" r="1.30" fill="#1c1cd8"/>
<circle cx="218.51" cy="595.40" r="1.30" fill="#1c1cd8"/>
<line x1="224.40" y1="588.90" x2="234.00" y2="588.90" stroke="#151515" stroke-width="1.0"/>
<circle cx="228.70" cy="567.70" r="1.30" fill="#ea1d26"/>
<circle cx="228.80" cy="591.60" r="1.30" fill="#ea1d26"/>
<circle cx="227.27" cy="595.84" r="1.30" fill="#ea1d26"/>
<circle cx="232.53" cy="575.56" r="1.30" fill="#ea1d26"/>
<circle cx="226.39" cy="590.59" r="1.30" fill="#ea1d26"/>
<circle cx="231.28" cy="583.14" r="1.30" fill="#ea1d26"/>
<circle cx="230.98" cy="577.65" r="1.30" fill="#ea1d26"/>
<circle cx="228.90" cy="573.39" r="1.30" fill="#ea1d26"/>
<circle cx="227.81" cy="591.19" r="1.30" fill="#ea1d26"/>
<circle cx="231.60" cy="573.87" r="1.30" fill="#ea1d26"/>
<circle cx="230.93" cy="573.16" r="1.30" fill="#ea1d26"/>
<circle cx="227.43" cy="600.50" r="1.30" fill="#ea1d26"/>
<path d="M187.90,543.00 L187.90,541.30 L229.20,541.30 L229.20,543.00" stroke="#151515" stroke-width="1.1" fill="none"/>
<text x="208.55" y="542.19" font-size="7.0" text-anchor="middle" font-weight="bold" fill="#151515" letter-spacing="-0.6">*</text>
<path d="M187.90,546.40 L187.90,544.70 L215.40,544.70 L215.40,546.40" stroke="#151515" stroke-width="1.1" fill="none"/>
<text x="201.65" y="545.59" font-size="7.0" text-anchor="middle" font-weight="bold" fill="#151515" letter-spacing="-0.6">*</text>
<path d="M187.90,550.90 L187.90,549.20 L201.30,549.20 L201.30,550.90" stroke="#151515" stroke-width="1.1" fill="none"/>
<text x="194.60" y="550.09" font-size="7.0" text-anchor="middle" font-weight="bold" fill="#151515" letter-spacing="-0.6">*</text>
<line x1="247.80" y1="551.48" x2="247.80" y2="608.42" stroke="#151515" stroke-width="1.05"/>
<line x1="246.10" y1="552.00" x2="247.80" y2="552.00" stroke="#151515" stroke-width="1.05"/>
<line x1="246.10" y1="565.98" x2="247.80" y2="565.98" stroke="#151515" stroke-width="1.05"/>
<line x1="246.10" y1="579.95" x2="247.80" y2="579.95" stroke="#151515" stroke-width="1.05"/>
<line x1="246.10" y1="593.92" x2="247.80" y2="593.92" stroke="#151515" stroke-width="1.05"/>
<line x1="246.10" y1="607.90" x2="247.80" y2="607.90" stroke="#151515" stroke-width="1.05"/>
<line x1="247.28" y1="607.90" x2="299.00" y2="607.90" stroke="#151515" stroke-width="1.05"/>
<text x="255.20" y="612.90" font-size="4.5" text-anchor="middle" font-weight="bold" fill="#151515">None</text>
<text x="268.60" y="612.90" font-size="4.5" text-anchor="middle" font-weight="bold" fill="#151515">IL-4</text>
<text x="282.40" y="612.90" font-size="4.5" text-anchor="middle" font-weight="bold" fill="#151515">IL-13</text>
<text x="295.80" y="612.90" font-size="4.5" text-anchor="middle" font-weight="bold" fill="#151515">IL-4+</text>
<text x="295.80" y="617.40" font-size="4.5" text-anchor="middle" font-weight="bold" fill="#151515">IL-13</text>
<text x="275.50" y="530.60" font-size="6.3" text-anchor="middle" font-weight="bold" fill="#151515">MLN IFN-&#947;<tspan font-size="3.5" dy="-2">+</tspan><tspan dy="2">IL-17A</tspan><tspan font-size="3.91" dy="-2">+</tspan></text>
<line x1="250.40" y1="595.00" x2="260.00" y2="595.00" stroke="#151515" stroke-width="1.0"/>
<circle cx="256.24" cy="552.50" r="1.30" fill="#26c19a"/>
<circle cx="258.67" cy="601.44" r="1.30" fill="#26c19a"/>
<circle cx="253.49" cy="600.87" r="1.30" fill="#26c19a"/>
<circle cx="258.30" cy="557.75" r="1.30" fill="#26c19a"/>
<circle cx="257.82" cy="579.01" r="1.30" fill="#26c19a"/>
<circle cx="256.68" cy="581.35" r="1.30" fill="#26c19a"/>
<circle cx="256.66" cy="591.13" r="1.30" fill="#26c19a"/>
<circle cx="256.93" cy="606.86" r="1.30" fill="#26c19a"/>
<circle cx="254.86" cy="566.25" r="1.30" fill="#26c19a"/>
<circle cx="259.10" cy="603.24" r="1.30" fill="#26c19a"/>
<circle cx="251.76" cy="597.32" r="1.30" fill="#26c19a"/>
<circle cx="254.40" cy="606.97" r="1.30" fill="#26c19a"/>
<circle cx="254.08" cy="605.75" r="1.30" fill="#26c19a"/>
<circle cx="255.06" cy="575.59" r="1.30" fill="#26c19a"/>
<circle cx="258.12" cy="606.93" r="1.30" fill="#26c19a"/>
<circle cx="251.55" cy="606.98" r="1.30" fill="#26c19a"/>
<circle cx="254.46" cy="605.50" r="1.30" fill="#26c19a"/>
<circle cx="254.74" cy="605.12" r="1.30" fill="#26c19a"/>
<circle cx="254.14" cy="601.40" r="1.30" fill="#26c19a"/>
<circle cx="256.16" cy="601.63" r="1.30" fill="#26c19a"/>
<circle cx="256.90" cy="606.77" r="1.30" fill="#26c19a"/>
<circle cx="256.29" cy="607.00" r="1.30" fill="#26c19a"/>
<circle cx="255.24" cy="604.98" r="1.30" fill="#26c19a"/>
<circle cx="254.05" cy="605.80" r="1.30" fill="#26c19a"/>
<circle cx="259.40" cy="599.47" r="1.30" fill="#26c19a"/>
<circle cx="257.91" cy="598.47" r="1.30" fill="#26c19a"/>
<circle cx="256.61" cy="588.33" r="1.30" fill="#26c19a"/>
<circle cx="251.61" cy="603.03" r="1.30" fill="#26c19a"/>
<circle cx="254.25" cy="604.45" r="1.30" fill="#26c19a"/>
<circle cx="256.87" cy="593.51" r="1.30" fill="#26c19a"/>
<circle cx="252.53" cy="567.17" r="1.30" fill="#26c19a"/>
<circle cx="254.58" cy="592.44" r="1.30" fill="#26c19a"/>
<circle cx="254.64" cy="607.00" r="1.30" fill="#26c19a"/>
<circle cx="252.10" cy="605.86" r="1.30" fill="#26c19a"/>
<circle cx="258.14" cy="558.58" r="1.30" fill="#26c19a"/>
<circle cx="258.54" cy="558.59" r="1.30" fill="#26c19a"/>
<circle cx="253.30" cy="605.86" r="1.30" fill="#26c19a"/>
<circle cx="252.29" cy="606.61" r="1.30" fill="#26c19a"/>
<circle cx="253.11" cy="607.00" r="1.30" fill="#26c19a"/>
<circle cx="257.05" cy="606.93" r="1.30" fill="#26c19a"/>
<circle cx="252.79" cy="606.99" r="1.30" fill="#26c19a"/>
<circle cx="257.26" cy="555.54" r="1.30" fill="#26c19a"/>
<circle cx="258.74" cy="561.29" r="1.30" fill="#26c19a"/>
<circle cx="251.68" cy="605.32" r="1.30" fill="#26c19a"/>
<circle cx="256.86" cy="607.00" r="1.30" fill="#26c19a"/>
<circle cx="256.90" cy="607.00" r="1.30" fill="#26c19a"/>
<line x1="263.80" y1="586.40" x2="273.40" y2="586.40" stroke="#151515" stroke-width="1.0"/>
<circle cx="267.12" cy="574.40" r="1.30" fill="#f68c22"/>
<circle cx="266.71" cy="587.09" r="1.30" fill="#f68c22"/>
<circle cx="270.75" cy="580.01" r="1.30" fill="#f68c22"/>
<circle cx="265.63" cy="577.11" r="1.30" fill="#f68c22"/>
<circle cx="266.55" cy="592.11" r="1.30" fill="#f68c22"/>
<circle cx="271.91" cy="577.97" r="1.30" fill="#f68c22"/>
<circle cx="267.59" cy="592.13" r="1.30" fill="#f68c22"/>
<circle cx="269.22" cy="589.96" r="1.30" fill="#f68c22"/>
<circle cx="269.43" cy="581.96" r="1.30" fill="#f68c22"/>
<circle cx="269.91" cy="593.80" r="1.30" fill="#f68c22"/>
<line x1="277.60" y1="572.10" x2="287.20" y2="572.10" stroke="#151515" stroke-width="1.0"/>
<circle cx="280.90" cy="561.40" r="1.30" fill="#1c1cd8"/>
<circle cx="281.65" cy="580.14" r="1.30" fill="#1c1cd8"/>
<circle cx="284.66" cy="568.16" r="1.30" fill="#1c1cd8"/>
<circle cx="280.49" cy="569.42" r="1.30" fill="#1c1cd8"/>
<circle cx="279.18" cy="584.70" r="1.30" fill="#1c1cd8"/>
<circle cx="279.66" cy="582.77" r="1.30" fill="#1c1cd8"/>
<circle cx="280.36" cy="584.90" r="1.30" fill="#1c1cd8"/>
<line x1="291.00" y1="583.80" x2="300.60" y2="583.80" stroke="#151515" stroke-width="1.0"/>
<circle cx="292.76" cy="561.90" r="1.30" fill="#ea1d26"/>
<circle cx="294.05" cy="567.53" r="1.30" fill="#ea1d26"/>
<circle cx="298.89" cy="567.04" r="1.30" fill="#ea1d26"/>
<circle cx="295.29" cy="589.53" r="1.30" fill="#ea1d26"/>
<circle cx="295.82" cy="595.20" r="1.30" fill="#ea1d26"/>
<circle cx="297.15" cy="598.44" r="1.30" fill="#ea1d26"/>
<circle cx="295.05" cy="595.51" r="1.30" fill="#ea1d26"/>
<circle cx="292.68" cy="596.59" r="1.30" fill="#ea1d26"/>
<circle cx="298.14" cy="593.04" r="1.30" fill="#ea1d26"/>
<circle cx="293.78" cy="597.57" r="1.30" fill="#ea1d26"/>
<circle cx="298.57" cy="579.53" r="1.30" fill="#ea1d26"/>
<circle cx="296.23" cy="599.40" r="1.30" fill="#ea1d26"/>
<path d="M255.20,543.00 L255.20,541.30 L295.80,541.30 L295.80,543.00" stroke="#151515" stroke-width="1.1" fill="none"/>
<text x="275.50" y="542.19" font-size="7.0" text-anchor="middle" font-weight="bold" fill="#151515" letter-spacing="-0.6">*</text>
<path d="M255.20,547.10 L255.20,545.40 L295.80,545.40 L295.80,547.10" stroke="#151515" stroke-width="1.1" fill="none"/>
<path d="M255.20,551.50 L255.20,549.80 L282.40,549.80 L282.40,551.50" stroke="#151515" stroke-width="1.1" fill="none"/>
<text x="262.00" y="546.99" font-size="7.0" text-anchor="middle" font-weight="bold" fill="#151515" letter-spacing="-0.6">**</text>
<text x="289.00" y="546.99" font-size="7.0" text-anchor="middle" font-weight="bold" fill="#151515" letter-spacing="-0.6">*</text>
<text x="262.00" y="551.39" font-size="7.0" text-anchor="middle" font-weight="bold" fill="#151515" letter-spacing="-0.6">*</text>
<text x="275.00" y="551.39" font-size="7.0" text-anchor="middle" font-weight="bold" fill="#151515" letter-spacing="-0.6">*</text>
<text x="308.40" y="528.00" font-size="14.0" text-anchor="start" font-weight="normal" fill="#151515">O</text>
<line x1="321.00" y1="623.83" x2="321.00" y2="560.20" stroke="#151515" stroke-width="1.25"/>
<line x1="320.38" y1="623.20" x2="451.60" y2="623.20" stroke="#151515" stroke-width="1.25"/>
<path d="M321.00,551.80 L324.70,562.30 Q321.00,560.83 317.30,562.30 Z" fill="#151515"/>
<path d="M460.00,623.20 L449.50,619.50 Q450.97,623.20 449.50,626.90 Z" fill="#151515"/>
<text x="318.60" y="580.80" font-size="6.7" text-anchor="middle" font-weight="bold" fill="#151515" transform="rotate(-90 318.60 580.80)">Cell (X10<tspan font-size="3.6" dy="-2">6</tspan><tspan dy="2">)</tspan></text>
<text x="392.50" y="628.60" font-size="6.1" text-anchor="middle" font-weight="bold" fill="#151515">Treatment</text>
<line x1="333.30" y1="550.58" x2="333.30" y2="608.32" stroke="#151515" stroke-width="1.05"/>
<line x1="331.60" y1="551.10" x2="333.30" y2="551.10" stroke="#151515" stroke-width="1.05"/>
<line x1="331.60" y1="565.27" x2="333.30" y2="565.27" stroke="#151515" stroke-width="1.05"/>
<line x1="331.60" y1="579.45" x2="333.30" y2="579.45" stroke="#151515" stroke-width="1.05"/>
<line x1="331.60" y1="593.62" x2="333.30" y2="593.62" stroke="#151515" stroke-width="1.05"/>
<line x1="331.60" y1="607.80" x2="333.30" y2="607.80" stroke="#151515" stroke-width="1.05"/>
<text x="330.80" y="552.76" font-size="4.6" text-anchor="end" font-weight="bold" fill="#151515">1</text>
<text x="330.80" y="609.46" font-size="4.6" text-anchor="end" font-weight="bold" fill="#151515">0</text>
<line x1="332.78" y1="607.80" x2="390.00" y2="607.80" stroke="#151515" stroke-width="1.05"/>
<text x="340.90" y="612.80" font-size="4.5" text-anchor="middle" font-weight="bold" fill="#151515">None</text>
<text x="355.20" y="612.80" font-size="4.5" text-anchor="middle" font-weight="bold" fill="#151515">IL-4</text>
<text x="369.70" y="612.80" font-size="4.5" text-anchor="middle" font-weight="bold" fill="#151515">IL-13</text>
<text x="383.30" y="612.80" font-size="4.5" text-anchor="middle" font-weight="bold" fill="#151515">IL-4+</text>
<text x="383.30" y="617.30" font-size="4.5" text-anchor="middle" font-weight="bold" fill="#151515">IL-13</text>
<text x="362.10" y="530.60" font-size="6.3" text-anchor="middle" font-weight="bold" fill="#151515">SP IFN-&#947;<tspan font-size="3.5" dy="-2">+</tspan><tspan dy="2">IL-17A</tspan><tspan font-size="3.91" dy="-2">+</tspan></text>
<rect x="336.00" y="596.00" width="9.80" height="11.80" fill="#26c19a"/>
<line x1="340.90" y1="596.00" x2="340.90" y2="593.80" stroke="#151515" stroke-width="0.9"/>
<line x1="338.70" y1="593.80" x2="343.10" y2="593.80" stroke="#151515" stroke-width="0.9"/>
<rect x="350.30" y="580.00" width="9.80" height="27.80" fill="#f68c22"/>
<line x1="355.20" y1="580.00" x2="355.20" y2="574.80" stroke="#151515" stroke-width="0.9"/>
<line x1="353.00" y1="574.80" x2="357.40" y2="574.80" stroke="#151515" stroke-width="0.9"/>
<rect x="364.80" y="577.00" width="9.80" height="30.80" fill="#1c1cd8"/>
<line x1="369.70" y1="577.00" x2="369.70" y2="569.90" stroke="#151515" stroke-width="0.9"/>
<line x1="367.50" y1="569.90" x2="371.90" y2="569.90" stroke="#151515" stroke-width="0.9"/>
<rect x="378.40" y="585.50" width="9.80" height="22.30" fill="#ea1d26"/>
<line x1="383.30" y1="585.50" x2="383.30" y2="581.00" stroke="#151515" stroke-width="0.9"/>
<line x1="381.10" y1="581.00" x2="385.50" y2="581.00" stroke="#151515" stroke-width="0.9"/>
<path d="M340.90,543.00 L340.90,541.30 L383.30,541.30 L383.30,543.00" stroke="#151515" stroke-width="1.1" fill="none"/>
<text x="362.10" y="542.19" font-size="7.0" text-anchor="middle" font-weight="bold" fill="#151515" letter-spacing="-0.6">**</text>
<path d="M340.90,547.10 L340.90,545.40 L369.70,545.40 L369.70,547.10" stroke="#151515" stroke-width="1.1" fill="none"/>
<text x="355.30" y="546.29" font-size="7.0" text-anchor="middle" font-weight="bold" fill="#151515" letter-spacing="-0.6">**</text>
<path d="M340.90,550.90 L340.90,549.20 L355.20,549.20 L355.20,550.90" stroke="#151515" stroke-width="1.1" fill="none"/>
<text x="348.05" y="550.09" font-size="7.0" text-anchor="middle" font-weight="bold" fill="#151515" letter-spacing="-0.6">**</text>
<line x1="400.00" y1="551.98" x2="400.00" y2="609.27" stroke="#151515" stroke-width="1.05"/>
<line x1="398.30" y1="552.50" x2="400.00" y2="552.50" stroke="#151515" stroke-width="1.05"/>
<line x1="398.30" y1="566.56" x2="400.00" y2="566.56" stroke="#151515" stroke-width="1.05"/>
<line x1="398.30" y1="580.62" x2="400.00" y2="580.62" stroke="#151515" stroke-width="1.05"/>
<line x1="398.30" y1="594.69" x2="400.00" y2="594.69" stroke="#151515" stroke-width="1.05"/>
<line x1="398.30" y1="608.75" x2="400.00" y2="608.75" stroke="#151515" stroke-width="1.05"/>
<line x1="399.48" y1="608.75" x2="456.30" y2="608.75" stroke="#151515" stroke-width="1.05"/>
<text x="406.90" y="613.75" font-size="4.5" text-anchor="middle" font-weight="bold" fill="#151515">None</text>
<text x="422.00" y="613.75" font-size="4.5" text-anchor="middle" font-weight="bold" fill="#151515">IL-4</text>
<text x="436.30" y="613.75" font-size="4.5" text-anchor="middle" font-weight="bold" fill="#151515">IL-13</text>
<text x="450.00" y="613.75" font-size="4.5" text-anchor="middle" font-weight="bold" fill="#151515">IL-4+</text>
<text x="450.00" y="618.25" font-size="4.5" text-anchor="middle" font-weight="bold" fill="#151515">IL-13</text>
<text x="425.45" y="530.60" font-size="6.3" text-anchor="middle" font-weight="bold" fill="#151515">MLN IFN-&#947;<tspan font-size="3.5" dy="-2">+</tspan><tspan dy="2">IL-17A</tspan><tspan font-size="3.91" dy="-2">+</tspan></text>
<rect x="401.90" y="606.25" width="10.00" height="2.50" fill="#26c19a"/>
<rect x="417.00" y="598.75" width="10.00" height="10.00" fill="#f68c22"/>
<line x1="422.00" y1="598.75" x2="422.00" y2="597.50" stroke="#151515" stroke-width="0.9"/>
<line x1="419.80" y1="597.50" x2="424.20" y2="597.50" stroke="#151515" stroke-width="0.9"/>
<rect x="431.30" y="585.75" width="10.00" height="23.00" fill="#1c1cd8"/>
<line x1="436.30" y1="585.75" x2="436.30" y2="583.00" stroke="#151515" stroke-width="0.9"/>
<line x1="434.10" y1="583.00" x2="438.50" y2="583.00" stroke="#151515" stroke-width="0.9"/>
<rect x="445.00" y="587.50" width="10.00" height="21.25" fill="#ea1d26"/>
<line x1="450.00" y1="587.50" x2="450.00" y2="584.50" stroke="#151515" stroke-width="0.9"/>
<line x1="447.80" y1="584.50" x2="452.20" y2="584.50" stroke="#151515" stroke-width="0.9"/>
<path d="M406.90,544.20 L406.90,542.50 L450.00,542.50 L450.00,544.20" stroke="#151515" stroke-width="1.1" fill="none"/>
<text x="428.45" y="543.39" font-size="7.0" text-anchor="middle" font-weight="bold" fill="#151515" letter-spacing="-0.6">***</text>
<path d="M406.90,547.20 L406.90,545.50 L436.30,545.50 L436.30,547.20" stroke="#151515" stroke-width="1.1" fill="none"/>
<text x="421.60" y="546.39" font-size="7.0" text-anchor="middle" font-weight="bold" fill="#151515" letter-spacing="-0.6">***</text>
<path d="M406.90,552.20 L406.90,550.50 L422.00,550.50 L422.00,552.20" stroke="#151515" stroke-width="1.1" fill="none"/>
<text x="414.45" y="551.39" font-size="7.0" text-anchor="middle" font-weight="bold" fill="#151515" letter-spacing="-0.6">***</text>
<path d="M422.00,552.20 L422.00,550.50 L436.30,550.50 L436.30,552.20" stroke="#151515" stroke-width="1.1" fill="none"/>
<text x="429.15" y="551.39" font-size="7.0" text-anchor="middle" font-weight="bold" fill="#151515" letter-spacing="-0.6">**</text>
<path d="M422.00,557.95 L422.00,556.25 L450.00,556.25 L450.00,557.95" stroke="#151515" stroke-width="1.1" fill="none"/>
<text x="436.00" y="557.14" font-size="7.0" text-anchor="middle" font-weight="bold" fill="#151515" letter-spacing="-0.6">**</text>
</svg></body></html>
